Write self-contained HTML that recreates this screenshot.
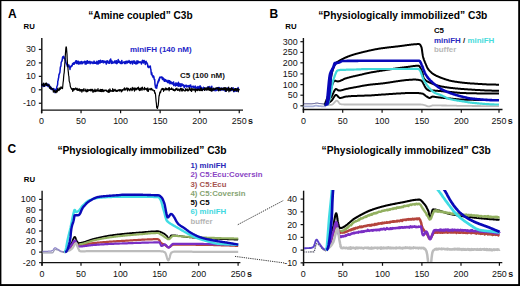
<!DOCTYPE html>
<html><head><meta charset="utf-8"><style>
html,body{margin:0;padding:0;background:#fff;}
body{width:520px;height:286px;overflow:hidden;}
svg{display:block;font-family:'Liberation Sans', sans-serif;}
</style></head><body>
<svg width="520" height="286" viewBox="0 0 520 286">
<rect x="0" y="0" width="520" height="286" fill="#fff"/>
<text x="7.9" y="17.5" font-size="12" font-weight="bold" text-anchor="start" fill="#000" >A</text>
<text x="88.3" y="19.0" font-size="10.1" font-weight="bold" text-anchor="start" fill="#000" >“Amine coupled” C3b</text>
<text x="23.6" y="28.9" font-size="7.8" font-weight="bold" text-anchor="start" fill="#000" >RU</text>
<line x1="41.8" y1="38" x2="41.8" y2="113.3" stroke="#111" stroke-width="1.4" />
<line x1="41.099999999999994" y1="110.1" x2="243" y2="110.1" stroke="#111" stroke-width="1.4" />
<line x1="38.8" y1="49.449999999999996" x2="41.8" y2="49.449999999999996" stroke="#111" stroke-width="1.2" />
<text x="35.8" y="52.349999999999994" font-size="8.9" font-weight="normal" text-anchor="end" fill="#111" >30</text>
<line x1="38.8" y1="62.9" x2="41.8" y2="62.9" stroke="#111" stroke-width="1.2" />
<text x="35.8" y="65.8" font-size="8.9" font-weight="normal" text-anchor="end" fill="#111" >20</text>
<line x1="38.8" y1="76.35" x2="41.8" y2="76.35" stroke="#111" stroke-width="1.2" />
<text x="35.8" y="79.25" font-size="8.9" font-weight="normal" text-anchor="end" fill="#111" >10</text>
<line x1="38.8" y1="89.8" x2="41.8" y2="89.8" stroke="#111" stroke-width="1.2" />
<text x="35.8" y="92.7" font-size="8.9" font-weight="normal" text-anchor="end" fill="#111" >0</text>
<line x1="38.8" y1="103.25" x2="41.8" y2="103.25" stroke="#111" stroke-width="1.2" />
<text x="35.8" y="106.15" font-size="8.9" font-weight="normal" text-anchor="end" fill="#111" >-10</text>
<line x1="41.5" y1="110.1" x2="41.5" y2="113.3" stroke="#111" stroke-width="1.2" />
<text x="41.5" y="124.1" font-size="8.9" font-weight="normal" text-anchor="middle" fill="#111" >0</text>
<line x1="81.05000000000001" y1="110.1" x2="81.05000000000001" y2="113.3" stroke="#111" stroke-width="1.2" />
<text x="81.05000000000001" y="124.1" font-size="8.9" font-weight="normal" text-anchor="middle" fill="#111" >50</text>
<line x1="120.60000000000001" y1="110.1" x2="120.60000000000001" y2="113.3" stroke="#111" stroke-width="1.2" />
<text x="120.60000000000001" y="124.1" font-size="8.9" font-weight="normal" text-anchor="middle" fill="#111" >100</text>
<line x1="160.15" y1="110.1" x2="160.15" y2="113.3" stroke="#111" stroke-width="1.2" />
<text x="160.15" y="124.1" font-size="8.9" font-weight="normal" text-anchor="middle" fill="#111" >150</text>
<line x1="199.70000000000002" y1="110.1" x2="199.70000000000002" y2="113.3" stroke="#111" stroke-width="1.2" />
<text x="199.70000000000002" y="124.1" font-size="8.9" font-weight="normal" text-anchor="middle" fill="#111" >200</text>
<line x1="239.25" y1="110.1" x2="239.25" y2="113.3" stroke="#111" stroke-width="1.2" />
<text x="239.25" y="124.1" font-size="8.9" font-weight="normal" text-anchor="middle" fill="#111" >250</text>
<text x="248.05" y="124.1" font-size="8.9" font-weight="bold" text-anchor="start" fill="#111" >s</text>
<text x="129.9" y="52.3" font-size="8" font-weight="bold" text-anchor="start" fill="#2424c8" >miniFH (140 nM)</text>
<text x="180.0" y="78.3" font-size="8" font-weight="bold" text-anchor="start" fill="#111" >C5 (100 nM)</text>
<polyline points="41.5,85.8 41.8,85.9 42.1,85.3 42.3,84.6 42.6,84.9 42.9,84.3 43.2,85.3 43.4,86.5 43.7,84.7 44.0,84.5 44.3,85.6 44.5,85.4 44.8,85.2 45.1,84.2 45.4,85.1 45.7,85.8 45.9,83.9 46.2,84.8 46.5,83.5 46.8,84.2 47.0,83.8 47.3,85.5 47.6,84.7 47.9,86.4 48.1,86.4 48.4,86.3 48.7,84.3 49.0,86.3 49.3,87.0 49.5,87.3 49.8,85.9 50.1,87.1 50.4,86.8 50.6,87.1 50.9,89.1 51.2,87.5 51.5,88.5 51.7,89.6 52.0,88.4 52.3,89.0 52.6,89.4 52.9,89.5 53.1,88.5 53.4,89.9 53.7,91.3 54.0,88.7 54.2,91.2 54.5,90.7 54.8,90.1 55.1,92.7 55.3,91.6 55.6,89.6 55.9,90.4 56.2,90.2 56.4,88.6 56.7,88.2 57.0,86.2 57.3,85.5 57.6,84.7 57.8,81.2 58.1,80.5 58.4,78.4 58.7,77.5 58.9,75.1 59.2,74.4 59.5,73.3 59.8,72.9 60.0,71.5 60.3,67.6 60.6,66.5 60.9,66.2 61.2,62.2 61.4,62.1 61.7,61.1 62.0,61.1 62.3,59.5 62.5,57.6 62.8,56.9 63.1,56.5 63.4,58.0 63.6,56.3 63.9,56.8 64.2,58.0 64.5,58.2 64.8,58.9 65.0,58.7 65.3,60.4 65.6,60.6 65.9,62.8 66.1,63.1 66.4,63.2 66.7,64.5 67.0,64.2 67.2,66.1 67.5,65.5 67.8,66.4 68.1,64.9 68.4,66.7 68.6,65.1 68.9,65.0 69.2,66.8 69.5,66.4 69.7,67.5 70.0,69.5 70.3,66.5 70.6,66.5 70.8,67.0 71.1,66.9 71.4,65.9 71.7,65.5 72.0,66.0 72.2,65.5 72.5,63.8 72.8,64.4 73.1,64.3 73.3,63.0 73.6,64.0 73.9,62.7 74.2,64.2 74.4,63.3 74.7,63.1 75.0,62.3 75.3,62.8 75.6,61.0 75.8,61.8 76.1,63.2 76.4,60.8 76.7,63.6 76.9,61.1 77.2,63.5 77.5,62.0 77.8,63.5 78.0,62.9 78.3,61.3 78.6,63.9 78.9,64.1 79.2,62.6 79.4,62.4 79.7,62.5 80.0,61.7 80.3,63.7 80.5,62.1 80.8,62.6 81.1,61.9 81.4,62.0 81.6,61.4 81.9,63.8 82.2,62.5 82.5,63.5 82.8,62.6 83.0,61.9 83.3,62.3 83.6,62.0 83.9,62.6 84.1,62.2 84.4,62.3 84.7,61.3 85.0,61.8 85.2,64.1 85.5,61.9 85.8,61.5 86.1,62.9 86.3,63.9 86.6,61.2 86.9,62.3 87.2,61.9 87.5,60.8 87.7,63.2 88.0,62.5 88.3,62.6 88.6,61.8 88.8,62.9 89.1,62.0 89.4,62.4 89.7,61.4 89.9,61.3 90.2,63.7 90.5,62.0 90.8,62.7 91.1,62.4 91.3,62.0 91.6,62.0 91.9,63.0 92.2,62.1 92.4,62.3 92.7,62.4 93.0,63.5 93.3,63.1 93.5,62.8 93.8,61.9 94.1,61.1 94.4,63.3 94.7,63.3 94.9,62.3 95.2,62.9 95.5,63.1 95.8,63.2 96.0,63.2 96.3,61.9 96.6,63.8 96.9,61.2 97.1,63.2 97.4,62.8 97.7,63.2 98.0,64.1 98.3,63.7 98.5,61.2 98.8,60.7 99.1,63.1 99.4,61.3 99.6,62.3 99.9,63.1 100.2,60.7 100.5,60.3 100.7,62.5 101.0,62.3 101.3,62.0 101.6,62.3 101.9,61.4 102.1,60.8 102.4,62.1 102.7,61.3 103.0,60.7 103.2,62.7 103.5,62.2 103.8,62.6 104.1,61.3 104.3,61.6 104.6,61.3 104.9,61.4 105.2,62.4 105.5,61.5 105.7,62.5 106.0,62.5 106.3,64.1 106.6,60.9 106.8,63.0 107.1,62.1 107.4,62.2 107.7,60.8 107.9,61.7 108.2,62.9 108.5,62.1 108.8,62.2 109.1,61.9 109.3,63.3 109.6,62.1 109.9,60.1 110.2,61.5 110.4,60.3 110.7,59.1 111.0,61.6 111.3,63.4 111.5,62.2 111.8,61.0 112.1,61.2 112.4,63.2 112.7,62.3 112.9,62.2 113.2,62.1 113.5,62.2 113.8,62.9 114.0,62.6 114.3,62.3 114.6,61.1 114.9,62.6 115.1,61.5 115.4,63.1 115.7,60.9 116.0,62.0 116.2,62.1 116.5,60.8 116.8,63.7 117.1,63.5 117.4,61.7 117.6,62.8 117.9,62.5 118.2,59.6 118.5,62.3 118.7,62.0 119.0,62.2 119.3,61.1 119.6,61.8 119.8,61.9 120.1,63.2 120.4,62.4 120.7,62.1 121.0,63.5 121.2,61.6 121.5,61.7 121.8,60.4 122.1,63.6 122.3,63.0 122.6,63.0 122.9,62.7 123.2,62.2 123.4,62.3 123.7,61.9 124.0,61.9 124.3,62.1 124.6,63.5 124.8,62.6 125.1,62.0 125.4,61.5 125.7,61.5 125.9,63.6 126.2,62.6 126.5,62.2 126.8,61.8 127.0,61.0 127.3,62.0 127.6,62.9 127.9,61.7 128.2,61.9 128.4,61.9 128.7,62.2 129.0,60.6 129.3,61.9 129.5,61.3 129.8,62.9 130.1,61.4 130.4,62.7 130.6,63.6 130.9,61.8 131.2,61.5 131.5,62.3 131.8,62.1 132.0,61.2 132.3,62.5 132.6,64.0 132.9,61.9 133.1,61.9 133.4,61.1 133.7,62.4 134.0,60.9 134.2,61.1 134.5,63.3 134.8,61.3 135.1,63.2 135.4,63.6 135.6,62.4 135.9,62.7 136.2,64.0 136.5,61.9 136.7,61.6 137.0,60.8 137.3,62.2 137.6,63.5 137.8,63.1 138.1,61.2 138.4,61.3 138.7,61.7 139.0,62.4 139.2,62.0 139.5,62.4 139.8,62.4 140.1,61.9 140.3,62.1 140.6,62.4 140.9,62.1 141.2,62.6 141.4,64.0 141.7,62.7 142.0,62.2 142.3,60.6 142.6,62.6 142.8,60.3 143.1,60.9 143.4,63.0 143.7,62.9 143.9,62.1 144.2,60.6 144.5,61.9 144.8,61.6 145.0,62.8 145.3,64.4 145.6,62.4 145.9,61.5 146.1,61.3 146.4,62.7 146.7,63.0 147.0,62.7 147.3,64.5 147.5,63.9 147.8,66.7 148.1,67.1 148.4,67.5 148.6,66.3 148.9,67.4 149.2,66.9 149.5,66.7 149.7,66.8 150.0,66.1 150.3,66.1 150.6,68.8 150.9,69.6 151.1,72.1 151.4,74.5 151.7,72.6 152.0,74.1 152.2,75.5 152.5,76.1 152.8,75.7 153.1,77.4 153.3,77.0 153.6,76.1 153.9,76.9 154.2,79.2 154.5,79.9 154.7,79.4 155.0,84.6 155.3,85.8 155.6,87.8 155.8,86.6 156.1,86.5 156.4,85.3 156.7,88.2 156.9,85.0 157.2,85.9 157.5,83.1 157.8,83.2 158.1,80.9 158.3,81.4 158.6,81.9 158.9,79.1 159.2,80.5 159.4,79.2 159.7,77.3 160.0,77.4 160.3,77.3 160.5,77.7 160.8,77.2 161.1,77.0 161.4,77.7 161.7,77.1 161.9,77.0 162.2,78.4 162.5,79.5 162.8,77.4 163.0,79.0 163.3,78.6 163.6,78.5 163.9,80.4 164.1,79.2 164.4,81.3 164.7,79.3 165.0,80.5 165.3,80.1 165.5,79.7 165.8,81.2 166.1,80.6 166.4,81.5 166.6,81.0 166.9,80.2 167.2,81.2 167.5,81.5 167.7,82.5 168.0,80.9 168.3,81.8 168.6,80.4 168.9,82.8 169.1,81.2 169.4,80.7 169.7,82.5 170.0,83.7 170.2,81.3 170.5,81.8 170.8,82.2 171.1,82.0 171.3,83.5 171.6,82.4 171.9,82.6 172.2,83.9 172.5,82.7 172.7,83.9 173.0,82.7 173.3,82.5 173.6,82.0 173.8,85.6 174.1,83.6 174.4,84.2 174.7,84.0 174.9,84.3 175.2,84.2 175.5,86.0 175.8,83.3 176.0,82.9 176.3,83.5 176.6,83.2 176.9,85.3 177.2,85.4 177.4,83.8 177.7,83.4 178.0,84.5 178.3,86.2 178.5,82.2 178.8,85.5 179.1,84.0 179.4,86.1 179.6,84.1 179.9,84.9 180.2,83.8 180.5,84.4 180.8,86.7 181.0,86.2 181.3,85.1 181.6,84.7 181.9,83.7 182.1,85.2 182.4,85.6 182.7,85.6 183.0,85.6 183.2,84.7 183.5,85.8 183.8,85.8 184.1,87.1 184.4,87.7 184.6,85.9 184.9,85.3 185.2,86.0 185.5,85.6 185.7,85.5 186.0,86.2 186.3,85.3 186.6,86.9 186.8,86.3 187.1,86.6 187.4,86.3 187.7,85.8 188.0,85.6 188.2,86.4 188.5,86.1 188.8,86.9 189.1,86.7 189.3,85.5 189.6,86.9 189.9,85.6 190.2,86.3 190.4,86.6 190.7,85.0 191.0,87.1 191.3,87.2 191.6,86.9 191.8,86.7 192.1,86.8 192.4,86.3 192.7,87.0 192.9,86.8 193.2,87.4 193.5,86.2 193.8,87.6 194.0,87.6 194.3,87.4 194.6,87.1 194.9,88.1 195.2,86.0 195.4,88.1 195.7,87.9 196.0,88.0 196.3,88.1 196.5,87.2 196.8,87.6 197.1,88.5 197.4,88.3 197.6,88.1 197.9,86.5 198.2,88.5 198.5,89.2 198.8,89.0 199.0,88.3 199.3,86.7 199.6,89.1 199.9,88.1 200.1,85.8 200.4,88.6 200.7,86.9 201.0,87.1 201.2,87.7 201.5,89.6 201.8,88.0 202.1,88.7 202.3,90.1 202.6,90.0 202.9,88.4 203.2,88.3 203.5,87.3 203.7,87.9 204.0,88.9 204.3,88.9 204.6,88.7 204.8,89.5 205.1,87.9 205.4,88.6 205.7,89.3 205.9,89.2 206.2,89.7 206.5,89.0 206.8,88.4 207.1,89.0 207.3,87.7 207.6,87.1 207.9,89.3 208.2,88.7 208.4,89.0 208.7,87.1 209.0,88.4 209.3,88.2 209.5,88.0 209.8,86.6 210.1,88.5 210.4,89.7 210.7,89.2 210.9,88.3 211.2,88.8 211.5,89.6 211.8,86.2 212.0,88.7 212.3,89.4 212.6,89.5 212.9,90.5 213.1,90.0 213.4,89.2 213.7,89.2 214.0,89.7 214.3,88.4 214.5,88.9 214.8,89.8 215.1,90.8 215.4,88.8 215.6,88.9 215.9,89.2 216.2,90.2 216.5,88.9 216.7,90.4 217.0,88.1 217.3,88.8 217.6,88.8 217.9,89.8 218.1,90.0 218.4,87.6 218.7,88.2 219.0,89.4 219.2,88.4 219.5,87.6 219.8,90.0 220.1,89.5 220.3,89.5 220.6,88.6 220.9,90.1 221.2,88.9 221.5,90.1 221.7,88.2 222.0,88.3 222.3,89.3 222.6,88.4 222.8,89.8 223.1,89.4 223.4,88.2 223.7,89.2 223.9,88.8 224.2,90.0 224.5,88.5 224.8,88.7 225.1,90.3 225.3,91.3 225.6,91.1 225.9,89.2 226.2,89.4 226.4,90.6 226.7,89.1 227.0,88.3 227.3,89.3 227.5,89.6 227.8,88.4 228.1,87.7 228.4,87.9 228.7,89.9 228.9,88.5 229.2,89.1 229.5,89.5 229.8,89.8 230.0,88.9 230.3,89.7 230.6,88.4 230.9,88.9 231.1,88.3 231.4,90.4 231.7,89.3 232.0,88.6 232.2,89.0 232.5,89.1 232.8,90.0 233.1,87.8 233.4,88.3 233.6,89.0 233.9,91.7 234.2,90.2 234.5,89.2 234.7,90.0 235.0,91.3 235.3,89.1 235.6,89.0 235.8,90.5 236.1,89.8 236.4,90.0 236.7,88.9 237.0,91.2 237.2,91.0 237.5,89.9 237.8,90.0 238.1,87.5 238.3,90.0 238.6,89.2 238.9,89.8 239.2,90.0" fill="none" stroke="#0a14c8" stroke-width="1.5" stroke-linejoin="round" stroke-linecap="butt" />
<polyline points="41.5,85.5 41.8,84.2 42.1,85.8 42.3,84.7 42.6,84.9 42.9,84.6 43.2,84.7 43.4,83.0 43.7,85.9 44.0,85.0 44.3,85.7 44.5,86.4 44.8,84.7 45.1,83.2 45.4,83.9 45.7,83.7 45.9,84.3 46.2,84.9 46.5,83.2 46.8,85.3 47.0,83.8 47.3,85.5 47.6,85.3 47.9,85.2 48.1,85.6 48.4,85.4 48.7,85.5 49.0,84.7 49.3,86.3 49.5,88.1 49.8,88.4 50.1,88.1 50.4,87.8 50.6,86.9 50.9,89.0 51.2,88.1 51.5,88.4 51.7,88.5 52.0,89.1 52.3,88.9 52.6,89.5 52.9,88.8 53.1,89.7 53.4,92.2 53.7,90.5 54.0,90.6 54.2,91.5 54.5,91.8 54.8,90.4 55.1,91.3 55.3,92.3 55.6,91.8 55.9,91.6 56.2,92.7 56.4,90.6 56.7,91.1 57.0,90.4 57.3,91.9 57.6,88.7 57.8,89.6 58.1,89.5 58.4,90.3 58.7,90.1 58.9,90.6 59.2,87.9 59.5,89.8 59.8,88.8 60.0,88.4 60.3,89.3 60.6,88.0 60.9,86.9 61.2,88.2 61.4,87.1 61.7,87.7 62.0,88.4 62.3,88.1 62.5,88.6 62.8,85.7 63.1,82.5 63.4,80.6 63.6,77.6 63.9,74.3 64.2,72.6 64.5,68.6 64.8,63.7 65.0,61.2 65.3,55.5 65.6,51.4 65.9,47.9 66.1,46.8 66.4,47.1 66.7,50.9 67.0,54.3 67.2,59.0 67.5,63.7 67.8,66.2 68.1,70.2 68.4,72.6 68.6,75.4 68.9,76.4 69.2,81.1 69.5,81.9 69.7,82.6 70.0,83.7 70.3,86.2 70.6,87.3 70.8,87.3 71.1,88.4 71.4,88.1 71.7,89.4 72.0,88.5 72.2,89.2 72.5,90.1 72.8,91.5 73.1,88.5 73.3,89.0 73.6,88.7 73.9,90.1 74.2,88.5 74.4,89.1 74.7,89.5 75.0,88.8 75.3,88.8 75.6,89.2 75.8,87.9 76.1,88.5 76.4,89.4 76.7,89.9 76.9,89.6 77.2,88.3 77.5,89.4 77.8,90.5 78.0,90.3 78.3,89.8 78.6,89.1 78.9,90.4 79.2,89.4 79.4,88.9 79.7,89.2 80.0,91.2 80.3,90.1 80.5,91.0 80.8,89.6 81.1,90.8 81.4,89.5 81.6,89.9 81.9,92.1 82.2,90.7 82.5,89.6 82.8,90.0 83.0,90.3 83.3,91.1 83.6,89.7 83.9,88.6 84.1,89.9 84.4,90.1 84.7,90.2 85.0,91.2 85.2,90.4 85.5,90.8 85.8,89.2 86.1,90.9 86.3,91.9 86.6,90.8 86.9,90.4 87.2,90.3 87.5,91.7 87.7,89.4 88.0,90.1 88.3,90.6 88.6,90.8 88.8,89.8 89.1,90.5 89.4,90.0 89.7,90.3 89.9,90.1 90.2,89.3 90.5,90.2 90.8,91.0 91.1,89.4 91.3,90.1 91.6,90.8 91.9,89.4 92.2,90.4 92.4,89.4 92.7,91.3 93.0,92.3 93.3,92.0 93.5,90.1 93.8,91.0 94.1,90.4 94.4,90.4 94.7,91.7 94.9,89.2 95.2,91.3 95.5,90.3 95.8,91.6 96.0,90.5 96.3,89.8 96.6,90.6 96.9,91.0 97.1,90.4 97.4,90.8 97.7,90.0 98.0,88.6 98.3,91.2 98.5,91.0 98.8,90.6 99.1,90.5 99.4,91.3 99.6,90.1 99.9,89.9 100.2,90.3 100.5,91.5 100.7,89.3 101.0,91.5 101.3,90.0 101.6,89.6 101.9,91.6 102.1,90.4 102.4,89.4 102.7,90.2 103.0,91.3 103.2,91.5 103.5,90.2 103.8,90.9 104.1,91.1 104.3,90.0 104.6,90.8 104.9,90.5 105.2,90.1 105.5,90.1 105.7,90.6 106.0,90.6 106.3,90.1 106.6,90.2 106.8,91.5 107.1,90.8 107.4,91.3 107.7,91.6 107.9,91.1 108.2,92.5 108.5,89.9 108.8,91.3 109.1,90.3 109.3,92.2 109.6,92.0 109.9,88.9 110.2,89.8 110.4,91.2 110.7,91.3 111.0,91.2 111.3,90.5 111.5,91.0 111.8,91.2 112.1,90.5 112.4,91.5 112.7,88.7 112.9,91.1 113.2,89.7 113.5,91.4 113.8,90.4 114.0,89.8 114.3,90.9 114.6,89.8 114.9,89.8 115.1,89.2 115.4,90.5 115.7,91.0 116.0,91.4 116.2,90.4 116.5,91.4 116.8,90.5 117.1,90.4 117.4,90.9 117.6,91.3 117.9,90.1 118.2,90.2 118.5,90.2 118.7,90.4 119.0,89.6 119.3,91.2 119.6,89.9 119.8,90.6 120.1,89.5 120.4,90.5 120.7,90.5 121.0,89.8 121.2,91.8 121.5,90.4 121.8,91.6 122.1,90.9 122.3,89.5 122.6,89.7 122.9,90.3 123.2,90.0 123.4,90.0 123.7,89.6 124.0,88.3 124.3,89.6 124.6,87.9 124.8,90.1 125.1,89.1 125.4,89.1 125.7,89.5 125.9,89.9 126.2,88.4 126.5,88.1 126.8,88.7 127.0,87.8 127.3,88.7 127.6,90.8 127.9,88.6 128.2,90.0 128.4,88.3 128.7,89.6 129.0,89.1 129.3,89.3 129.5,89.8 129.8,90.8 130.1,89.4 130.4,89.4 130.6,88.4 130.9,89.7 131.2,89.0 131.5,89.9 131.8,89.1 132.0,90.6 132.3,87.4 132.6,88.9 132.9,89.8 133.1,88.8 133.4,88.4 133.7,88.8 134.0,87.9 134.2,89.1 134.5,91.1 134.8,90.0 135.1,88.1 135.4,88.3 135.6,88.7 135.9,89.8 136.2,88.3 136.5,88.4 136.7,89.7 137.0,89.7 137.3,88.7 137.6,88.0 137.8,87.7 138.1,88.4 138.4,87.1 138.7,89.6 139.0,88.5 139.2,89.4 139.5,90.6 139.8,90.0 140.1,88.0 140.3,89.7 140.6,90.0 140.9,88.4 141.2,88.2 141.4,88.9 141.7,87.7 142.0,90.3 142.3,87.0 142.6,88.1 142.8,88.8 143.1,88.9 143.4,89.2 143.7,89.3 143.9,88.9 144.2,90.0 144.5,87.3 144.8,89.1 145.0,88.5 145.3,89.2 145.6,89.3 145.9,88.3 146.1,88.6 146.4,89.8 146.7,89.4 147.0,88.6 147.3,90.9 147.5,91.1 147.8,87.9 148.1,89.4 148.4,91.3 148.6,89.9 148.9,89.4 149.2,89.1 149.5,88.8 149.7,89.1 150.0,88.8 150.3,89.9 150.6,89.0 150.9,88.9 151.1,88.3 151.4,89.3 151.7,88.6 152.0,89.2 152.2,90.3 152.5,89.8 152.8,90.0 153.1,90.0 153.3,90.0 153.6,90.2 153.9,90.4 154.2,91.7 154.5,90.5 154.7,93.1 155.0,92.5 155.3,93.0 155.6,95.2 155.8,97.6 156.1,101.3 156.4,103.4 156.7,107.5 156.9,107.8 157.2,107.5 157.5,108.5 157.8,106.3 158.1,106.0 158.3,104.5 158.6,101.5 158.9,97.1 159.2,95.2 159.4,95.4 159.7,92.9 160.0,91.9 160.3,92.2 160.5,92.8 160.8,91.3 161.1,89.9 161.4,89.8 161.7,89.8 161.9,88.7 162.2,88.4 162.5,89.3 162.8,88.5 163.0,89.2 163.3,89.4 163.6,91.3 163.9,88.6 164.1,89.2 164.4,89.1 164.7,89.7 165.0,90.2 165.3,88.9 165.5,88.6 165.8,87.9 166.1,88.5 166.4,89.8 166.6,89.4 166.9,88.5 167.2,89.0 167.5,89.4 167.7,89.8 168.0,88.9 168.3,89.2 168.6,87.8 168.9,88.4 169.1,90.8 169.4,87.5 169.7,89.1 170.0,89.6 170.2,89.1 170.5,88.8 170.8,89.4 171.1,89.5 171.3,89.4 171.6,87.9 171.9,89.4 172.2,88.8 172.5,89.0 172.7,89.7 173.0,90.1 173.3,90.3 173.6,89.1 173.8,90.4 174.1,90.6 174.4,90.6 174.7,90.8 174.9,89.5 175.2,89.5 175.5,90.3 175.8,88.5 176.0,89.8 176.3,89.2 176.6,89.3 176.9,88.2 177.2,88.9 177.4,89.7 177.7,90.5 178.0,90.5 178.3,89.6 178.5,89.6 178.8,89.0 179.1,90.1 179.4,89.5 179.6,90.3 179.9,91.2 180.2,89.7 180.5,88.5 180.8,89.0 181.0,88.5 181.3,88.8 181.6,90.9 181.9,90.0 182.1,88.5 182.4,90.3 182.7,90.9 183.0,89.5 183.2,89.2 183.5,89.5 183.8,90.0 184.1,90.3 184.4,90.8 184.6,90.8 184.9,90.8 185.2,91.0 185.5,90.4 185.7,88.5 186.0,89.7 186.3,90.0 186.6,89.5 186.8,90.5 187.1,89.5 187.4,89.0 187.7,91.0 188.0,90.3 188.2,89.9 188.5,90.5 188.8,90.6 189.1,90.0 189.3,87.6 189.6,89.1 189.9,89.3 190.2,88.8 190.4,89.8 190.7,90.7 191.0,89.2 191.3,88.7 191.6,91.4 191.8,89.2 192.1,88.6 192.4,89.8 192.7,90.0 192.9,89.0 193.2,90.2 193.5,89.1 193.8,88.8 194.0,89.7 194.3,90.2 194.6,89.0 194.9,89.8 195.2,89.4 195.4,91.9 195.7,88.9 196.0,90.6 196.3,89.4 196.5,89.3 196.8,90.0 197.1,90.2 197.4,90.5 197.6,89.7 197.9,88.9 198.2,88.9 198.5,89.8 198.8,89.8 199.0,90.5 199.3,89.7 199.6,90.2 199.9,90.6 200.1,89.4 200.4,88.0 200.7,88.3 201.0,88.0 201.2,90.6 201.5,88.5 201.8,90.3 202.1,89.7 202.3,90.7 202.6,90.1 202.9,89.1 203.2,89.0 203.5,89.3 203.7,89.3 204.0,88.7 204.3,89.1 204.6,90.5 204.8,87.7 205.1,89.4 205.4,88.4 205.7,89.3 205.9,89.9 206.2,89.1 206.5,89.8 206.8,87.8 207.1,90.1 207.3,88.6 207.6,89.7 207.9,89.3 208.2,86.9 208.4,88.5 208.7,89.3 209.0,90.4 209.3,89.4 209.5,89.3 209.8,87.9 210.1,90.3 210.4,90.7 210.7,89.2 210.9,88.9 211.2,87.8 211.5,89.9 211.8,91.4 212.0,89.7 212.3,90.2 212.6,89.6 212.9,88.3 213.1,90.3 213.4,88.1 213.7,89.0 214.0,89.4 214.3,89.9 214.5,89.5 214.8,89.5 215.1,88.5 215.4,88.1 215.6,89.2 215.9,88.6 216.2,88.1 216.5,88.1 216.7,88.8 217.0,87.6 217.3,88.0 217.6,87.8 217.9,89.3 218.1,89.5 218.4,90.9 218.7,87.9 219.0,88.6 219.2,90.0 219.5,89.0 219.8,88.9 220.1,90.7 220.3,88.9 220.6,88.2 220.9,88.1 221.2,89.5 221.5,89.5 221.7,88.1 222.0,88.4 222.3,89.7 222.6,89.7 222.8,88.7 223.1,89.8 223.4,89.8 223.7,87.8 223.9,89.0 224.2,89.6 224.5,88.8 224.8,87.5 225.1,89.1 225.3,89.9 225.6,90.7 225.9,87.5 226.2,91.5 226.4,88.4 226.7,90.2 227.0,90.4 227.3,90.2 227.5,89.5 227.8,88.4 228.1,89.9 228.4,88.8 228.7,87.2 228.9,91.8 229.2,90.0 229.5,91.0 229.8,88.6 230.0,90.7 230.3,90.8 230.6,90.8 230.9,89.4 231.1,88.4 231.4,89.3 231.7,87.6 232.0,88.0 232.2,89.6 232.5,88.7 232.8,89.4 233.1,89.4 233.4,91.2 233.6,90.7 233.9,89.5 234.2,90.6 234.5,88.9 234.7,89.3 235.0,90.4 235.3,88.6 235.6,89.4 235.8,88.5 236.1,89.8 236.4,91.1 236.7,89.0 237.0,89.9 237.2,88.9 237.5,88.7 237.8,88.7 238.1,91.0 238.3,91.8 238.6,90.2 238.9,89.2 239.2,90.4" fill="none" stroke="#000" stroke-width="1.2" stroke-linejoin="round" stroke-linecap="butt" />
<text x="269.4" y="17.6" font-size="12" font-weight="bold" text-anchor="start" fill="#000" >B</text>
<text x="318.2" y="19.0" font-size="10.25" font-weight="bold" text-anchor="start" fill="#000" >“Physiologically immobilized” C3b</text>
<text x="285.3" y="29.0" font-size="7.8" font-weight="bold" text-anchor="start" fill="#000" >RU</text>
<line x1="303.4" y1="38" x2="303.4" y2="112.7" stroke="#111" stroke-width="1.4" />
<line x1="302.7" y1="109.5" x2="502.5" y2="109.5" stroke="#111" stroke-width="1.4" />
<line x1="300.4" y1="41.7" x2="303.4" y2="41.7" stroke="#111" stroke-width="1.2" />
<text x="297.6" y="44.6" font-size="8.9" font-weight="normal" text-anchor="end" fill="#111" >300</text>
<line x1="300.4" y1="52.4" x2="303.4" y2="52.4" stroke="#111" stroke-width="1.2" />
<text x="297.6" y="55.3" font-size="8.9" font-weight="normal" text-anchor="end" fill="#111" >250</text>
<line x1="300.4" y1="62.8" x2="303.4" y2="62.8" stroke="#111" stroke-width="1.2" />
<text x="297.6" y="65.7" font-size="8.9" font-weight="normal" text-anchor="end" fill="#111" >200</text>
<line x1="300.4" y1="73.9" x2="303.4" y2="73.9" stroke="#111" stroke-width="1.2" />
<text x="297.6" y="76.80000000000001" font-size="8.9" font-weight="normal" text-anchor="end" fill="#111" >150</text>
<line x1="300.4" y1="84.6" x2="303.4" y2="84.6" stroke="#111" stroke-width="1.2" />
<text x="297.6" y="87.5" font-size="8.9" font-weight="normal" text-anchor="end" fill="#111" >100</text>
<line x1="300.4" y1="95.2" x2="303.4" y2="95.2" stroke="#111" stroke-width="1.2" />
<text x="297.6" y="98.10000000000001" font-size="8.9" font-weight="normal" text-anchor="end" fill="#111" >50</text>
<line x1="300.4" y1="105.8" x2="303.4" y2="105.8" stroke="#111" stroke-width="1.2" />
<text x="297.6" y="108.7" font-size="8.9" font-weight="normal" text-anchor="end" fill="#111" >0</text>
<line x1="303.5" y1="109.5" x2="303.5" y2="112.7" stroke="#111" stroke-width="1.2" />
<text x="303.5" y="123.5" font-size="8.9" font-weight="normal" text-anchor="middle" fill="#111" >0</text>
<line x1="342.7" y1="109.5" x2="342.7" y2="112.7" stroke="#111" stroke-width="1.2" />
<text x="342.7" y="123.5" font-size="8.9" font-weight="normal" text-anchor="middle" fill="#111" >50</text>
<line x1="382.1" y1="109.5" x2="382.1" y2="112.7" stroke="#111" stroke-width="1.2" />
<text x="382.1" y="123.5" font-size="8.9" font-weight="normal" text-anchor="middle" fill="#111" >100</text>
<line x1="421.9" y1="109.5" x2="421.9" y2="112.7" stroke="#111" stroke-width="1.2" />
<text x="421.9" y="123.5" font-size="8.9" font-weight="normal" text-anchor="middle" fill="#111" >150</text>
<line x1="461.3" y1="109.5" x2="461.3" y2="112.7" stroke="#111" stroke-width="1.2" />
<text x="461.3" y="123.5" font-size="8.9" font-weight="normal" text-anchor="middle" fill="#111" >200</text>
<line x1="499.0" y1="109.5" x2="499.0" y2="112.7" stroke="#111" stroke-width="1.2" />
<text x="499.0" y="123.5" font-size="8.9" font-weight="normal" text-anchor="middle" fill="#111" >250</text>
<text x="507.8" y="123.5" font-size="8.9" font-weight="bold" text-anchor="start" fill="#111" >s</text>
<text x="433.9" y="33.4" font-size="7.9" font-weight="bold" text-anchor="start" fill="#000" >C5</text>
<text x="433.9" y="42.7" font-size="7.95" font-weight="bold"><tspan fill="#2a2ac0">miniFH</tspan><tspan fill="#222"> / </tspan><tspan fill="#48dcdc">miniFH</tspan></text>
<text x="433.9" y="52.0" font-size="7.9" font-weight="bold" text-anchor="start" fill="#b8b8b8" >buffer</text>
<polyline points="303.5,103.8 303.9,103.8 304.3,103.8 304.7,103.8 305.1,103.8 305.5,103.8 305.8,103.8 306.2,103.8 306.6,103.8 307.0,103.8 307.4,103.8 307.8,103.8 308.2,103.8 308.6,103.8 309.0,103.8 309.4,103.8 309.8,103.8 310.1,103.8 310.5,103.8 310.9,103.8 311.3,103.8 311.7,103.8 312.1,103.8 312.5,103.7 312.9,103.7 313.3,103.6 313.7,103.6 314.1,103.5 314.4,103.5 314.8,103.4 315.2,103.3 315.6,103.2 316.0,103.1 316.4,103.1 316.8,103.1 317.2,103.1 317.6,103.1 318.0,103.2 318.4,103.3 318.7,103.4 319.1,103.5 319.5,103.5 319.9,103.6 320.3,103.6 320.7,103.6 321.1,103.7 321.5,103.7 321.9,103.7 322.3,103.8 322.7,103.8 323.1,103.8 323.4,103.8 323.8,103.8 324.2,103.8 324.6,103.9 325.0,103.9 325.4,103.9 325.8,103.9 326.2,103.9" fill="none" stroke="#3a3a7a" stroke-width="1.0" stroke-linejoin="round" stroke-linecap="butt" />
<polyline points="303.5,106.3 303.9,106.3 304.3,106.3 304.7,106.3 305.1,106.3 305.5,106.3 305.8,106.3 306.2,106.3 306.6,106.3 307.0,106.3 307.4,106.3 307.8,106.3 308.2,106.3 308.6,106.3 309.0,106.3 309.4,106.3 309.8,106.3 310.1,106.3 310.5,106.3 310.9,106.3 311.3,106.3 311.7,106.3 312.1,106.3 312.5,106.3 312.9,106.3 313.3,106.3 313.7,106.2 314.1,106.1 314.4,105.9 314.8,105.8 315.2,105.7 315.6,105.6 316.0,105.6 316.4,105.6 316.8,105.7 317.2,105.8 317.6,105.9 318.0,106.0 318.4,106.0 318.7,106.0 319.1,106.1 319.5,106.1 319.9,106.2 320.3,106.2 320.7,106.2 321.1,106.2 321.5,106.3 321.9,106.3 322.3,106.3 322.7,106.3 323.1,106.3 323.4,106.3 323.8,106.3 324.2,106.3 324.6,106.3 325.0,106.3 325.4,106.3 325.8,106.2 326.2,106.2" fill="none" stroke="#a8b0d8" stroke-width="1.8" stroke-linejoin="round" stroke-linecap="butt" />
<polyline points="324.6,105.0 325.0,105.0 325.4,105.0 325.8,104.9 326.2,104.9 326.6,104.9 327.0,104.9 327.4,104.9 327.7,104.9 328.1,104.9 328.5,104.9 328.9,104.9 329.3,104.9 329.7,104.8 330.1,104.8 330.5,104.8 330.9,104.8 331.3,104.8 331.7,104.7 332.0,104.7 332.4,104.5 332.8,104.2 333.2,103.8 333.6,103.4 334.0,103.0 334.4,102.5 334.8,102.1 335.2,101.7 335.6,101.3 336.0,101.0 336.3,100.8 336.7,100.6 337.1,100.6 337.5,100.9 337.9,101.3 338.3,101.8 338.7,102.4 339.1,103.0 339.5,103.5 339.9,103.9 340.3,104.1 340.6,104.2 341.0,104.2 341.4,104.3 341.8,104.3 342.2,104.3 342.6,104.4 343.0,104.4 343.4,104.4 343.8,104.5 344.2,104.5 344.6,104.5 344.9,104.5 345.3,104.5 345.7,104.5 346.1,104.5 346.5,104.5 346.9,104.5 347.3,104.5 347.7,104.5 348.1,104.5 348.5,104.5 348.9,104.5 349.2,104.5 349.6,104.5 350.0,104.5 350.4,104.5 350.8,104.5 351.2,104.5 351.6,104.5 352.0,104.5 352.4,104.5 352.8,104.5 353.2,104.5 353.5,104.5 353.9,104.5 354.3,104.5 354.7,104.5 355.1,104.5 355.5,104.5 355.9,104.5 356.3,104.5 356.7,104.5 357.1,104.5 357.5,104.5 357.8,104.5 358.2,104.5 358.6,104.5 359.0,104.5 359.4,104.5 359.8,104.5 360.2,104.5 360.6,104.5 361.0,104.5 361.4,104.5 361.8,104.5 362.1,104.5 362.5,104.5 362.9,104.5 363.3,104.5 363.7,104.5 364.1,104.5 364.5,104.5 364.9,104.5 365.3,104.5 365.7,104.5 366.1,104.5 366.5,104.5 366.8,104.5 367.2,104.5 367.6,104.5 368.0,104.5 368.4,104.5 368.8,104.5 369.2,104.5 369.6,104.5 370.0,104.5 370.4,104.5 370.8,104.5 371.1,104.5 371.5,104.5 371.9,104.5 372.3,104.5 372.7,104.5 373.1,104.5 373.5,104.5 373.9,104.5 374.3,104.5 374.7,104.5 375.1,104.5 375.4,104.5 375.8,104.5 376.2,104.5 376.6,104.5 377.0,104.5 377.4,104.5 377.8,104.5 378.2,104.5 378.6,104.5 379.0,104.5 379.4,104.5 379.7,104.5 380.1,104.5 380.5,104.5 380.9,104.5 381.3,104.5 381.7,104.5 382.1,104.5 382.5,104.5 382.9,104.5 383.3,104.5 383.7,104.5 384.0,104.5 384.4,104.5 384.8,104.5 385.2,104.5 385.6,104.5 386.0,104.5 386.4,104.5 386.8,104.5 387.2,104.5 387.6,104.5 388.0,104.5 388.3,104.5 388.7,104.5 389.1,104.5 389.5,104.5 389.9,104.5 390.3,104.5 390.7,104.5 391.1,104.5 391.5,104.5 391.9,104.5 392.3,104.5 392.6,104.5 393.0,104.5 393.4,104.5 393.8,104.5 394.2,104.5 394.6,104.5 395.0,104.5 395.4,104.5 395.8,104.5 396.2,104.5 396.6,104.5 396.9,104.5 397.3,104.5 397.7,104.5 398.1,104.5 398.5,104.5 398.9,104.5 399.3,104.5 399.7,104.5 400.1,104.5 400.5,104.5 400.9,104.5 401.2,104.5 401.6,104.5 402.0,104.5 402.4,104.5 402.8,104.5 403.2,104.5 403.6,104.5 404.0,104.5 404.4,104.5 404.8,104.5 405.2,104.5 405.6,104.5 405.9,104.5 406.3,104.5 406.7,104.5 407.1,104.5 407.5,104.5 407.9,104.5 408.3,104.5 408.7,104.5 409.1,104.5 409.5,104.5 409.9,104.5 410.2,104.5 410.6,104.5 411.0,104.5 411.4,104.5 411.8,104.5 412.2,104.5 412.6,104.5 413.0,104.5 413.4,104.5 413.8,104.5 414.2,104.5 414.5,104.5 414.9,104.5 415.3,104.5 415.7,104.5 416.1,104.5 416.5,104.5 416.9,104.5 417.3,104.5 417.7,104.5 418.1,104.5 418.5,104.5 418.8,104.5 419.2,104.5 419.6,104.5 420.0,104.5 420.4,104.5 420.8,104.5 421.2,104.5 421.6,104.6 422.0,104.6 422.4,104.7 422.8,104.7 423.1,104.8 423.5,104.9 423.9,105.0 424.3,105.1 424.7,105.2 425.1,105.3 425.5,105.4 425.9,105.6 426.3,105.7 426.7,105.9 427.1,106.1 427.4,106.2 427.8,106.3 428.2,106.4 428.6,106.4 429.0,106.4 429.4,106.4 429.8,106.3 430.2,106.2 430.6,106.0 431.0,105.9 431.4,105.8 431.7,105.7 432.1,105.5 432.5,105.5 432.9,105.4 433.3,105.4 433.7,105.4 434.1,105.4 434.5,105.4 434.9,105.4 435.3,105.4 435.7,105.4 436.0,105.4 436.4,105.4 436.8,105.4 437.2,105.4 437.6,105.4 438.0,105.4 438.4,105.4 438.8,105.4 439.2,105.4 439.6,105.4 440.0,105.4 440.4,105.4 440.7,105.4 441.1,105.4 441.5,105.5 441.9,105.5 442.3,105.5 442.7,105.5 443.1,105.5 443.5,105.5 443.9,105.5 444.3,105.5 444.7,105.5 445.0,105.5 445.4,105.5 445.8,105.5 446.2,105.5 446.6,105.5 447.0,105.6 447.4,105.6 447.8,105.6 448.2,105.6 448.6,105.6 449.0,105.6 449.3,105.6 449.7,105.6 450.1,105.6 450.5,105.6 450.9,105.6 451.3,105.6 451.7,105.7 452.1,105.7 452.5,105.7 452.9,105.7 453.3,105.7 453.6,105.7 454.0,105.7 454.4,105.7 454.8,105.7 455.2,105.7 455.6,105.7 456.0,105.7 456.4,105.7 456.8,105.8 457.2,105.8 457.6,105.8 457.9,105.8 458.3,105.8 458.7,105.8 459.1,105.8 459.5,105.8 459.9,105.8 460.3,105.8 460.7,105.8 461.1,105.8 461.5,105.8 461.9,105.8 462.2,105.8 462.6,105.8 463.0,105.8 463.4,105.8 463.8,105.9 464.2,105.9 464.6,105.9 465.0,105.9 465.4,105.9 465.8,105.9 466.2,105.9 466.5,105.9 466.9,105.9 467.3,105.9 467.7,105.9 468.1,105.9 468.5,105.9 468.9,105.9 469.3,105.9 469.7,105.9 470.1,105.9 470.5,105.9 470.8,105.9 471.2,105.9 471.6,105.9 472.0,106.0 472.4,106.0 472.8,106.0 473.2,106.0 473.6,106.0 474.0,106.0 474.4,106.0 474.8,106.0 475.1,106.0 475.5,106.0 475.9,106.0 476.3,106.0 476.7,106.0 477.1,106.0 477.5,106.0 477.9,106.0 478.3,106.0 478.7,106.0 479.1,106.0 479.5,106.0 479.8,106.0 480.2,106.0 480.6,106.0 481.0,106.1 481.4,106.1 481.8,106.1 482.2,106.1 482.6,106.1 483.0,106.1 483.4,106.1 483.8,106.1 484.1,106.1 484.5,106.1 484.9,106.1 485.3,106.1 485.7,106.1 486.1,106.1 486.5,106.1 486.9,106.1 487.3,106.1 487.7,106.1 488.1,106.1 488.4,106.1 488.8,106.1 489.2,106.1 489.6,106.1 490.0,106.1 490.4,106.1 490.8,106.2 491.2,106.2 491.6,106.2 492.0,106.2 492.4,106.2 492.7,106.2 493.1,106.2 493.5,106.2 493.9,106.2 494.3,106.2 494.7,106.2 495.1,106.2 495.5,106.2 495.9,106.2 496.3,106.2 496.7,106.2 497.0,106.2 497.4,106.2 497.8,106.2 498.2,106.2 498.6,106.2 499.0,106.2" fill="none" stroke="#bdbdbd" stroke-width="1.8" stroke-linejoin="round" stroke-linecap="butt" />
<polyline points="324.6,105.0 325.0,104.9 325.4,104.7 325.8,104.6 326.2,104.4 326.6,104.2 327.0,104.0 327.4,103.8 327.7,103.6 328.1,103.3 328.5,103.0 328.9,102.7 329.3,102.5 329.7,102.2 330.1,101.8 330.5,101.5 330.9,101.2 331.3,100.9 331.7,100.5 332.0,100.1 332.4,99.6 332.8,99.0 333.2,98.3 333.6,97.6 334.0,97.0 334.4,96.3 334.8,95.8 335.2,95.3 335.6,95.0 336.0,94.9 336.3,95.0 336.7,95.2 337.1,95.5 337.5,95.9 337.9,96.3 338.3,96.8 338.7,97.2 339.1,97.5 339.5,97.8 339.9,98.0 340.3,98.0 340.6,97.9 341.0,97.9 341.4,97.8 341.8,97.7 342.2,97.6 342.6,97.5 343.0,97.4 343.4,97.3 343.8,97.2 344.2,97.0 344.6,96.9 344.9,96.8 345.3,96.7 345.7,96.6 346.1,96.6 346.5,96.5 346.9,96.5 347.3,96.4 347.7,96.4 348.1,96.4 348.5,96.3 348.9,96.3 349.2,96.3 349.6,96.2 350.0,96.2 350.4,96.2 350.8,96.2 351.2,96.1 351.6,96.1 352.0,96.1 352.4,96.1 352.8,96.0 353.2,96.0 353.5,96.0 353.9,96.0 354.3,96.0 354.7,96.0 355.1,95.9 355.5,95.9 355.9,95.9 356.3,95.9 356.7,95.9 357.1,95.9 357.5,95.8 357.8,95.8 358.2,95.8 358.6,95.8 359.0,95.8 359.4,95.8 359.8,95.8 360.2,95.8 360.6,95.8 361.0,95.7 361.4,95.7 361.8,95.7 362.1,95.7 362.5,95.7 362.9,95.7 363.3,95.7 363.7,95.7 364.1,95.7 364.5,95.6 364.9,95.6 365.3,95.6 365.7,95.6 366.1,95.6 366.5,95.6 366.8,95.6 367.2,95.6 367.6,95.5 368.0,95.5 368.4,95.5 368.8,95.5 369.2,95.5 369.6,95.5 370.0,95.4 370.4,95.4 370.8,95.4 371.1,95.4 371.5,95.4 371.9,95.3 372.3,95.3 372.7,95.3 373.1,95.3 373.5,95.2 373.9,95.2 374.3,95.2 374.7,95.1 375.1,95.1 375.4,95.1 375.8,95.0 376.2,95.0 376.6,95.0 377.0,94.9 377.4,94.9 377.8,94.9 378.2,94.9 378.6,94.8 379.0,94.8 379.4,94.8 379.7,94.7 380.1,94.7 380.5,94.7 380.9,94.7 381.3,94.6 381.7,94.6 382.1,94.6 382.5,94.6 382.9,94.5 383.3,94.5 383.7,94.5 384.0,94.5 384.4,94.4 384.8,94.4 385.2,94.4 385.6,94.4 386.0,94.3 386.4,94.3 386.8,94.3 387.2,94.2 387.6,94.2 388.0,94.2 388.3,94.2 388.7,94.1 389.1,94.1 389.5,94.1 389.9,94.1 390.3,94.0 390.7,94.0 391.1,94.0 391.5,94.0 391.9,93.9 392.3,93.9 392.6,93.9 393.0,93.8 393.4,93.8 393.8,93.8 394.2,93.8 394.6,93.7 395.0,93.7 395.4,93.7 395.8,93.7 396.2,93.6 396.6,93.6 396.9,93.6 397.3,93.6 397.7,93.5 398.1,93.5 398.5,93.5 398.9,93.5 399.3,93.4 399.7,93.4 400.1,93.4 400.5,93.4 400.9,93.4 401.2,93.3 401.6,93.3 402.0,93.3 402.4,93.3 402.8,93.3 403.2,93.2 403.6,93.2 404.0,93.2 404.4,93.2 404.8,93.2 405.2,93.1 405.6,93.1 405.9,93.1 406.3,93.1 406.7,93.1 407.1,93.1 407.5,93.0 407.9,93.0 408.3,93.0 408.7,93.0 409.1,93.0 409.5,93.0 409.9,93.0 410.2,93.0 410.6,93.0 411.0,93.0 411.4,92.9 411.8,92.9 412.2,92.9 412.6,92.9 413.0,92.9 413.4,92.9 413.8,92.9 414.2,92.9 414.5,92.9 414.9,92.9 415.3,92.9 415.7,92.9 416.1,92.9 416.5,92.9 416.9,93.0 417.3,93.0 417.7,93.0 418.1,93.0 418.5,93.1 418.8,93.1 419.2,93.2 419.6,93.2 420.0,93.2 420.4,93.3 420.8,93.4 421.2,93.4 421.6,93.5 422.0,93.5 422.4,93.6 422.8,93.7 423.1,93.9 423.5,94.1 423.9,94.4 424.3,94.7 424.7,95.0 425.1,95.3 425.5,95.7 425.9,96.0 426.3,96.3 426.7,96.5 427.1,96.7 427.4,97.0 427.8,97.2 428.2,97.5 428.6,97.7 429.0,97.8 429.4,98.0 429.8,98.0 430.2,97.9 430.6,97.7 431.0,97.4 431.4,97.2 431.7,96.9 432.1,96.7 432.5,96.6 432.9,96.6 433.3,96.6 433.7,96.7 434.1,96.7 434.5,96.8 434.9,96.9 435.3,96.9 435.7,97.0 436.0,97.1 436.4,97.1 436.8,97.2 437.2,97.2 437.6,97.3 438.0,97.3 438.4,97.4 438.8,97.4 439.2,97.5 439.6,97.5 440.0,97.5 440.4,97.6 440.7,97.6 441.1,97.7 441.5,97.7 441.9,97.7 442.3,97.8 442.7,97.8 443.1,97.9 443.5,97.9 443.9,97.9 444.3,98.0 444.7,98.0 445.0,98.0 445.4,98.1 445.8,98.1 446.2,98.2 446.6,98.2 447.0,98.2 447.4,98.3 447.8,98.3 448.2,98.4 448.6,98.4 449.0,98.4 449.3,98.5 449.7,98.5 450.1,98.6 450.5,98.6 450.9,98.6 451.3,98.7 451.7,98.7 452.1,98.8 452.5,98.8 452.9,98.8 453.3,98.9 453.6,98.9 454.0,98.9 454.4,99.0 454.8,99.0 455.2,99.1 455.6,99.1 456.0,99.1 456.4,99.2 456.8,99.2 457.2,99.2 457.6,99.3 457.9,99.3 458.3,99.3 458.7,99.4 459.1,99.4 459.5,99.4 459.9,99.4 460.3,99.5 460.7,99.5 461.1,99.5 461.5,99.5 461.9,99.6 462.2,99.6 462.6,99.6 463.0,99.6 463.4,99.6 463.8,99.6 464.2,99.7 464.6,99.7 465.0,99.7 465.4,99.7 465.8,99.7 466.2,99.7 466.5,99.7 466.9,99.7 467.3,99.7 467.7,99.7 468.1,99.7 468.5,99.7 468.9,99.8 469.3,99.8 469.7,99.8 470.1,99.8 470.5,99.8 470.8,99.8 471.2,99.8 471.6,99.8 472.0,99.8 472.4,99.8 472.8,99.8 473.2,99.8 473.6,99.9 474.0,99.9 474.4,99.9 474.8,99.9 475.1,99.9 475.5,99.9 475.9,99.9 476.3,99.9 476.7,99.9 477.1,99.9 477.5,99.9 477.9,99.9 478.3,99.9 478.7,99.9 479.1,99.9 479.5,99.9 479.8,100.0 480.2,100.0 480.6,100.0 481.0,100.0 481.4,100.0 481.8,100.0 482.2,100.0 482.6,100.0 483.0,100.0 483.4,100.0 483.8,100.0 484.1,100.0 484.5,100.0 484.9,100.0 485.3,100.0 485.7,100.0 486.1,100.0 486.5,100.0 486.9,100.0 487.3,100.0 487.7,100.0 488.1,100.0 488.4,100.0 488.8,100.1 489.2,100.1 489.6,100.1 490.0,100.1 490.4,100.1 490.8,100.1 491.2,100.1 491.6,100.1 492.0,100.1 492.4,100.1 492.7,100.1 493.1,100.1 493.5,100.1 493.9,100.1 494.3,100.1 494.7,100.1 495.1,100.1 495.5,100.1 495.9,100.1 496.3,100.1 496.7,100.1 497.0,100.1 497.4,100.1 497.8,100.1 498.2,100.1 498.6,100.1 499.0,100.1" fill="none" stroke="#000" stroke-width="2.0" stroke-linejoin="round" stroke-linecap="butt" />
<polyline points="324.6,105.0 325.0,104.6 325.4,104.2 325.8,103.8 326.2,103.3 326.6,102.9 327.0,102.5 327.4,102.0 327.7,101.5 328.1,101.0 328.5,100.5 328.9,100.0 329.3,99.5 329.7,99.0 330.1,98.5 330.5,97.9 330.9,97.4 331.3,96.8 331.7,96.3 332.0,95.7 332.4,94.9 332.8,94.1 333.2,93.2 333.6,92.4 334.0,91.5 334.4,90.8 334.8,90.1 335.2,89.5 335.6,89.2 336.0,89.0 336.3,89.1 336.7,89.2 337.1,89.5 337.5,89.8 337.9,90.1 338.3,90.4 338.7,90.5 339.1,90.6 339.5,90.6 339.9,90.5 340.3,90.5 340.6,90.4 341.0,90.4 341.4,90.3 341.8,90.2 342.2,90.1 342.6,90.0 343.0,89.9 343.4,89.8 343.8,89.6 344.2,89.5 344.6,89.4 344.9,89.3 345.3,89.2 345.7,89.1 346.1,89.0 346.5,88.9 346.9,88.8 347.3,88.7 347.7,88.7 348.1,88.6 348.5,88.5 348.9,88.4 349.2,88.3 349.6,88.3 350.0,88.2 350.4,88.1 350.8,88.1 351.2,88.0 351.6,87.9 352.0,87.8 352.4,87.8 352.8,87.7 353.2,87.6 353.5,87.5 353.9,87.5 354.3,87.4 354.7,87.3 355.1,87.3 355.5,87.2 355.9,87.1 356.3,87.0 356.7,87.0 357.1,86.9 357.5,86.8 357.8,86.7 358.2,86.7 358.6,86.6 359.0,86.5 359.4,86.4 359.8,86.4 360.2,86.3 360.6,86.2 361.0,86.1 361.4,86.1 361.8,86.0 362.1,85.9 362.5,85.8 362.9,85.8 363.3,85.7 363.7,85.6 364.1,85.6 364.5,85.5 364.9,85.4 365.3,85.4 365.7,85.3 366.1,85.2 366.5,85.2 366.8,85.1 367.2,85.0 367.6,85.0 368.0,84.9 368.4,84.9 368.8,84.8 369.2,84.8 369.6,84.7 370.0,84.7 370.4,84.6 370.8,84.6 371.1,84.5 371.5,84.5 371.9,84.5 372.3,84.4 372.7,84.4 373.1,84.3 373.5,84.3 373.9,84.3 374.3,84.2 374.7,84.2 375.1,84.2 375.4,84.1 375.8,84.1 376.2,84.1 376.6,84.0 377.0,84.0 377.4,83.9 377.8,83.9 378.2,83.9 378.6,83.8 379.0,83.8 379.4,83.8 379.7,83.7 380.1,83.7 380.5,83.6 380.9,83.6 381.3,83.6 381.7,83.5 382.1,83.5 382.5,83.4 382.9,83.4 383.3,83.3 383.7,83.3 384.0,83.2 384.4,83.2 384.8,83.1 385.2,83.1 385.6,83.0 386.0,82.9 386.4,82.9 386.8,82.8 387.2,82.8 387.6,82.7 388.0,82.7 388.3,82.6 388.7,82.5 389.1,82.5 389.5,82.4 389.9,82.4 390.3,82.3 390.7,82.2 391.1,82.2 391.5,82.1 391.9,82.1 392.3,82.0 392.6,81.9 393.0,81.9 393.4,81.8 393.8,81.8 394.2,81.7 394.6,81.6 395.0,81.6 395.4,81.5 395.8,81.5 396.2,81.4 396.6,81.3 396.9,81.3 397.3,81.2 397.7,81.2 398.1,81.1 398.5,81.0 398.9,81.0 399.3,80.9 399.7,80.9 400.1,80.8 400.5,80.8 400.9,80.7 401.2,80.7 401.6,80.6 402.0,80.6 402.4,80.5 402.8,80.5 403.2,80.4 403.6,80.4 404.0,80.3 404.4,80.3 404.8,80.2 405.2,80.2 405.6,80.1 405.9,80.1 406.3,80.1 406.7,80.0 407.1,80.0 407.5,80.0 407.9,79.9 408.3,79.9 408.7,79.9 409.1,79.8 409.5,79.8 409.9,79.8 410.2,79.7 410.6,79.7 411.0,79.7 411.4,79.7 411.8,79.7 412.2,79.7 412.6,79.6 413.0,79.6 413.4,79.6 413.8,79.6 414.2,79.6 414.5,79.6 414.9,79.6 415.3,79.6 415.7,79.6 416.1,79.6 416.5,79.7 416.9,79.7 417.3,79.7 417.7,79.8 418.1,79.8 418.5,79.9 418.8,80.0 419.2,80.1 419.6,80.1 420.0,80.2 420.4,80.3 420.8,80.4 421.2,80.6 421.6,80.9 422.0,81.3 422.4,81.8 422.8,82.4 423.1,83.1 423.5,83.9 423.9,84.6 424.3,85.4 424.7,86.2 425.1,86.9 425.5,87.6 425.9,88.2 426.3,88.7 426.7,89.1 427.1,89.4 427.4,89.7 427.8,89.9 428.2,90.2 428.6,90.4 429.0,90.6 429.4,90.7 429.8,90.7 430.2,90.7 430.6,90.7 431.0,90.6 431.4,90.6 431.7,90.6 432.1,90.6 432.5,90.6 432.9,90.6 433.3,90.6 433.7,90.6 434.1,90.6 434.5,90.6 434.9,90.6 435.3,90.7 435.7,90.7 436.0,90.7 436.4,90.7 436.8,90.8 437.2,90.8 437.6,90.8 438.0,90.9 438.4,90.9 438.8,90.9 439.2,91.0 439.6,91.0 440.0,91.0 440.4,91.1 440.7,91.1 441.1,91.1 441.5,91.2 441.9,91.2 442.3,91.3 442.7,91.3 443.1,91.3 443.5,91.4 443.9,91.4 444.3,91.4 444.7,91.4 445.0,91.5 445.4,91.5 445.8,91.5 446.2,91.6 446.6,91.6 447.0,91.6 447.4,91.7 447.8,91.7 448.2,91.8 448.6,91.8 449.0,91.8 449.3,91.9 449.7,91.9 450.1,91.9 450.5,92.0 450.9,92.0 451.3,92.1 451.7,92.1 452.1,92.1 452.5,92.2 452.9,92.2 453.3,92.3 453.6,92.3 454.0,92.3 454.4,92.4 454.8,92.4 455.2,92.5 455.6,92.5 456.0,92.5 456.4,92.6 456.8,92.6 457.2,92.6 457.6,92.7 457.9,92.7 458.3,92.7 458.7,92.8 459.1,92.8 459.5,92.8 459.9,92.9 460.3,92.9 460.7,92.9 461.1,92.9 461.5,93.0 461.9,93.0 462.2,93.0 462.6,93.0 463.0,93.1 463.4,93.1 463.8,93.1 464.2,93.1 464.6,93.1 465.0,93.1 465.4,93.1 465.8,93.1 466.2,93.1 466.5,93.2 466.9,93.2 467.3,93.2 467.7,93.2 468.1,93.2 468.5,93.2 468.9,93.2 469.3,93.2 469.7,93.2 470.1,93.2 470.5,93.2 470.8,93.2 471.2,93.3 471.6,93.3 472.0,93.3 472.4,93.3 472.8,93.3 473.2,93.3 473.6,93.3 474.0,93.3 474.4,93.3 474.8,93.3 475.1,93.3 475.5,93.3 475.9,93.3 476.3,93.3 476.7,93.4 477.1,93.4 477.5,93.4 477.9,93.4 478.3,93.4 478.7,93.4 479.1,93.4 479.5,93.4 479.8,93.4 480.2,93.4 480.6,93.4 481.0,93.4 481.4,93.4 481.8,93.4 482.2,93.4 482.6,93.4 483.0,93.4 483.4,93.4 483.8,93.5 484.1,93.5 484.5,93.5 484.9,93.5 485.3,93.5 485.7,93.5 486.1,93.5 486.5,93.5 486.9,93.5 487.3,93.5 487.7,93.5 488.1,93.5 488.4,93.5 488.8,93.5 489.2,93.5 489.6,93.5 490.0,93.5 490.4,93.5 490.8,93.5 491.2,93.5 491.6,93.5 492.0,93.5 492.4,93.5 492.7,93.5 493.1,93.5 493.5,93.5 493.9,93.5 494.3,93.5 494.7,93.5 495.1,93.5 495.5,93.5 495.9,93.5 496.3,93.5 496.7,93.5 497.0,93.5 497.4,93.5 497.8,93.5 498.2,93.5 498.6,93.5 499.0,93.5" fill="none" stroke="#000" stroke-width="2.0" stroke-linejoin="round" stroke-linecap="butt" />
<polyline points="324.6,105.0 325.0,103.9 325.4,102.8 325.8,101.7 326.2,100.7 326.6,99.6 327.0,98.6 327.4,97.6 327.7,96.6 328.1,95.6 328.5,94.6 328.9,93.6 329.3,92.7 329.7,91.7 330.1,90.8 330.5,89.8 330.9,88.9 331.3,87.9 331.7,86.8 332.0,85.7 332.4,84.5 332.8,83.5 333.2,82.5 333.6,81.7 334.0,81.1 334.4,80.7 334.8,80.7 335.2,80.7 335.6,80.8 336.0,81.0 336.3,81.1 336.7,81.2 337.1,81.3 337.5,81.4 337.9,81.4 338.3,81.4 338.7,81.3 339.1,81.2 339.5,81.1 339.9,81.0 340.3,80.9 340.6,80.7 341.0,80.5 341.4,80.4 341.8,80.2 342.2,80.0 342.6,79.8 343.0,79.6 343.4,79.4 343.8,79.2 344.2,79.0 344.6,78.9 344.9,78.7 345.3,78.5 345.7,78.4 346.1,78.3 346.5,78.2 346.9,78.1 347.3,77.9 347.7,77.8 348.1,77.7 348.5,77.6 348.9,77.5 349.2,77.4 349.6,77.3 350.0,77.2 350.4,77.1 350.8,77.0 351.2,76.9 351.6,76.8 352.0,76.7 352.4,76.6 352.8,76.5 353.2,76.4 353.5,76.3 353.9,76.3 354.3,76.2 354.7,76.1 355.1,76.0 355.5,75.9 355.9,75.8 356.3,75.7 356.7,75.6 357.1,75.5 357.5,75.5 357.8,75.4 358.2,75.3 358.6,75.2 359.0,75.1 359.4,75.0 359.8,74.9 360.2,74.8 360.6,74.7 361.0,74.7 361.4,74.6 361.8,74.5 362.1,74.4 362.5,74.3 362.9,74.2 363.3,74.1 363.7,74.0 364.1,73.9 364.5,73.8 364.9,73.7 365.3,73.6 365.7,73.6 366.1,73.5 366.5,73.4 366.8,73.3 367.2,73.2 367.6,73.1 368.0,73.0 368.4,72.9 368.8,72.9 369.2,72.8 369.6,72.7 370.0,72.6 370.4,72.6 370.8,72.5 371.1,72.4 371.5,72.3 371.9,72.3 372.3,72.2 372.7,72.1 373.1,72.1 373.5,72.0 373.9,71.9 374.3,71.9 374.7,71.8 375.1,71.7 375.4,71.7 375.8,71.6 376.2,71.5 376.6,71.5 377.0,71.4 377.4,71.3 377.8,71.3 378.2,71.2 378.6,71.2 379.0,71.1 379.4,71.0 379.7,71.0 380.1,70.9 380.5,70.8 380.9,70.8 381.3,70.7 381.7,70.7 382.1,70.6 382.5,70.5 382.9,70.5 383.3,70.4 383.7,70.3 384.0,70.3 384.4,70.2 384.8,70.2 385.2,70.1 385.6,70.0 386.0,70.0 386.4,69.9 386.8,69.8 387.2,69.8 387.6,69.7 388.0,69.7 388.3,69.6 388.7,69.5 389.1,69.5 389.5,69.4 389.9,69.4 390.3,69.3 390.7,69.2 391.1,69.2 391.5,69.1 391.9,69.1 392.3,69.0 392.6,69.0 393.0,68.9 393.4,68.8 393.8,68.8 394.2,68.7 394.6,68.7 395.0,68.6 395.4,68.6 395.8,68.5 396.2,68.4 396.6,68.4 396.9,68.3 397.3,68.3 397.7,68.2 398.1,68.2 398.5,68.1 398.9,68.1 399.3,68.0 399.7,67.9 400.1,67.9 400.5,67.8 400.9,67.8 401.2,67.7 401.6,67.7 402.0,67.6 402.4,67.6 402.8,67.5 403.2,67.5 403.6,67.4 404.0,67.4 404.4,67.3 404.8,67.3 405.2,67.2 405.6,67.2 405.9,67.1 406.3,67.1 406.7,67.0 407.1,67.0 407.5,66.9 407.9,66.9 408.3,66.8 408.7,66.8 409.1,66.7 409.5,66.7 409.9,66.6 410.2,66.5 410.6,66.5 411.0,66.4 411.4,66.4 411.8,66.3 412.2,66.3 412.6,66.2 413.0,66.1 413.4,66.1 413.8,66.0 414.2,66.0 414.5,65.9 414.9,65.9 415.3,65.9 415.7,65.8 416.1,65.8 416.5,65.8 416.9,65.7 417.3,65.7 417.7,65.7 418.1,65.7 418.5,65.7 418.8,65.8 419.2,66.1 419.6,66.5 420.0,67.1 420.4,67.9 420.8,68.7 421.2,69.6 421.6,70.5 422.0,71.5 422.4,72.5 422.8,74.1 423.1,76.0 423.5,77.7 423.9,78.4 424.3,78.9 424.7,79.4 425.1,79.8 425.5,80.2 425.9,80.5 426.3,80.8 426.7,81.1 427.1,81.3 427.4,81.5 427.8,81.7 428.2,81.9 428.6,82.1 429.0,82.2 429.4,82.4 429.8,82.6 430.2,82.8 430.6,82.9 431.0,83.1 431.4,83.3 431.7,83.4 432.1,83.6 432.5,83.7 432.9,83.9 433.3,84.0 433.7,84.2 434.1,84.3 434.5,84.5 434.9,84.6 435.3,84.7 435.7,84.9 436.0,85.0 436.4,85.1 436.8,85.2 437.2,85.4 437.6,85.5 438.0,85.6 438.4,85.7 438.8,85.8 439.2,85.9 439.6,86.0 440.0,86.1 440.4,86.2 440.7,86.3 441.1,86.4 441.5,86.5 441.9,86.5 442.3,86.6 442.7,86.7 443.1,86.8 443.5,86.8 443.9,86.9 444.3,87.0 444.7,87.0 445.0,87.1 445.4,87.2 445.8,87.2 446.2,87.3 446.6,87.3 447.0,87.4 447.4,87.4 447.8,87.5 448.2,87.6 448.6,87.6 449.0,87.7 449.3,87.7 449.7,87.8 450.1,87.8 450.5,87.9 450.9,87.9 451.3,88.0 451.7,88.0 452.1,88.1 452.5,88.1 452.9,88.1 453.3,88.2 453.6,88.2 454.0,88.3 454.4,88.3 454.8,88.3 455.2,88.4 455.6,88.4 456.0,88.5 456.4,88.5 456.8,88.5 457.2,88.6 457.6,88.6 457.9,88.6 458.3,88.7 458.7,88.7 459.1,88.7 459.5,88.8 459.9,88.8 460.3,88.8 460.7,88.9 461.1,88.9 461.5,88.9 461.9,89.0 462.2,89.0 462.6,89.0 463.0,89.1 463.4,89.1 463.8,89.1 464.2,89.1 464.6,89.2 465.0,89.2 465.4,89.2 465.8,89.2 466.2,89.3 466.5,89.3 466.9,89.3 467.3,89.3 467.7,89.4 468.1,89.4 468.5,89.4 468.9,89.5 469.3,89.5 469.7,89.5 470.1,89.5 470.5,89.6 470.8,89.6 471.2,89.6 471.6,89.6 472.0,89.7 472.4,89.7 472.8,89.7 473.2,89.7 473.6,89.8 474.0,89.8 474.4,89.8 474.8,89.8 475.1,89.9 475.5,89.9 475.9,89.9 476.3,89.9 476.7,89.9 477.1,90.0 477.5,90.0 477.9,90.0 478.3,90.0 478.7,90.1 479.1,90.1 479.5,90.1 479.8,90.1 480.2,90.1 480.6,90.2 481.0,90.2 481.4,90.2 481.8,90.2 482.2,90.2 482.6,90.3 483.0,90.3 483.4,90.3 483.8,90.3 484.1,90.3 484.5,90.4 484.9,90.4 485.3,90.4 485.7,90.4 486.1,90.4 486.5,90.5 486.9,90.5 487.3,90.5 487.7,90.5 488.1,90.5 488.4,90.5 488.8,90.5 489.2,90.6 489.6,90.6 490.0,90.6 490.4,90.6 490.8,90.6 491.2,90.6 491.6,90.6 492.0,90.7 492.4,90.7 492.7,90.7 493.1,90.7 493.5,90.7 493.9,90.7 494.3,90.7 494.7,90.7 495.1,90.7 495.5,90.7 495.9,90.8 496.3,90.8 496.7,90.8 497.0,90.8 497.4,90.8 497.8,90.8 498.2,90.8 498.6,90.8 499.0,90.8" fill="none" stroke="#000" stroke-width="2.0" stroke-linejoin="round" stroke-linecap="butt" />
<polyline points="324.6,105.0 325.0,104.9 325.4,104.9 325.8,104.8 326.2,104.7 326.6,104.6 327.0,104.5 327.4,104.3 327.7,104.1 328.1,103.6 328.5,102.7 328.9,101.5 329.3,100.1 329.7,98.6 330.1,97.0 330.5,95.3 330.9,93.2 331.3,90.8 331.7,88.4 332.0,86.1 332.4,83.9 332.8,81.9 333.2,80.4 333.6,79.2 334.0,78.0 334.4,76.8 334.8,75.6 335.2,74.6 335.6,73.6 336.0,72.7 336.3,72.0 336.7,71.3 337.1,70.9 337.5,70.6 337.9,70.4 338.3,70.3 338.7,70.2 339.1,70.1 339.5,70.1 339.9,70.0 340.3,69.9 340.6,69.9 341.0,69.9 341.4,69.9 341.8,69.8 342.2,69.8 342.6,69.8 343.0,69.8 343.4,69.8 343.8,69.8 344.2,69.8 344.6,69.8 344.9,69.8 345.3,69.8 345.7,69.8 346.1,69.7 346.5,69.7 346.9,69.7 347.3,69.7 347.7,69.7 348.1,69.7 348.5,69.7 348.9,69.7 349.2,69.7 349.6,69.7 350.0,69.7 350.4,69.7 350.8,69.7 351.2,69.6 351.6,69.6 352.0,69.6 352.4,69.6 352.8,69.6 353.2,69.6 353.5,69.6 353.9,69.6 354.3,69.5 354.7,69.5 355.1,69.5 355.5,69.5 355.9,69.5 356.3,69.5 356.7,69.4 357.1,69.4 357.5,69.4 357.8,69.4 358.2,69.4 358.6,69.4 359.0,69.3 359.4,69.3 359.8,69.3 360.2,69.3 360.6,69.3 361.0,69.3 361.4,69.2 361.8,69.2 362.1,69.2 362.5,69.2 362.9,69.2 363.3,69.2 363.7,69.2 364.1,69.1 364.5,69.1 364.9,69.1 365.3,69.1 365.7,69.1 366.1,69.1 366.5,69.1 366.8,69.1 367.2,69.1 367.6,69.1 368.0,69.0 368.4,69.0 368.8,69.0 369.2,69.0 369.6,69.0 370.0,69.0 370.4,69.0 370.8,69.0 371.1,69.0 371.5,69.0 371.9,69.0 372.3,69.0 372.7,69.0 373.1,69.0 373.5,69.0 373.9,69.0 374.3,69.0 374.7,69.0 375.1,69.0 375.4,69.0 375.8,69.0 376.2,69.0 376.6,69.0 377.0,69.0 377.4,69.0 377.8,69.0 378.2,69.0 378.6,69.0 379.0,69.0 379.4,69.0 379.7,69.0 380.1,69.0 380.5,69.0 380.9,69.0 381.3,69.0 381.7,69.0 382.1,69.0 382.5,69.0 382.9,69.0 383.3,69.0 383.7,69.0 384.0,69.0 384.4,69.0 384.8,69.0 385.2,69.0 385.6,69.0 386.0,69.0 386.4,69.0 386.8,69.0 387.2,69.0 387.6,69.0 388.0,69.0 388.3,69.0 388.7,69.0 389.1,69.0 389.5,69.0 389.9,69.0 390.3,69.0 390.7,69.0 391.1,69.0 391.5,69.0 391.9,69.0 392.3,69.0 392.6,69.0 393.0,69.0 393.4,69.0 393.8,69.0 394.2,69.0 394.6,69.0 395.0,69.0 395.4,69.0 395.8,69.0 396.2,69.0 396.6,69.0 396.9,69.0 397.3,69.0 397.7,69.0 398.1,69.0 398.5,69.0 398.9,69.0 399.3,69.0 399.7,69.0 400.1,69.0 400.5,69.0 400.9,69.0 401.2,69.0 401.6,69.0 402.0,69.0 402.4,69.0 402.8,69.0 403.2,69.0 403.6,69.0 404.0,69.0 404.4,69.0 404.8,69.0 405.2,69.0 405.6,69.0 405.9,69.0 406.3,69.0 406.7,69.0 407.1,69.0 407.5,69.0 407.9,69.0 408.3,69.0 408.7,69.0 409.1,69.0 409.5,69.0 409.9,69.0 410.2,69.0 410.6,69.0 411.0,69.0 411.4,68.9 411.8,68.9 412.2,68.9 412.6,68.9 413.0,68.9 413.4,68.9 413.8,68.9 414.2,68.9 414.5,68.9 414.9,68.9 415.3,68.9 415.7,68.9 416.1,68.9 416.5,68.9 416.9,68.9 417.3,68.9 417.7,68.9 418.1,69.0 418.5,69.1 418.8,69.3 419.2,69.5 419.6,69.8 420.0,70.4 420.4,71.1 420.8,72.1 421.2,73.1 421.6,74.3 422.0,75.4 422.4,76.6 422.8,77.7 423.1,78.7 423.5,79.6 423.9,80.3 424.3,81.0 424.7,81.6 425.1,82.3 425.5,82.9 425.9,83.5 426.3,84.1 426.7,84.7 427.1,85.2 427.4,85.7 427.8,86.3 428.2,86.8 428.6,87.2 429.0,87.7 429.4,88.1 429.8,88.6 430.2,89.0 430.6,89.4 431.0,89.8 431.4,90.2 431.7,90.5 432.1,90.9 432.5,91.3 432.9,91.6 433.3,91.9 433.7,92.2 434.1,92.4 434.5,92.7 434.9,92.9 435.3,93.1 435.7,93.2 436.0,93.4 436.4,93.5 436.8,93.7 437.2,93.8 437.6,94.0 438.0,94.1 438.4,94.2 438.8,94.4 439.2,94.5 439.6,94.6 440.0,94.8 440.4,94.9 440.7,95.1 441.1,95.3 441.5,95.5 441.9,95.6 442.3,95.8 442.7,96.0 443.1,96.2 443.5,96.4 443.9,96.6 444.3,96.8 444.7,96.9 445.0,97.1 445.4,97.3 445.8,97.5 446.2,97.7 446.6,97.8 447.0,98.0 447.4,98.2 447.8,98.3 448.2,98.5 448.6,98.6 449.0,98.7 449.3,98.9 449.7,99.0 450.1,99.1 450.5,99.2 450.9,99.3 451.3,99.4 451.7,99.5 452.1,99.5 452.5,99.6 452.9,99.7 453.3,99.8 453.6,99.9 454.0,99.9 454.4,100.0 454.8,100.1 455.2,100.2 455.6,100.2 456.0,100.3 456.4,100.4 456.8,100.4 457.2,100.5 457.6,100.6 457.9,100.6 458.3,100.7 458.7,100.7 459.1,100.8 459.5,100.9 459.9,100.9 460.3,101.0 460.7,101.0 461.1,101.1 461.5,101.1 461.9,101.2 462.2,101.3 462.6,101.3 463.0,101.4 463.4,101.4 463.8,101.5 464.2,101.6 464.6,101.6 465.0,101.7 465.4,101.8 465.8,101.8 466.2,101.9 466.5,102.0 466.9,102.0 467.3,102.1 467.7,102.2 468.1,102.3 468.5,102.3 468.9,102.4 469.3,102.4 469.7,102.5 470.1,102.5 470.5,102.6 470.8,102.6 471.2,102.7 471.6,102.7 472.0,102.8 472.4,102.8 472.8,102.8 473.2,102.9 473.6,102.9 474.0,103.0 474.4,103.0 474.8,103.0 475.1,103.1 475.5,103.1 475.9,103.2 476.3,103.2 476.7,103.2 477.1,103.3 477.5,103.3 477.9,103.3 478.3,103.4 478.7,103.4 479.1,103.5 479.5,103.5 479.8,103.5 480.2,103.6 480.6,103.6 481.0,103.6 481.4,103.7 481.8,103.7 482.2,103.7 482.6,103.8 483.0,103.8 483.4,103.8 483.8,103.9 484.1,103.9 484.5,103.9 484.9,104.0 485.3,104.0 485.7,104.0 486.1,104.0 486.5,104.1 486.9,104.1 487.3,104.1 487.7,104.1 488.1,104.2 488.4,104.2 488.8,104.2 489.2,104.2 489.6,104.3 490.0,104.3 490.4,104.3 490.8,104.3 491.2,104.3 491.6,104.4 492.0,104.4 492.4,104.4 492.7,104.4 493.1,104.4 493.5,104.4 493.9,104.4 494.3,104.5 494.7,104.5 495.1,104.5 495.5,104.5 495.9,104.5 496.3,104.5 496.7,104.5 497.0,104.5 497.4,104.5 497.8,104.5 498.2,104.5 498.6,104.5 499.0,104.5" fill="none" stroke="#40d8d8" stroke-width="2.2" stroke-linejoin="round" stroke-linecap="butt" />
<polyline points="324.6,105.0 325.0,104.9 325.4,104.7 325.8,104.4 326.2,104.0 326.6,103.5 327.0,102.9 327.4,102.3 327.7,101.6 328.1,100.4 328.5,98.3 328.9,95.6 329.3,92.3 329.7,88.9 330.1,85.3 330.5,81.8 330.9,78.7 331.3,76.0 331.7,74.1 332.0,72.6 332.4,71.2 332.8,69.9 333.2,68.6 333.6,67.5 334.0,66.4 334.4,65.5 334.8,64.7 335.2,64.1 335.6,63.5 336.0,63.1 336.3,62.7 336.7,62.4 337.1,62.1 337.5,61.8 337.9,61.6 338.3,61.3 338.7,61.1 339.1,60.9 339.5,60.7 339.9,60.5 340.3,60.2 340.6,60.0 341.0,59.8 341.4,59.6 341.8,59.4 342.2,59.2 342.6,59.0 343.0,58.8 343.4,58.6 343.8,58.4 344.2,58.2 344.6,58.0 344.9,57.9 345.3,57.7 345.7,57.5 346.1,57.3 346.5,57.2 346.9,57.0 347.3,56.8 347.7,56.7 348.1,56.5 348.5,56.4 348.9,56.2 349.2,56.1 349.6,55.9 350.0,55.8 350.4,55.6 350.8,55.5 351.2,55.4 351.6,55.2 352.0,55.1 352.4,55.0 352.8,54.9 353.2,54.7 353.5,54.6 353.9,54.5 354.3,54.4 354.7,54.3 355.1,54.1 355.5,54.0 355.9,53.9 356.3,53.8 356.7,53.7 357.1,53.6 357.5,53.5 357.8,53.4 358.2,53.3 358.6,53.2 359.0,53.1 359.4,53.0 359.8,52.9 360.2,52.8 360.6,52.7 361.0,52.6 361.4,52.5 361.8,52.4 362.1,52.3 362.5,52.2 362.9,52.1 363.3,52.0 363.7,51.9 364.1,51.8 364.5,51.7 364.9,51.6 365.3,51.5 365.7,51.4 366.1,51.4 366.5,51.3 366.8,51.2 367.2,51.1 367.6,51.0 368.0,50.9 368.4,50.8 368.8,50.7 369.2,50.6 369.6,50.6 370.0,50.5 370.4,50.4 370.8,50.3 371.1,50.2 371.5,50.1 371.9,50.0 372.3,50.0 372.7,49.9 373.1,49.8 373.5,49.7 373.9,49.6 374.3,49.6 374.7,49.5 375.1,49.4 375.4,49.3 375.8,49.3 376.2,49.2 376.6,49.1 377.0,49.0 377.4,49.0 377.8,48.9 378.2,48.8 378.6,48.8 379.0,48.7 379.4,48.6 379.7,48.6 380.1,48.5 380.5,48.5 380.9,48.4 381.3,48.3 381.7,48.3 382.1,48.2 382.5,48.2 382.9,48.1 383.3,48.1 383.7,48.0 384.0,48.0 384.4,47.9 384.8,47.9 385.2,47.8 385.6,47.8 386.0,47.7 386.4,47.7 386.8,47.6 387.2,47.6 387.6,47.5 388.0,47.5 388.3,47.4 388.7,47.4 389.1,47.3 389.5,47.3 389.9,47.3 390.3,47.2 390.7,47.2 391.1,47.1 391.5,47.1 391.9,47.0 392.3,47.0 392.6,46.9 393.0,46.9 393.4,46.9 393.8,46.8 394.2,46.8 394.6,46.7 395.0,46.7 395.4,46.6 395.8,46.6 396.2,46.6 396.6,46.5 396.9,46.5 397.3,46.4 397.7,46.4 398.1,46.3 398.5,46.3 398.9,46.2 399.3,46.2 399.7,46.1 400.1,46.1 400.5,46.0 400.9,46.0 401.2,45.9 401.6,45.9 402.0,45.8 402.4,45.8 402.8,45.7 403.2,45.7 403.6,45.6 404.0,45.5 404.4,45.5 404.8,45.4 405.2,45.4 405.6,45.3 405.9,45.3 406.3,45.2 406.7,45.2 407.1,45.1 407.5,45.1 407.9,45.0 408.3,45.0 408.7,44.9 409.1,44.9 409.5,44.8 409.9,44.8 410.2,44.7 410.6,44.7 411.0,44.6 411.4,44.6 411.8,44.5 412.2,44.5 412.6,44.5 413.0,44.4 413.4,44.4 413.8,44.3 414.2,44.3 414.5,44.3 414.9,44.3 415.3,44.2 415.7,44.2 416.1,44.2 416.5,44.2 416.9,44.1 417.3,44.1 417.7,44.1 418.1,44.1 418.5,44.1 418.8,44.1 419.2,44.1 419.6,44.2 420.0,44.6 420.4,45.1 420.8,45.8 421.2,46.7 421.6,47.7 422.0,50.0 422.4,53.1 422.8,55.5 423.1,57.0 423.5,58.4 423.9,59.6 424.3,60.6 424.7,61.6 425.1,62.6 425.5,63.5 425.9,64.5 426.3,65.5 426.7,66.4 427.1,67.2 427.4,68.0 427.8,68.6 428.2,69.2 428.6,69.7 429.0,70.1 429.4,70.6 429.8,71.0 430.2,71.4 430.6,71.8 431.0,72.1 431.4,72.5 431.7,72.9 432.1,73.2 432.5,73.5 432.9,73.8 433.3,74.0 433.7,74.3 434.1,74.5 434.5,74.8 434.9,75.0 435.3,75.2 435.7,75.4 436.0,75.6 436.4,75.8 436.8,76.0 437.2,76.2 437.6,76.4 438.0,76.5 438.4,76.7 438.8,76.9 439.2,77.0 439.6,77.2 440.0,77.3 440.4,77.5 440.7,77.6 441.1,77.8 441.5,77.9 441.9,78.1 442.3,78.2 442.7,78.4 443.1,78.5 443.5,78.6 443.9,78.8 444.3,78.9 444.7,79.1 445.0,79.2 445.4,79.3 445.8,79.4 446.2,79.6 446.6,79.7 447.0,79.8 447.4,79.9 447.8,80.0 448.2,80.2 448.6,80.3 449.0,80.4 449.3,80.5 449.7,80.6 450.1,80.7 450.5,80.8 450.9,80.9 451.3,81.0 451.7,81.0 452.1,81.1 452.5,81.2 452.9,81.3 453.3,81.3 453.6,81.4 454.0,81.5 454.4,81.5 454.8,81.6 455.2,81.7 455.6,81.7 456.0,81.8 456.4,81.8 456.8,81.9 457.2,82.0 457.6,82.0 457.9,82.1 458.3,82.1 458.7,82.2 459.1,82.2 459.5,82.3 459.9,82.3 460.3,82.4 460.7,82.4 461.1,82.5 461.5,82.5 461.9,82.6 462.2,82.6 462.6,82.7 463.0,82.7 463.4,82.8 463.8,82.8 464.2,82.8 464.6,82.9 465.0,82.9 465.4,83.0 465.8,83.0 466.2,83.0 466.5,83.1 466.9,83.1 467.3,83.1 467.7,83.2 468.1,83.2 468.5,83.2 468.9,83.3 469.3,83.3 469.7,83.3 470.1,83.4 470.5,83.4 470.8,83.4 471.2,83.4 471.6,83.5 472.0,83.5 472.4,83.5 472.8,83.5 473.2,83.6 473.6,83.6 474.0,83.6 474.4,83.6 474.8,83.7 475.1,83.7 475.5,83.7 475.9,83.7 476.3,83.8 476.7,83.8 477.1,83.8 477.5,83.8 477.9,83.9 478.3,83.9 478.7,83.9 479.1,83.9 479.5,84.0 479.8,84.0 480.2,84.0 480.6,84.0 481.0,84.1 481.4,84.1 481.8,84.1 482.2,84.1 482.6,84.2 483.0,84.2 483.4,84.2 483.8,84.2 484.1,84.2 484.5,84.3 484.9,84.3 485.3,84.3 485.7,84.3 486.1,84.3 486.5,84.4 486.9,84.4 487.3,84.4 487.7,84.4 488.1,84.4 488.4,84.4 488.8,84.5 489.2,84.5 489.6,84.5 490.0,84.5 490.4,84.5 490.8,84.5 491.2,84.5 491.6,84.6 492.0,84.6 492.4,84.6 492.7,84.6 493.1,84.6 493.5,84.6 493.9,84.6 494.3,84.6 494.7,84.6 495.1,84.6 495.5,84.6 495.9,84.6 496.3,84.7 496.7,84.7 497.0,84.7 497.4,84.7 497.8,84.7 498.2,84.7 498.6,84.7 499.0,84.7" fill="none" stroke="#000" stroke-width="2.0" stroke-linejoin="round" stroke-linecap="butt" />
<polyline points="324.6,105.0 325.0,104.9 325.4,104.8 325.8,104.7 326.2,104.5 326.6,103.6 327.0,101.4 327.4,98.3 327.7,94.5 328.1,90.3 328.5,86.0 328.9,81.9 329.3,78.3 329.7,75.6 330.1,73.8 330.5,72.7 330.9,71.7 331.3,70.9 331.7,70.2 332.0,69.6 332.4,68.9 332.8,68.2 333.2,67.4 333.6,66.5 334.0,65.2 334.4,63.6 334.8,63.1 335.2,63.0 335.6,62.9 336.0,62.9 336.3,62.9 336.7,62.9 337.1,62.8 337.5,62.8 337.9,62.8 338.3,62.7 338.7,62.7 339.1,62.5 339.5,62.4 339.9,62.2 340.3,62.0 340.6,61.7 341.0,61.5 341.4,61.3 341.8,61.2 342.2,61.0 342.6,61.0 343.0,61.0 343.4,61.0 343.8,61.0 344.2,61.0 344.6,61.0 344.9,61.0 345.3,61.0 345.7,61.0 346.1,61.0 346.5,61.0 346.9,60.9 347.3,60.9 347.7,60.9 348.1,60.9 348.5,60.9 348.9,60.9 349.2,60.9 349.6,60.9 350.0,60.9 350.4,60.9 350.8,60.9 351.2,60.9 351.6,60.9 352.0,60.9 352.4,60.9 352.8,60.9 353.2,60.9 353.5,60.9 353.9,60.9 354.3,60.9 354.7,60.9 355.1,60.9 355.5,60.9 355.9,60.9 356.3,60.9 356.7,60.9 357.1,60.9 357.5,60.9 357.8,60.9 358.2,60.8 358.6,60.8 359.0,60.8 359.4,60.8 359.8,60.8 360.2,60.8 360.6,60.8 361.0,60.8 361.4,60.8 361.8,60.8 362.1,60.8 362.5,60.8 362.9,60.8 363.3,60.8 363.7,60.8 364.1,60.8 364.5,60.8 364.9,60.8 365.3,60.8 365.7,60.8 366.1,60.8 366.5,60.8 366.8,60.8 367.2,60.8 367.6,60.8 368.0,60.8 368.4,60.8 368.8,60.8 369.2,60.8 369.6,60.8 370.0,60.8 370.4,60.8 370.8,60.8 371.1,60.8 371.5,60.8 371.9,60.8 372.3,60.8 372.7,60.8 373.1,60.8 373.5,60.8 373.9,60.8 374.3,60.8 374.7,60.8 375.1,60.8 375.4,60.8 375.8,60.8 376.2,60.8 376.6,60.8 377.0,60.8 377.4,60.8 377.8,60.8 378.2,60.8 378.6,60.8 379.0,60.8 379.4,60.8 379.7,60.8 380.1,60.8 380.5,60.8 380.9,60.8 381.3,60.8 381.7,60.8 382.1,60.8 382.5,60.8 382.9,60.8 383.3,60.8 383.7,60.8 384.0,60.8 384.4,60.8 384.8,60.8 385.2,60.8 385.6,60.8 386.0,60.8 386.4,60.8 386.8,60.8 387.2,60.8 387.6,60.8 388.0,60.8 388.3,60.8 388.7,60.8 389.1,60.8 389.5,60.8 389.9,60.8 390.3,60.8 390.7,60.8 391.1,60.8 391.5,60.8 391.9,60.8 392.3,60.8 392.6,60.8 393.0,60.8 393.4,60.8 393.8,60.8 394.2,60.8 394.6,60.8 395.0,60.8 395.4,60.8 395.8,60.8 396.2,60.8 396.6,60.8 396.9,60.8 397.3,60.8 397.7,60.8 398.1,60.8 398.5,60.8 398.9,60.8 399.3,60.8 399.7,60.8 400.1,60.8 400.5,60.8 400.9,60.8 401.2,60.8 401.6,60.8 402.0,60.8 402.4,60.8 402.8,60.8 403.2,60.8 403.6,60.8 404.0,60.8 404.4,60.8 404.8,60.8 405.2,60.8 405.6,60.8 405.9,60.8 406.3,60.8 406.7,60.8 407.1,60.8 407.5,60.8 407.9,60.8 408.3,60.8 408.7,60.8 409.1,60.8 409.5,60.8 409.9,60.8 410.2,60.8 410.6,60.8 411.0,60.8 411.4,60.8 411.8,60.8 412.2,60.8 412.6,60.8 413.0,60.8 413.4,60.8 413.8,60.8 414.2,60.8 414.5,60.8 414.9,60.8 415.3,60.8 415.7,60.8 416.1,60.8 416.5,60.8 416.9,60.8 417.3,60.8 417.7,60.8 418.1,60.8 418.5,60.8 418.8,60.8 419.2,60.8 419.6,60.9 420.0,61.4 420.4,62.0 420.8,62.8 421.2,63.7 421.6,64.7 422.0,65.6 422.4,66.5 422.8,67.4 423.1,68.4 423.5,69.5 423.9,70.6 424.3,71.6 424.7,72.6 425.1,73.5 425.5,74.2 425.9,74.8 426.3,75.4 426.7,76.0 427.1,76.5 427.4,77.1 427.8,77.6 428.2,78.1 428.6,78.5 429.0,79.0 429.4,79.4 429.8,79.9 430.2,80.3 430.6,80.7 431.0,81.0 431.4,81.4 431.7,81.8 432.1,82.1 432.5,82.5 432.9,82.8 433.3,83.2 433.7,83.5 434.1,83.8 434.5,84.2 434.9,84.5 435.3,84.8 435.7,85.1 436.0,85.4 436.4,85.7 436.8,86.0 437.2,86.3 437.6,86.6 438.0,86.9 438.4,87.2 438.8,87.5 439.2,87.7 439.6,88.0 440.0,88.2 440.4,88.5 440.7,88.7 441.1,89.0 441.5,89.2 441.9,89.4 442.3,89.6 442.7,89.8 443.1,90.0 443.5,90.2 443.9,90.4 444.3,90.6 444.7,90.8 445.0,91.0 445.4,91.1 445.8,91.3 446.2,91.5 446.6,91.6 447.0,91.8 447.4,92.0 447.8,92.1 448.2,92.3 448.6,92.4 449.0,92.6 449.3,92.7 449.7,92.9 450.1,93.0 450.5,93.2 450.9,93.3 451.3,93.5 451.7,93.6 452.1,93.7 452.5,93.9 452.9,94.0 453.3,94.1 453.6,94.2 454.0,94.4 454.4,94.5 454.8,94.6 455.2,94.7 455.6,94.9 456.0,95.0 456.4,95.1 456.8,95.2 457.2,95.3 457.6,95.4 457.9,95.5 458.3,95.7 458.7,95.8 459.1,95.9 459.5,96.0 459.9,96.1 460.3,96.2 460.7,96.3 461.1,96.4 461.5,96.5 461.9,96.6 462.2,96.7 462.6,96.8 463.0,96.9 463.4,97.0 463.8,97.1 464.2,97.2 464.6,97.3 465.0,97.3 465.4,97.4 465.8,97.5 466.2,97.6 466.5,97.7 466.9,97.8 467.3,97.9 467.7,98.0 468.1,98.1 468.5,98.2 468.9,98.2 469.3,98.3 469.7,98.4 470.1,98.4 470.5,98.5 470.8,98.5 471.2,98.6 471.6,98.6 472.0,98.6 472.4,98.7 472.8,98.7 473.2,98.8 473.6,98.8 474.0,98.8 474.4,98.9 474.8,98.9 475.1,99.0 475.5,99.0 475.9,99.0 476.3,99.1 476.7,99.1 477.1,99.2 477.5,99.2 477.9,99.2 478.3,99.3 478.7,99.3 479.1,99.3 479.5,99.4 479.8,99.4 480.2,99.4 480.6,99.5 481.0,99.5 481.4,99.5 481.8,99.6 482.2,99.6 482.6,99.6 483.0,99.6 483.4,99.7 483.8,99.7 484.1,99.7 484.5,99.8 484.9,99.8 485.3,99.8 485.7,99.8 486.1,99.9 486.5,99.9 486.9,99.9 487.3,99.9 487.7,100.0 488.1,100.0 488.4,100.0 488.8,100.0 489.2,100.0 489.6,100.1 490.0,100.1 490.4,100.1 490.8,100.1 491.2,100.1 491.6,100.1 492.0,100.2 492.4,100.2 492.7,100.2 493.1,100.2 493.5,100.2 493.9,100.2 494.3,100.2 494.7,100.2 495.1,100.3 495.5,100.3 495.9,100.3 496.3,100.3 496.7,100.3 497.0,100.3 497.4,100.3 497.8,100.3 498.2,100.3 498.6,100.3 499.0,100.3" fill="none" stroke="#0808b8" stroke-width="2.6" stroke-linejoin="round" stroke-linecap="butt" />
<polyline points="327.0,105.2 327.4,104.4 327.8,103.1 328.2,101.4 328.6,99.5 329.0,97.3 329.4,94.4 329.8,90.2 330.2,85.5 330.6,80.8 330.9,76.8 331.3,74.1 331.7,72.4 332.1,70.9 332.5,69.6 332.9,68.5 333.3,67.5 333.7,66.7 334.1,66.0 334.5,65.3 334.9,64.7 335.2,64.2 335.6,63.8 336.0,63.5 336.4,63.3 336.8,63.1 337.2,63.0 337.6,62.9" fill="none" stroke="#0808b8" stroke-width="2.4" stroke-linejoin="round" stroke-linecap="butt" />
<text x="7.5" y="153.3" font-size="12" font-weight="bold" text-anchor="start" fill="#000" >C</text>
<text x="57.4" y="154.2" font-size="10.25" font-weight="bold" text-anchor="start" fill="#000" >“Physiologically immobilized” C3b</text>
<text x="321.6" y="154.0" font-size="10.25" font-weight="bold" text-anchor="start" fill="#000" >“Physiologically immobilized” C3b</text>
<text x="23.8" y="182.0" font-size="7.8" font-weight="bold" text-anchor="start" fill="#000" >RU</text>
<line x1="42.1" y1="190.7" x2="42.1" y2="265.8" stroke="#111" stroke-width="1.4" />
<line x1="41.4" y1="262.6" x2="240.4" y2="262.6" stroke="#111" stroke-width="1.4" />
<line x1="39.1" y1="199.39999999999998" x2="42.1" y2="199.39999999999998" stroke="#111" stroke-width="1.2" />
<text x="35.6" y="202.29999999999998" font-size="8.9" font-weight="normal" text-anchor="end" fill="#111" >100</text>
<line x1="39.1" y1="209.94" x2="42.1" y2="209.94" stroke="#111" stroke-width="1.2" />
<text x="35.6" y="212.84" font-size="8.9" font-weight="normal" text-anchor="end" fill="#111" >80</text>
<line x1="39.1" y1="220.48" x2="42.1" y2="220.48" stroke="#111" stroke-width="1.2" />
<text x="35.6" y="223.38" font-size="8.9" font-weight="normal" text-anchor="end" fill="#111" >60</text>
<line x1="39.1" y1="231.01999999999998" x2="42.1" y2="231.01999999999998" stroke="#111" stroke-width="1.2" />
<text x="35.6" y="233.92" font-size="8.9" font-weight="normal" text-anchor="end" fill="#111" >40</text>
<line x1="39.1" y1="241.56" x2="42.1" y2="241.56" stroke="#111" stroke-width="1.2" />
<text x="35.6" y="244.46" font-size="8.9" font-weight="normal" text-anchor="end" fill="#111" >20</text>
<line x1="39.1" y1="252.1" x2="42.1" y2="252.1" stroke="#111" stroke-width="1.2" />
<text x="35.6" y="255.0" font-size="8.9" font-weight="normal" text-anchor="end" fill="#111" >0</text>
<line x1="39.1" y1="262.64" x2="42.1" y2="262.64" stroke="#111" stroke-width="1.2" />
<text x="35.6" y="265.53999999999996" font-size="8.9" font-weight="normal" text-anchor="end" fill="#111" >-20</text>
<line x1="41.9" y1="262.6" x2="41.9" y2="265.8" stroke="#111" stroke-width="1.2" />
<text x="41.9" y="276.6" font-size="8.9" font-weight="normal" text-anchor="middle" fill="#111" >0</text>
<line x1="81.0" y1="262.6" x2="81.0" y2="265.8" stroke="#111" stroke-width="1.2" />
<text x="81.0" y="276.6" font-size="8.9" font-weight="normal" text-anchor="middle" fill="#111" >50</text>
<line x1="120.4" y1="262.6" x2="120.4" y2="265.8" stroke="#111" stroke-width="1.2" />
<text x="120.4" y="276.6" font-size="8.9" font-weight="normal" text-anchor="middle" fill="#111" >100</text>
<line x1="159.6" y1="262.6" x2="159.6" y2="265.8" stroke="#111" stroke-width="1.2" />
<text x="159.6" y="276.6" font-size="8.9" font-weight="normal" text-anchor="middle" fill="#111" >150</text>
<line x1="198.7" y1="262.6" x2="198.7" y2="265.8" stroke="#111" stroke-width="1.2" />
<text x="198.7" y="276.6" font-size="8.9" font-weight="normal" text-anchor="middle" fill="#111" >200</text>
<line x1="238.1" y1="262.6" x2="238.1" y2="265.8" stroke="#111" stroke-width="1.2" />
<text x="238.1" y="276.6" font-size="8.9" font-weight="normal" text-anchor="middle" fill="#111" >250</text>
<text x="246.9" y="276.6" font-size="8.9" font-weight="bold" text-anchor="start" fill="#111" >s</text>
<line x1="303.6" y1="190.7" x2="303.6" y2="265.8" stroke="#111" stroke-width="1.4" />
<line x1="302.90000000000003" y1="262.6" x2="502.3" y2="262.6" stroke="#111" stroke-width="1.4" />
<line x1="300.6" y1="199.1" x2="303.6" y2="199.1" stroke="#111" stroke-width="1.2" />
<text x="297.0" y="202.0" font-size="8.9" font-weight="normal" text-anchor="end" fill="#111" >40</text>
<line x1="300.6" y1="211.85" x2="303.6" y2="211.85" stroke="#111" stroke-width="1.2" />
<text x="297.0" y="214.75" font-size="8.9" font-weight="normal" text-anchor="end" fill="#111" >30</text>
<line x1="300.6" y1="224.6" x2="303.6" y2="224.6" stroke="#111" stroke-width="1.2" />
<text x="297.0" y="227.5" font-size="8.9" font-weight="normal" text-anchor="end" fill="#111" >20</text>
<line x1="300.6" y1="237.35" x2="303.6" y2="237.35" stroke="#111" stroke-width="1.2" />
<text x="297.0" y="240.25" font-size="8.9" font-weight="normal" text-anchor="end" fill="#111" >10</text>
<line x1="300.6" y1="250.1" x2="303.6" y2="250.1" stroke="#111" stroke-width="1.2" />
<text x="297.0" y="253.0" font-size="8.9" font-weight="normal" text-anchor="end" fill="#111" >0</text>
<line x1="300.6" y1="262.85" x2="303.6" y2="262.85" stroke="#111" stroke-width="1.2" />
<text x="297.0" y="265.75" font-size="8.9" font-weight="normal" text-anchor="end" fill="#111" >-10</text>
<line x1="303.3" y1="262.6" x2="303.3" y2="265.8" stroke="#111" stroke-width="1.2" />
<text x="303.3" y="276.6" font-size="8.9" font-weight="normal" text-anchor="middle" fill="#111" >0</text>
<line x1="342.7" y1="262.6" x2="342.7" y2="265.8" stroke="#111" stroke-width="1.2" />
<text x="342.7" y="276.6" font-size="8.9" font-weight="normal" text-anchor="middle" fill="#111" >50</text>
<line x1="382.5" y1="262.6" x2="382.5" y2="265.8" stroke="#111" stroke-width="1.2" />
<text x="382.5" y="276.6" font-size="8.9" font-weight="normal" text-anchor="middle" fill="#111" >100</text>
<line x1="421.9" y1="262.6" x2="421.9" y2="265.8" stroke="#111" stroke-width="1.2" />
<text x="421.9" y="276.6" font-size="8.9" font-weight="normal" text-anchor="middle" fill="#111" >150</text>
<line x1="461.0" y1="262.6" x2="461.0" y2="265.8" stroke="#111" stroke-width="1.2" />
<text x="461.0" y="276.6" font-size="8.9" font-weight="normal" text-anchor="middle" fill="#111" >200</text>
<line x1="499.4" y1="262.6" x2="499.4" y2="265.8" stroke="#111" stroke-width="1.2" />
<text x="499.4" y="276.6" font-size="8.9" font-weight="normal" text-anchor="middle" fill="#111" >250</text>
<text x="508.2" y="276.6" font-size="8.9" font-weight="bold" text-anchor="start" fill="#111" >s</text>
<text x="190.5" y="167.9" font-size="7.8" font-weight="bold" text-anchor="start" fill="#2828b8" >1) miniFH</text>
<text x="190.5" y="177.20000000000002" font-size="7.8" font-weight="bold" text-anchor="start" fill="#8a44c4" >2) C5:Ecu:Coversin</text>
<text x="190.5" y="186.5" font-size="7.8" font-weight="bold" text-anchor="start" fill="#a65450" >3) C5:Ecu</text>
<text x="190.5" y="195.8" font-size="7.8" font-weight="bold" text-anchor="start" fill="#86a472" >4) C5:Coversin</text>
<text x="190.5" y="205.10000000000002" font-size="7.8" font-weight="bold" text-anchor="start" fill="#000" >5) C5</text>
<text x="190.5" y="214.4" font-size="7.8" font-weight="bold" text-anchor="start" fill="#40d8e0" >6) miniFH</text>
<text x="190.5" y="223.70000000000002" font-size="7.8" font-weight="bold" text-anchor="start" fill="#b4b4b4" >buffer</text>
<line x1="237.8" y1="224.7" x2="283.2" y2="200.6" stroke="#333" stroke-width="1.0" stroke-dasharray="1.2 1"/>
<line x1="235.0" y1="256.4" x2="284.6" y2="263.0" stroke="#333" stroke-width="1.0" stroke-dasharray="1.2 1"/>
<defs><clipPath id="clipD"><rect x="304" y="190" width="200" height="72"/></clipPath><clipPath id="clipC"><rect x="42.5" y="186" width="200" height="76"/></clipPath></defs>
<g clip-path="url(#clipC)">
<polyline points="41.9,252.9 42.3,252.9 42.7,252.9 43.1,252.9 43.5,252.9 43.9,252.9 44.3,252.9 44.6,252.9 45.0,252.9 45.4,252.9 45.8,252.9 46.2,252.9 46.6,252.9 47.0,252.9 47.4,252.9 47.8,252.9 48.2,252.9 48.6,252.9 49.0,252.9 49.4,252.8 49.8,252.8 50.1,252.8 50.5,252.8 50.9,252.8 51.3,252.8 51.7,252.8 52.1,252.8 52.5,252.8 52.9,252.6 53.3,252.0 53.7,251.3 54.1,250.6 54.5,250.0 54.9,249.5 55.2,249.5 55.6,249.5 56.0,249.6 56.4,249.7 56.8,249.8 57.2,249.9 57.6,250.0 58.0,250.1 58.4,250.3 58.8,250.5 59.2,250.7 59.6,250.9 60.0,251.2 60.3,251.4 60.7,251.6 61.1,251.7 61.5,251.8 61.9,251.9 62.3,252.0 62.7,252.1 63.1,252.2 63.5,252.2 63.9,252.3 64.3,252.3 64.7,252.4" fill="none" stroke="#9a9ab0" stroke-width="1.2" stroke-linejoin="round" stroke-linecap="butt" />
<polyline points="41.9,251.3 42.3,251.3 42.7,251.3 43.1,251.3 43.5,251.3 43.9,251.3 44.3,251.3 44.6,251.3 45.0,251.3 45.4,251.3 45.8,251.3 46.2,251.3 46.6,251.3 47.0,251.3 47.4,251.3 47.8,251.3 48.2,251.2 48.6,251.2 49.0,251.2 49.4,251.2 49.8,251.2 50.1,251.2 50.5,251.1 50.9,251.1 51.3,251.0 51.7,250.9 52.1,250.7 52.5,250.5 52.9,250.1 53.3,249.6 53.7,249.0 54.1,248.5 54.5,248.1 54.9,247.8 55.2,247.8 55.6,247.9 56.0,248.1 56.4,248.4 56.8,248.7 57.2,249.0 57.6,249.2 58.0,249.4 58.4,249.7 58.8,249.9 59.2,250.1 59.6,250.4 60.0,250.6 60.3,250.8 60.7,251.0 61.1,251.2 61.5,251.3 61.9,251.4 62.3,251.6 62.7,251.7 63.1,251.8 63.5,251.9 63.9,252.0 64.3,252.1 64.7,252.1 65.1,252.1 65.5,252.0 65.8,251.9 66.2,251.8" fill="none" stroke="#9088c8" stroke-width="1.3" stroke-linejoin="round" stroke-linecap="butt" />
<polyline points="63.9,252.1 64.3,252.0 64.7,251.9 65.1,251.7 65.5,251.5 65.8,251.3 66.2,251.1 66.6,250.8 67.0,250.6 67.4,250.3 67.8,250.0 68.2,249.7 68.6,249.3 69.0,248.8 69.4,248.4 69.8,247.8 70.2,247.3 70.6,246.8 70.9,246.2 71.3,245.7 71.7,245.2 72.1,244.7 72.5,244.1 72.9,243.5 73.3,242.9 73.7,242.4 74.1,242.0 74.5,241.7 74.9,241.6 75.3,241.7 75.7,241.9 76.0,242.3 76.4,242.7 76.8,243.1 77.2,243.4 77.6,243.7 78.0,244.0 78.4,244.3 78.8,244.3 79.2,244.3 79.6,244.3" fill="none" stroke="#92b060" stroke-width="2.1" stroke-linejoin="round" stroke-linecap="butt" />
<polyline points="63.9,252.1 64.3,252.0 64.7,251.9 65.1,251.7 65.5,251.5 65.8,251.3 66.2,251.1 66.6,250.8 67.0,250.6 67.4,250.3 67.8,250.0 68.2,249.7 68.6,249.3 69.0,248.8 69.4,248.4 69.8,247.8 70.2,247.3 70.6,246.8 70.9,246.2 71.3,245.7 71.7,245.2 72.1,244.7 72.5,244.1 72.9,243.5 73.3,242.9 73.7,242.4 74.1,242.0 74.5,241.7 74.9,241.6 75.3,241.7 75.7,242.1 76.0,242.7 76.4,243.3 76.8,243.8 77.2,244.2 77.6,244.5 78.0,244.7 78.4,244.9 78.8,244.9 79.2,244.9 79.6,244.9" fill="none" stroke="#b4443c" stroke-width="2.2" stroke-linejoin="round" stroke-linecap="butt" />
<polyline points="63.9,252.1 64.3,252.1 64.7,252.0 65.1,251.9 65.5,251.7 65.8,251.5 66.2,251.2 66.6,250.9 67.0,250.6 67.4,250.3 67.8,250.0 68.2,249.6 68.6,249.0 69.0,248.4 69.4,247.6 69.8,246.8 70.2,246.0 70.6,245.1 70.9,244.2 71.3,243.4 71.7,242.6 72.1,241.8 72.5,240.9 72.9,239.9 73.3,238.9 73.7,238.1 74.1,237.4 74.5,237.0 74.9,236.9 75.3,237.3 75.7,238.2 76.0,239.2 76.4,240.3 76.8,241.0 77.2,241.6 77.6,242.2 78.0,242.6 78.4,242.9 78.8,243.0 79.2,243.0 79.6,243.0" fill="none" stroke="#000" stroke-width="1.8" stroke-linejoin="round" stroke-linecap="butt" />
<polyline points="63.9,252.1 64.3,252.0 64.7,251.9 65.1,251.8 65.5,251.6 65.8,251.4 66.2,251.1 66.6,250.9 67.0,250.6 67.4,250.3 67.8,250.0 68.2,249.6 68.6,249.2 69.0,248.7 69.4,248.2 69.8,247.6 70.2,247.0 70.6,246.4 70.9,245.8 71.3,245.3 71.7,244.7 72.1,244.1 72.5,243.5 72.9,242.8 73.3,242.1 73.7,241.5 74.1,241.0 74.5,240.6 74.9,240.5 75.3,240.8 75.7,241.5 76.0,242.5 76.4,243.6 76.8,244.6 77.2,245.2 77.6,245.7 78.0,246.1 78.4,246.4 78.8,246.5 79.2,246.5 79.6,246.4" fill="none" stroke="#7a2ec4" stroke-width="2.2" stroke-linejoin="round" stroke-linecap="butt" />
<polyline points="63.9,252.1 64.3,252.0 64.7,252.0 65.1,251.9 65.5,251.8 65.8,251.7 66.2,251.6 66.6,251.4 67.0,251.3 67.4,251.2 67.8,251.0 68.2,250.9 68.6,250.7 69.0,250.6 69.4,250.4 69.8,250.2 70.2,250.0 70.6,249.7 70.9,249.5 71.3,249.2 71.7,248.9 72.1,248.6 72.5,248.1 72.9,247.5 73.3,246.8 73.7,246.2 74.1,245.5 74.5,244.8 74.9,244.2 75.3,243.8 75.7,243.4 76.0,243.2 76.4,243.2 76.8,244.0 77.2,245.4 77.6,246.8 78.0,247.9 78.4,248.7 78.8,249.6 79.2,250.3 79.6,250.9" fill="none" stroke="#bcbcbc" stroke-width="2.2" stroke-linejoin="round" stroke-linecap="butt" />
<polyline points="79.2,250.3 79.6,250.9 80.0,251.2 80.4,251.3 80.8,251.3 81.2,251.3 81.5,251.3 81.9,251.3 82.3,251.3 82.7,251.3 83.1,251.3 83.5,251.3 83.9,251.3 84.3,251.3 84.7,251.3 85.1,251.3 85.5,251.3 85.9,251.2 86.3,251.2 86.6,251.2 87.0,251.2 87.4,251.2 87.8,251.2 88.2,251.2 88.6,251.2 89.0,251.2 89.4,251.2 89.8,251.2 90.2,251.2 90.6,251.2 91.0,251.2 91.4,251.2 91.7,251.2 92.1,251.2 92.5,251.2 92.9,251.2 93.3,251.2 93.7,251.2 94.1,251.2 94.5,251.2 94.9,251.2 95.3,251.2 95.7,251.2 96.1,251.2 96.5,251.2 96.8,251.2 97.2,251.2 97.6,251.2 98.0,251.2 98.4,251.2 98.8,251.2 99.2,251.2 99.6,251.2 100.0,251.2 100.4,251.2 100.8,251.2 101.2,251.2 101.6,251.2 102.0,251.2 102.3,251.2 102.7,251.2 103.1,251.2 103.5,251.2 103.9,251.2 104.3,251.2 104.7,251.2 105.1,251.2 105.5,251.2 105.9,251.2 106.3,251.2 106.7,251.2 107.1,251.2 107.4,251.2 107.8,251.2 108.2,251.2 108.6,251.2 109.0,251.2 109.4,251.2 109.8,251.2 110.2,251.2 110.6,251.2 111.0,251.2 111.4,251.2 111.8,251.2 112.2,251.2 112.6,251.2 112.9,251.2 113.3,251.2 113.7,251.2 114.1,251.2 114.5,251.2 114.9,251.2 115.3,251.2 115.7,251.2 116.1,251.2 116.5,251.2 116.9,251.2 117.3,251.2 117.7,251.2 118.0,251.2 118.4,251.2 118.8,251.2 119.2,251.2 119.6,251.2 120.0,251.2 120.4,251.2 120.8,251.2 121.2,251.2 121.6,251.2 122.0,251.2 122.4,251.2 122.8,251.2 123.1,251.2 123.5,251.2 123.9,251.2 124.3,251.2 124.7,251.2 125.1,251.2 125.5,251.2 125.9,251.2 126.3,251.2 126.7,251.2 127.1,251.2 127.5,251.2 127.9,251.2 128.2,251.2 128.6,251.2 129.0,251.2 129.4,251.2 129.8,251.2 130.2,251.2 130.6,251.2 131.0,251.2 131.4,251.2 131.8,251.2 132.2,251.2 132.6,251.2 133.0,251.2 133.4,251.2 133.7,251.2 134.1,251.2 134.5,251.2 134.9,251.2 135.3,251.2 135.7,251.2 136.1,251.2 136.5,251.2 136.9,251.2 137.3,251.2 137.7,251.2 138.1,251.2 138.5,251.2 138.8,251.2 139.2,251.2 139.6,251.2 140.0,251.2 140.4,251.2 140.8,251.2 141.2,251.2 141.6,251.2 142.0,251.2 142.4,251.2 142.8,251.2 143.2,251.2 143.6,251.2 143.9,251.2 144.3,251.2 144.7,251.2 145.1,251.2 145.5,251.2 145.9,251.2 146.3,251.2 146.7,251.2 147.1,251.2 147.5,251.2 147.9,251.2 148.3,251.2 148.7,251.2 149.1,251.2 149.4,251.2 149.8,251.2 150.2,251.2 150.6,251.2 151.0,251.2 151.4,251.2 151.8,251.2 152.2,251.2 152.6,251.2 153.0,251.2 153.4,251.2 153.8,251.2 154.2,251.2 154.5,251.2 154.9,251.2 155.3,251.2 155.7,251.2 156.1,251.2 156.5,251.2 156.9,251.2 157.3,251.2 157.7,251.2 158.1,251.2 158.5,251.2 158.9,251.2 159.3,251.2 159.7,251.2 160.0,251.2 160.4,251.2 160.8,251.3 161.2,251.3 161.6,251.3 162.0,251.3 162.4,251.3 162.8,251.4 163.2,251.5 163.6,251.7 164.0,251.9 164.4,252.1 164.8,252.3 165.1,252.6 165.5,253.2 165.9,254.2 166.3,255.4 166.7,256.8 167.1,258.1 167.5,259.3 167.9,260.1 168.3,260.4 168.7,260.1 169.1,259.2 169.5,258.1 169.9,256.7 170.2,255.3 170.6,254.1 171.0,253.1 171.4,252.6 171.8,252.4 172.2,252.2 172.6,252.1 173.0,251.9 173.4,251.8 173.8,251.7 174.2,251.7 174.6,251.7 175.0,251.7 175.4,251.7 175.7,251.7 176.1,251.7 176.5,251.7 176.9,251.7 177.3,251.7 177.7,251.7 178.1,251.7 178.5,251.7 178.9,251.7 179.3,251.7 179.7,251.7 180.1,251.7 180.5,251.7 180.8,251.7 181.2,251.7 181.6,251.7 182.0,251.7 182.4,251.7 182.8,251.7 183.2,251.7 183.6,251.7 184.0,251.7 184.4,251.7 184.8,251.7 185.2,251.7 185.6,251.7 185.9,251.7 186.3,251.7 186.7,251.7 187.1,251.7 187.5,251.7 187.9,251.7 188.3,251.7 188.7,251.7 189.1,251.7 189.5,251.7 189.9,251.7 190.3,251.7 190.7,251.7 191.1,251.7 191.4,251.7 191.8,251.7 192.2,251.7 192.6,251.8 193.0,251.8 193.4,251.8 193.8,251.8 194.2,251.8 194.6,251.8 195.0,251.8 195.4,251.8 195.8,251.8 196.2,251.8 196.5,251.8 196.9,251.8 197.3,251.8 197.7,251.8 198.1,251.8 198.5,251.8 198.9,251.8 199.3,251.8 199.7,251.8 200.1,251.8 200.5,251.8 200.9,251.8 201.3,251.8 201.6,251.8 202.0,251.8 202.4,251.8 202.8,251.8 203.2,251.8 203.6,251.8 204.0,251.8 204.4,251.8 204.8,251.8 205.2,251.8 205.6,251.8 206.0,251.8 206.4,251.8 206.8,251.8 207.1,251.8 207.5,251.8 207.9,251.8 208.3,251.8 208.7,251.8 209.1,251.8 209.5,251.8 209.9,251.8 210.3,251.8 210.7,251.8 211.1,251.8 211.5,251.8 211.9,251.8 212.2,251.8 212.6,251.8 213.0,251.8 213.4,251.8 213.8,251.8 214.2,251.8 214.6,251.8 215.0,251.9 215.4,251.9 215.8,251.9 216.2,251.9 216.6,251.9 217.0,251.9 217.3,251.9 217.7,251.9 218.1,251.9 218.5,251.9 218.9,251.9 219.3,251.9 219.7,251.9 220.1,251.9 220.5,251.9 220.9,251.9 221.3,251.9 221.7,251.9 222.1,251.9 222.5,251.9 222.8,251.9 223.2,251.9 223.6,251.9 224.0,251.9 224.4,251.9 224.8,251.9 225.2,251.9 225.6,251.9 226.0,251.9 226.4,251.9 226.8,251.9 227.2,251.9 227.6,251.9 227.9,251.9 228.3,251.9 228.7,251.9 229.1,251.9 229.5,251.9 229.9,251.9 230.3,251.9 230.7,251.9 231.1,251.9 231.5,251.9 231.9,251.9 232.3,251.9 232.7,251.9 233.0,251.9 233.4,251.9 233.8,251.9 234.2,251.9 234.6,251.9 235.0,251.9 235.4,251.9 235.8,251.9 236.2,251.9 236.6,251.9 237.0,251.9 237.4,251.9 237.8,251.9 238.2,251.9" fill="none" stroke="#bcbcbc" stroke-width="2.2" stroke-linejoin="round" stroke-linecap="butt" />
<polyline points="79.2,244.9 79.6,244.9 80.0,244.9 80.4,244.9 80.8,244.9 81.2,244.8 81.5,244.8 81.9,244.8 82.3,244.7 82.7,244.7 83.1,244.6 83.5,244.6 83.9,244.5 84.3,244.5 84.7,244.4 85.1,244.4 85.5,244.3 85.9,244.3 86.3,244.2 86.6,244.1 87.0,244.1 87.4,244.0 87.8,243.9 88.2,243.9 88.6,243.8 89.0,243.7 89.4,243.7 89.8,243.6 90.2,243.6 90.6,243.5 91.0,243.4 91.4,243.4 91.7,243.3 92.1,243.3 92.5,243.2 92.9,243.2 93.3,243.1 93.7,243.1 94.1,243.0 94.5,243.0 94.9,242.9 95.3,242.9 95.7,242.9 96.1,242.8 96.5,242.8 96.8,242.8 97.2,242.7 97.6,242.7 98.0,242.6 98.4,242.6 98.8,242.6 99.2,242.5 99.6,242.5 100.0,242.5 100.4,242.4 100.8,242.4 101.2,242.4 101.6,242.3 102.0,242.3 102.3,242.3 102.7,242.2 103.1,242.2 103.5,242.2 103.9,242.1 104.3,242.1 104.7,242.1 105.1,242.0 105.5,242.0 105.9,242.0 106.3,242.0 106.7,241.9 107.1,241.9 107.4,241.9 107.8,241.8 108.2,241.8 108.6,241.8 109.0,241.7 109.4,241.7 109.8,241.7 110.2,241.7 110.6,241.6 111.0,241.6 111.4,241.6 111.8,241.6 112.2,241.5 112.6,241.5 112.9,241.5 113.3,241.4 113.7,241.4 114.1,241.4 114.5,241.4 114.9,241.3 115.3,241.3 115.7,241.3 116.1,241.3 116.5,241.2 116.9,241.2 117.3,241.2 117.7,241.2 118.0,241.2 118.4,241.1 118.8,241.1 119.2,241.1 119.6,241.1 120.0,241.0 120.4,241.0 120.8,241.0 121.2,241.0 121.6,240.9 122.0,240.9 122.4,240.9 122.8,240.9 123.1,240.9 123.5,240.8 123.9,240.8 124.3,240.8 124.7,240.8 125.1,240.8 125.5,240.7 125.9,240.7 126.3,240.7 126.7,240.7 127.1,240.6 127.5,240.6 127.9,240.6 128.2,240.6 128.6,240.5 129.0,240.5 129.4,240.5 129.8,240.5 130.2,240.4 130.6,240.4 131.0,240.4 131.4,240.4 131.8,240.3 132.2,240.3 132.6,240.3 133.0,240.3 133.4,240.2 133.7,240.2 134.1,240.2 134.5,240.2 134.9,240.1 135.3,240.1 135.7,240.1 136.1,240.1 136.5,240.0 136.9,240.0 137.3,240.0 137.7,240.0 138.1,239.9 138.5,239.9 138.8,239.9 139.2,239.9 139.6,239.9 140.0,239.8 140.4,239.8 140.8,239.8 141.2,239.8 141.6,239.7 142.0,239.7 142.4,239.7 142.8,239.7 143.2,239.6 143.6,239.6 143.9,239.6 144.3,239.6 144.7,239.6 145.1,239.5 145.5,239.5 145.9,239.5 146.3,239.5 146.7,239.5 147.1,239.5 147.5,239.4 147.9,239.4 148.3,239.4 148.7,239.4 149.1,239.4 149.4,239.4 149.8,239.3 150.2,239.3 150.6,239.3 151.0,239.3 151.4,239.3 151.8,239.3 152.2,239.3 152.6,239.3 153.0,239.2 153.4,239.2 153.8,239.2 154.2,239.2 154.5,239.2 154.9,239.2 155.3,239.2 155.7,239.2 156.1,239.2 156.5,239.2 156.9,239.2 157.3,239.2 157.7,239.2 158.1,239.3 158.5,239.5 158.9,239.8 159.3,240.2 159.7,240.6 160.0,241.3 160.4,242.1 160.8,242.7 161.2,243.0 161.6,243.3 162.0,243.6 162.4,243.8 162.8,244.0 163.2,244.1 163.6,244.3 164.0,244.5 164.4,244.7 164.8,244.9 165.1,245.1 165.5,245.4 165.9,245.8 166.3,246.1 166.7,246.4 167.1,246.7 167.5,247.0 167.9,247.2 168.3,247.3 168.7,247.4 169.1,247.3 169.5,247.1 169.9,246.9 170.2,246.6 170.6,246.3 171.0,245.9 171.4,245.6 171.8,245.3 172.2,245.0 172.6,244.9 173.0,244.7 173.4,244.7 173.8,244.7 174.2,244.7 174.6,244.7 175.0,244.7 175.4,244.7 175.7,244.7 176.1,244.7 176.5,244.7 176.9,244.7 177.3,244.7 177.7,244.7 178.1,244.7 178.5,244.7 178.9,244.7 179.3,244.7 179.7,244.7 180.1,244.7 180.5,244.7 180.8,244.7 181.2,244.7 181.6,244.7 182.0,244.7 182.4,244.7 182.8,244.7 183.2,244.7 183.6,244.7 184.0,244.7 184.4,244.7 184.8,244.7 185.2,244.7 185.6,244.7 185.9,244.7 186.3,244.7 186.7,244.7 187.1,244.7 187.5,244.7 187.9,244.7 188.3,244.7 188.7,244.7 189.1,244.7 189.5,244.7 189.9,244.7 190.3,244.7 190.7,244.7 191.1,244.7 191.4,244.7 191.8,244.7 192.2,244.7 192.6,244.7 193.0,244.7 193.4,244.7 193.8,244.7 194.2,244.7 194.6,244.7 195.0,244.7 195.4,244.7 195.8,244.8 196.2,244.8 196.5,244.8 196.9,244.8 197.3,244.8 197.7,244.8 198.1,244.8 198.5,244.8 198.9,244.8 199.3,244.8 199.7,244.8 200.1,244.8 200.5,244.8 200.9,244.8 201.3,244.8 201.6,244.8 202.0,244.8 202.4,244.8 202.8,244.8 203.2,244.8 203.6,244.8 204.0,244.9 204.4,244.9 204.8,244.9 205.2,244.9 205.6,244.9 206.0,244.9 206.4,244.9 206.8,244.9 207.1,244.9 207.5,244.9 207.9,244.9 208.3,244.9 208.7,244.9 209.1,244.9 209.5,245.0 209.9,245.0 210.3,245.0 210.7,245.0 211.1,245.0 211.5,245.0 211.9,245.0 212.2,245.0 212.6,245.0 213.0,245.0 213.4,245.0 213.8,245.1 214.2,245.1 214.6,245.1 215.0,245.1 215.4,245.1 215.8,245.1 216.2,245.1 216.6,245.1 217.0,245.1 217.3,245.2 217.7,245.2 218.1,245.2 218.5,245.2 218.9,245.2 219.3,245.2 219.7,245.2 220.1,245.2 220.5,245.2 220.9,245.3 221.3,245.3 221.7,245.3 222.1,245.3 222.5,245.3 222.8,245.3 223.2,245.3 223.6,245.3 224.0,245.4 224.4,245.4 224.8,245.4 225.2,245.4 225.6,245.4 226.0,245.4 226.4,245.4 226.8,245.4 227.2,245.5 227.6,245.5 227.9,245.5 228.3,245.5 228.7,245.5 229.1,245.5 229.5,245.5 229.9,245.6 230.3,245.6 230.7,245.6 231.1,245.6 231.5,245.6 231.9,245.6 232.3,245.6 232.7,245.7 233.0,245.7 233.4,245.7 233.8,245.7 234.2,245.7 234.6,245.7 235.0,245.8 235.4,245.8 235.8,245.8 236.2,245.8 236.6,245.8 237.0,245.8 237.4,245.8 237.8,245.9 238.2,245.9" fill="none" stroke="#b4443c" stroke-width="2.2" stroke-linejoin="round" stroke-linecap="butt" />
<polyline points="79.2,246.5 79.6,246.4 80.0,246.4 80.4,246.4 80.8,246.4 81.2,246.4 81.5,246.4 81.9,246.3 82.3,246.3 82.7,246.3 83.1,246.2 83.5,246.2 83.9,246.1 84.3,246.1 84.7,246.0 85.1,246.0 85.5,246.0 85.9,245.9 86.3,245.9 86.6,245.8 87.0,245.8 87.4,245.7 87.8,245.6 88.2,245.6 88.6,245.5 89.0,245.5 89.4,245.4 89.8,245.4 90.2,245.3 90.6,245.3 91.0,245.2 91.4,245.2 91.7,245.1 92.1,245.1 92.5,245.1 92.9,245.0 93.3,245.0 93.7,245.0 94.1,244.9 94.5,244.9 94.9,244.9 95.3,244.8 95.7,244.8 96.1,244.8 96.5,244.8 96.8,244.7 97.2,244.7 97.6,244.7 98.0,244.6 98.4,244.6 98.8,244.6 99.2,244.6 99.6,244.5 100.0,244.5 100.4,244.5 100.8,244.5 101.2,244.4 101.6,244.4 102.0,244.4 102.3,244.4 102.7,244.3 103.1,244.3 103.5,244.3 103.9,244.3 104.3,244.3 104.7,244.2 105.1,244.2 105.5,244.2 105.9,244.2 106.3,244.1 106.7,244.1 107.1,244.1 107.4,244.1 107.8,244.1 108.2,244.0 108.6,244.0 109.0,244.0 109.4,244.0 109.8,244.0 110.2,243.9 110.6,243.9 111.0,243.9 111.4,243.9 111.8,243.9 112.2,243.9 112.6,243.8 112.9,243.8 113.3,243.8 113.7,243.8 114.1,243.8 114.5,243.7 114.9,243.7 115.3,243.7 115.7,243.7 116.1,243.7 116.5,243.7 116.9,243.6 117.3,243.6 117.7,243.6 118.0,243.6 118.4,243.6 118.8,243.6 119.2,243.6 119.6,243.5 120.0,243.5 120.4,243.5 120.8,243.5 121.2,243.5 121.6,243.5 122.0,243.5 122.4,243.4 122.8,243.4 123.1,243.4 123.5,243.4 123.9,243.4 124.3,243.4 124.7,243.4 125.1,243.3 125.5,243.3 125.9,243.3 126.3,243.3 126.7,243.3 127.1,243.3 127.5,243.3 127.9,243.2 128.2,243.2 128.6,243.2 129.0,243.2 129.4,243.2 129.8,243.2 130.2,243.2 130.6,243.1 131.0,243.1 131.4,243.1 131.8,243.1 132.2,243.1 132.6,243.1 133.0,243.1 133.4,243.0 133.7,243.0 134.1,243.0 134.5,243.0 134.9,243.0 135.3,243.0 135.7,243.0 136.1,242.9 136.5,242.9 136.9,242.9 137.3,242.9 137.7,242.9 138.1,242.9 138.5,242.9 138.8,242.8 139.2,242.8 139.6,242.8 140.0,242.8 140.4,242.8 140.8,242.8 141.2,242.8 141.6,242.7 142.0,242.7 142.4,242.7 142.8,242.7 143.2,242.7 143.6,242.7 143.9,242.7 144.3,242.7 144.7,242.6 145.1,242.6 145.5,242.6 145.9,242.6 146.3,242.6 146.7,242.6 147.1,242.6 147.5,242.6 147.9,242.6 148.3,242.6 148.7,242.5 149.1,242.5 149.4,242.5 149.8,242.5 150.2,242.5 150.6,242.5 151.0,242.5 151.4,242.5 151.8,242.5 152.2,242.5 152.6,242.5 153.0,242.5 153.4,242.5 153.8,242.4 154.2,242.4 154.5,242.4 154.9,242.4 155.3,242.4 155.7,242.4 156.1,242.4 156.5,242.4 156.9,242.4 157.3,242.4 157.7,242.4 158.1,242.4 158.5,242.4 158.9,242.4 159.3,242.4 159.7,242.5 160.0,243.1 160.4,244.0 160.8,244.9 161.2,245.7 161.6,246.0 162.0,245.9 162.4,245.8 162.8,245.5 163.2,245.2 163.6,244.9 164.0,244.7 164.4,244.5 164.8,244.4 165.1,244.5 165.5,244.7 165.9,245.1 166.3,245.5 166.7,246.0 167.1,246.5 167.5,246.9 167.9,247.3 168.3,247.5 168.7,247.6 169.1,247.5 169.5,247.2 169.9,246.9 170.2,246.5 170.6,246.0 171.0,245.6 171.4,245.1 171.8,244.7 172.2,244.3 172.6,244.0 173.0,243.9 173.4,243.8 173.8,243.8 174.2,243.8 174.6,243.8 175.0,243.8 175.4,243.8 175.7,243.8 176.1,243.8 176.5,243.8 176.9,243.8 177.3,243.8 177.7,243.8 178.1,243.8 178.5,243.8 178.9,243.8 179.3,243.8 179.7,243.8 180.1,243.8 180.5,243.8 180.8,243.8 181.2,243.8 181.6,243.8 182.0,243.8 182.4,243.8 182.8,243.8 183.2,243.8 183.6,243.8 184.0,243.8 184.4,243.8 184.8,243.8 185.2,243.8 185.6,243.8 185.9,243.8 186.3,243.8 186.7,243.8 187.1,243.8 187.5,243.8 187.9,243.8 188.3,243.8 188.7,243.8 189.1,243.8 189.5,243.8 189.9,243.8 190.3,243.8 190.7,243.8 191.1,243.8 191.4,243.8 191.8,243.8 192.2,243.8 192.6,243.8 193.0,243.8 193.4,243.8 193.8,243.8 194.2,243.8 194.6,243.8 195.0,243.9 195.4,243.9 195.8,243.9 196.2,243.9 196.5,243.9 196.9,243.9 197.3,243.9 197.7,243.9 198.1,243.9 198.5,243.9 198.9,243.9 199.3,243.9 199.7,243.9 200.1,243.9 200.5,243.9 200.9,243.9 201.3,243.9 201.6,243.9 202.0,243.9 202.4,243.9 202.8,243.9 203.2,243.9 203.6,244.0 204.0,244.0 204.4,244.0 204.8,244.0 205.2,244.0 205.6,244.0 206.0,244.0 206.4,244.0 206.8,244.0 207.1,244.0 207.5,244.0 207.9,244.0 208.3,244.0 208.7,244.1 209.1,244.1 209.5,244.1 209.9,244.1 210.3,244.1 210.7,244.1 211.1,244.1 211.5,244.1 211.9,244.1 212.2,244.1 212.6,244.1 213.0,244.2 213.4,244.2 213.8,244.2 214.2,244.2 214.6,244.2 215.0,244.2 215.4,244.2 215.8,244.2 216.2,244.2 216.6,244.3 217.0,244.3 217.3,244.3 217.7,244.3 218.1,244.3 218.5,244.3 218.9,244.3 219.3,244.3 219.7,244.3 220.1,244.4 220.5,244.4 220.9,244.4 221.3,244.4 221.7,244.4 222.1,244.4 222.5,244.4 222.8,244.4 223.2,244.5 223.6,244.5 224.0,244.5 224.4,244.5 224.8,244.5 225.2,244.5 225.6,244.5 226.0,244.6 226.4,244.6 226.8,244.6 227.2,244.6 227.6,244.6 227.9,244.6 228.3,244.6 228.7,244.7 229.1,244.7 229.5,244.7 229.9,244.7 230.3,244.7 230.7,244.7 231.1,244.7 231.5,244.8 231.9,244.8 232.3,244.8 232.7,244.8 233.0,244.8 233.4,244.8 233.8,244.9 234.2,244.9 234.6,244.9 235.0,244.9 235.4,244.9 235.8,244.9 236.2,245.0 236.6,245.0 237.0,245.0 237.4,245.0 237.8,245.0 238.2,245.0" fill="none" stroke="#7a2ec4" stroke-width="2.2" stroke-linejoin="round" stroke-linecap="butt" />
<polyline points="79.2,243.0 79.6,243.0 80.0,242.9 80.4,242.9 80.8,242.8 81.2,242.8 81.5,242.7 81.9,242.6 82.3,242.5 82.7,242.4 83.1,242.3 83.5,242.2 83.9,242.1 84.3,242.0 84.7,241.9 85.1,241.8 85.5,241.6 85.9,241.5 86.3,241.4 86.6,241.2 87.0,241.1 87.4,241.0 87.8,240.8 88.2,240.7 88.6,240.5 89.0,240.4 89.4,240.3 89.8,240.1 90.2,240.0 90.6,239.8 91.0,239.7 91.4,239.6 91.7,239.5 92.1,239.3 92.5,239.2 92.9,239.1 93.3,239.0 93.7,238.9 94.1,238.8 94.5,238.7 94.9,238.6 95.3,238.5 95.7,238.4 96.1,238.3 96.5,238.2 96.8,238.2 97.2,238.1 97.6,238.0 98.0,237.9 98.4,237.8 98.8,237.7 99.2,237.6 99.6,237.5 100.0,237.4 100.4,237.3 100.8,237.3 101.2,237.2 101.6,237.1 102.0,237.0 102.3,236.9 102.7,236.8 103.1,236.8 103.5,236.7 103.9,236.6 104.3,236.5 104.7,236.4 105.1,236.4 105.5,236.3 105.9,236.2 106.3,236.1 106.7,236.1 107.1,236.0 107.4,235.9 107.8,235.9 108.2,235.8 108.6,235.7 109.0,235.7 109.4,235.6 109.8,235.5 110.2,235.5 110.6,235.4 111.0,235.4 111.4,235.3 111.8,235.3 112.2,235.2 112.6,235.1 112.9,235.1 113.3,235.0 113.7,235.0 114.1,234.9 114.5,234.9 114.9,234.8 115.3,234.8 115.7,234.7 116.1,234.7 116.5,234.6 116.9,234.6 117.3,234.5 117.7,234.5 118.0,234.4 118.4,234.4 118.8,234.3 119.2,234.3 119.6,234.3 120.0,234.2 120.4,234.2 120.8,234.1 121.2,234.1 121.6,234.0 122.0,234.0 122.4,234.0 122.8,233.9 123.1,233.9 123.5,233.8 123.9,233.8 124.3,233.8 124.7,233.7 125.1,233.7 125.5,233.6 125.9,233.6 126.3,233.6 126.7,233.5 127.1,233.5 127.5,233.5 127.9,233.4 128.2,233.4 128.6,233.3 129.0,233.3 129.4,233.3 129.8,233.2 130.2,233.2 130.6,233.2 131.0,233.1 131.4,233.1 131.8,233.1 132.2,233.0 132.6,233.0 133.0,233.0 133.4,233.0 133.7,232.9 134.1,232.9 134.5,232.9 134.9,232.8 135.3,232.8 135.7,232.8 136.1,232.7 136.5,232.7 136.9,232.7 137.3,232.6 137.7,232.6 138.1,232.6 138.5,232.6 138.8,232.5 139.2,232.5 139.6,232.5 140.0,232.4 140.4,232.4 140.8,232.4 141.2,232.4 141.6,232.3 142.0,232.3 142.4,232.3 142.8,232.2 143.2,232.2 143.6,232.1 143.9,232.1 144.3,232.1 144.7,232.0 145.1,232.0 145.5,232.0 145.9,231.9 146.3,231.9 146.7,231.9 147.1,231.8 147.5,231.8 147.9,231.8 148.3,231.7 148.7,231.7 149.1,231.7 149.4,231.6 149.8,231.6 150.2,231.6 150.6,231.5 151.0,231.5 151.4,231.5 151.8,231.4 152.2,231.4 152.6,231.4 153.0,231.4 153.4,231.4 153.8,231.3 154.2,231.3 154.5,231.3 154.9,231.3 155.3,231.3 155.7,231.3 156.1,231.2 156.5,231.2 156.9,231.2 157.3,231.2 157.7,231.2 158.1,231.2 158.5,231.3 158.9,231.4 159.3,231.5 159.7,231.6 160.0,231.7 160.4,231.9 160.8,232.1 161.2,232.3 161.6,232.4 162.0,232.6 162.4,232.8 162.8,233.0 163.2,233.2 163.6,233.4 164.0,233.6 164.4,233.9 164.8,234.1 165.1,234.4 165.5,234.7 165.9,235.1 166.3,235.4 166.7,235.8 167.1,236.2 167.5,237.0 167.9,237.9 168.3,238.8 168.7,239.0 169.1,238.8 169.5,238.3 169.9,237.6 170.2,236.9 170.6,236.2 171.0,235.6 171.4,235.3 171.8,235.3 172.2,235.3 172.6,235.3 173.0,235.3 173.4,235.3 173.8,235.4 174.2,235.4 174.6,235.4 175.0,235.4 175.4,235.5 175.7,235.5 176.1,235.6 176.5,235.6 176.9,235.6 177.3,235.7 177.7,235.7 178.1,235.8 178.5,235.8 178.9,235.9 179.3,235.9 179.7,236.0 180.1,236.1 180.5,236.1 180.8,236.2 181.2,236.2 181.6,236.3 182.0,236.4 182.4,236.4 182.8,236.5 183.2,236.5 183.6,236.6 184.0,236.6 184.4,236.7 184.8,236.8 185.2,236.8 185.6,236.9 185.9,236.9 186.3,237.0 186.7,237.0 187.1,237.0 187.5,237.1 187.9,237.1 188.3,237.2 188.7,237.2 189.1,237.2 189.5,237.3 189.9,237.3 190.3,237.3 190.7,237.3 191.1,237.4 191.4,237.4 191.8,237.4 192.2,237.5 192.6,237.5 193.0,237.5 193.4,237.6 193.8,237.6 194.2,237.6 194.6,237.6 195.0,237.7 195.4,237.7 195.8,237.7 196.2,237.7 196.5,237.8 196.9,237.8 197.3,237.8 197.7,237.9 198.1,237.9 198.5,237.9 198.9,237.9 199.3,238.0 199.7,238.0 200.1,238.0 200.5,238.0 200.9,238.0 201.3,238.1 201.6,238.1 202.0,238.1 202.4,238.1 202.8,238.2 203.2,238.2 203.6,238.2 204.0,238.2 204.4,238.2 204.8,238.3 205.2,238.3 205.6,238.3 206.0,238.3 206.4,238.4 206.8,238.4 207.1,238.4 207.5,238.4 207.9,238.4 208.3,238.5 208.7,238.5 209.1,238.5 209.5,238.5 209.9,238.5 210.3,238.5 210.7,238.6 211.1,238.6 211.5,238.6 211.9,238.6 212.2,238.6 212.6,238.7 213.0,238.7 213.4,238.7 213.8,238.7 214.2,238.7 214.6,238.7 215.0,238.8 215.4,238.8 215.8,238.8 216.2,238.8 216.6,238.8 217.0,238.8 217.3,238.9 217.7,238.9 218.1,238.9 218.5,238.9 218.9,238.9 219.3,238.9 219.7,239.0 220.1,239.0 220.5,239.0 220.9,239.0 221.3,239.0 221.7,239.0 222.1,239.1 222.5,239.1 222.8,239.1 223.2,239.1 223.6,239.1 224.0,239.1 224.4,239.1 224.8,239.2 225.2,239.2 225.6,239.2 226.0,239.2 226.4,239.2 226.8,239.2 227.2,239.2 227.6,239.3 227.9,239.3 228.3,239.3 228.7,239.3 229.1,239.3 229.5,239.3 229.9,239.3 230.3,239.3 230.7,239.4 231.1,239.4 231.5,239.4 231.9,239.4 232.3,239.4 232.7,239.4 233.0,239.4 233.4,239.4 233.8,239.5 234.2,239.5 234.6,239.5 235.0,239.5 235.4,239.5 235.8,239.5 236.2,239.5 236.6,239.5 237.0,239.5 237.4,239.5 237.8,239.5 238.2,239.6" fill="none" stroke="#000" stroke-width="1.8" stroke-linejoin="round" stroke-linecap="butt" />
<polyline points="79.2,244.3 79.6,244.3 80.0,244.2 80.4,244.2 80.8,244.1 81.2,244.1 81.5,244.0 81.9,243.9 82.3,243.9 82.7,243.8 83.1,243.7 83.5,243.6 83.9,243.5 84.3,243.4 84.7,243.2 85.1,243.1 85.5,243.0 85.9,242.9 86.3,242.7 86.6,242.6 87.0,242.5 87.4,242.3 87.8,242.2 88.2,242.1 88.6,241.9 89.0,241.8 89.4,241.7 89.8,241.5 90.2,241.4 90.6,241.3 91.0,241.1 91.4,241.0 91.7,240.9 92.1,240.8 92.5,240.7 92.9,240.6 93.3,240.5 93.7,240.4 94.1,240.3 94.5,240.2 94.9,240.1 95.3,240.0 95.7,239.9 96.1,239.9 96.5,239.8 96.8,239.7 97.2,239.6 97.6,239.5 98.0,239.5 98.4,239.4 98.8,239.3 99.2,239.2 99.6,239.1 100.0,239.1 100.4,239.0 100.8,238.9 101.2,238.8 101.6,238.8 102.0,238.7 102.3,238.6 102.7,238.5 103.1,238.5 103.5,238.4 103.9,238.3 104.3,238.3 104.7,238.2 105.1,238.1 105.5,238.1 105.9,238.0 106.3,237.9 106.7,237.9 107.1,237.8 107.4,237.7 107.8,237.7 108.2,237.6 108.6,237.6 109.0,237.5 109.4,237.4 109.8,237.4 110.2,237.3 110.6,237.3 111.0,237.2 111.4,237.2 111.8,237.1 112.2,237.1 112.6,237.0 112.9,237.0 113.3,236.9 113.7,236.9 114.1,236.8 114.5,236.8 114.9,236.7 115.3,236.7 115.7,236.6 116.1,236.6 116.5,236.5 116.9,236.5 117.3,236.4 117.7,236.4 118.0,236.3 118.4,236.3 118.8,236.2 119.2,236.2 119.6,236.2 120.0,236.1 120.4,236.1 120.8,236.0 121.2,236.0 121.6,235.9 122.0,235.9 122.4,235.9 122.8,235.8 123.1,235.8 123.5,235.7 123.9,235.7 124.3,235.7 124.7,235.6 125.1,235.6 125.5,235.5 125.9,235.5 126.3,235.5 126.7,235.4 127.1,235.4 127.5,235.3 127.9,235.3 128.2,235.3 128.6,235.2 129.0,235.2 129.4,235.2 129.8,235.1 130.2,235.1 130.6,235.1 131.0,235.0 131.4,235.0 131.8,235.0 132.2,234.9 132.6,234.9 133.0,234.9 133.4,234.8 133.7,234.8 134.1,234.8 134.5,234.7 134.9,234.7 135.3,234.7 135.7,234.6 136.1,234.6 136.5,234.6 136.9,234.5 137.3,234.5 137.7,234.5 138.1,234.4 138.5,234.4 138.8,234.4 139.2,234.3 139.6,234.3 140.0,234.3 140.4,234.3 140.8,234.2 141.2,234.2 141.6,234.2 142.0,234.1 142.4,234.1 142.8,234.1 143.2,234.0 143.6,234.0 143.9,233.9 144.3,233.9 144.7,233.9 145.1,233.8 145.5,233.8 145.9,233.8 146.3,233.7 146.7,233.7 147.1,233.6 147.5,233.6 147.9,233.6 148.3,233.5 148.7,233.5 149.1,233.5 149.4,233.4 149.8,233.4 150.2,233.4 150.6,233.3 151.0,233.3 151.4,233.3 151.8,233.3 152.2,233.2 152.6,233.2 153.0,233.2 153.4,233.2 153.8,233.1 154.2,233.1 154.5,233.1 154.9,233.1 155.3,233.1 155.7,233.1 156.1,233.0 156.5,233.0 156.9,233.0 157.3,233.0 157.7,233.0 158.1,233.0 158.5,233.1 158.9,233.3 159.3,233.5 159.7,233.7 160.0,234.0 160.4,234.2 160.8,234.5 161.2,234.7 161.6,234.9 162.0,235.2 162.4,235.4 162.8,235.7 163.2,236.0 163.6,236.3 164.0,236.5 164.4,236.8 164.8,237.1 165.1,237.4 165.5,237.6 165.9,237.9 166.3,238.1 166.7,238.4 167.1,238.7 167.5,239.0 167.9,239.2 168.3,239.3 168.7,239.3 169.1,239.2 169.5,239.0 169.9,238.7 170.2,238.4 170.6,237.9 171.0,237.5 171.4,237.1 171.8,236.7 172.2,236.3 172.6,236.1 173.0,235.9 173.4,235.9 173.8,235.9 174.2,235.9 174.6,235.9 175.0,235.9 175.4,236.0 175.7,236.0 176.1,236.0 176.5,236.0 176.9,236.0 177.3,236.0 177.7,236.1 178.1,236.1 178.5,236.1 178.9,236.2 179.3,236.2 179.7,236.2 180.1,236.2 180.5,236.3 180.8,236.3 181.2,236.3 181.6,236.4 182.0,236.4 182.4,236.4 182.8,236.5 183.2,236.5 183.6,236.5 184.0,236.6 184.4,236.6 184.8,236.6 185.2,236.7 185.6,236.7 185.9,236.7 186.3,236.7 186.7,236.8 187.1,236.8 187.5,236.8 187.9,236.8 188.3,236.9 188.7,236.9 189.1,236.9 189.5,236.9 189.9,236.9 190.3,236.9 190.7,237.0 191.1,237.0 191.4,237.0 191.8,237.0 192.2,237.0 192.6,237.1 193.0,237.1 193.4,237.1 193.8,237.1 194.2,237.1 194.6,237.1 195.0,237.2 195.4,237.2 195.8,237.2 196.2,237.2 196.5,237.2 196.9,237.2 197.3,237.3 197.7,237.3 198.1,237.3 198.5,237.3 198.9,237.3 199.3,237.3 199.7,237.4 200.1,237.4 200.5,237.4 200.9,237.4 201.3,237.4 201.6,237.4 202.0,237.5 202.4,237.5 202.8,237.5 203.2,237.5 203.6,237.5 204.0,237.5 204.4,237.6 204.8,237.6 205.2,237.6 205.6,237.6 206.0,237.6 206.4,237.6 206.8,237.7 207.1,237.7 207.5,237.7 207.9,237.7 208.3,237.7 208.7,237.7 209.1,237.7 209.5,237.8 209.9,237.8 210.3,237.8 210.7,237.8 211.1,237.8 211.5,237.8 211.9,237.8 212.2,237.9 212.6,237.9 213.0,237.9 213.4,237.9 213.8,237.9 214.2,237.9 214.6,237.9 215.0,238.0 215.4,238.0 215.8,238.0 216.2,238.0 216.6,238.0 217.0,238.0 217.3,238.0 217.7,238.0 218.1,238.1 218.5,238.1 218.9,238.1 219.3,238.1 219.7,238.1 220.1,238.1 220.5,238.1 220.9,238.1 221.3,238.2 221.7,238.2 222.1,238.2 222.5,238.2 222.8,238.2 223.2,238.2 223.6,238.2 224.0,238.2 224.4,238.2 224.8,238.3 225.2,238.3 225.6,238.3 226.0,238.3 226.4,238.3 226.8,238.3 227.2,238.3 227.6,238.3 227.9,238.3 228.3,238.3 228.7,238.3 229.1,238.4 229.5,238.4 229.9,238.4 230.3,238.4 230.7,238.4 231.1,238.4 231.5,238.4 231.9,238.4 232.3,238.4 232.7,238.4 233.0,238.4 233.4,238.4 233.8,238.4 234.2,238.5 234.6,238.5 235.0,238.5 235.4,238.5 235.8,238.5 236.2,238.5 236.6,238.5 237.0,238.5 237.4,238.5 237.8,238.5 238.2,238.5" fill="none" stroke="#92b060" stroke-width="2.1" stroke-linejoin="round" stroke-linecap="butt" />
<polyline points="64.3,252.1 64.7,251.9 65.1,251.6 65.5,250.8 65.8,249.4 66.2,247.5 66.6,245.3 67.0,243.0 67.4,240.8 67.8,238.9 68.2,237.2 68.6,235.6 69.0,234.0 69.4,232.4 69.8,230.8 70.2,229.1 70.6,227.5 70.9,225.8 71.3,223.9 71.7,221.9 72.1,219.9 72.5,217.8 72.9,215.9 73.3,214.1 73.7,212.6 74.1,211.0 74.5,209.9 74.9,209.9 75.3,210.7 75.7,211.6 76.0,212.0 76.4,212.0 76.8,211.9 77.2,211.7 77.6,211.6 78.0,211.3 78.4,211.1 78.8,210.7 79.2,210.3 79.6,209.8 80.0,209.3 80.4,208.7 80.8,208.2 81.2,207.6 81.5,207.1 81.9,206.6 82.3,206.1 82.7,205.7 83.1,205.3 83.5,204.9 83.9,204.6 84.3,204.2 84.7,203.8 85.1,203.4 85.5,203.0 85.9,202.7 86.3,202.3 86.6,202.0 87.0,201.7 87.4,201.4 87.8,201.1 88.2,200.9 88.6,200.6 89.0,200.5 89.4,200.3 89.8,200.1 90.2,200.0 90.6,199.8 91.0,199.7 91.4,199.5 91.7,199.4 92.1,199.2 92.5,199.1 92.9,199.0 93.3,198.9 93.7,198.8 94.1,198.7 94.5,198.6 94.9,198.5 95.3,198.4 95.7,198.3 96.1,198.2 96.5,198.1 96.8,198.0 97.2,198.0 97.6,197.9 98.0,197.9 98.4,197.8 98.8,197.8 99.2,197.7 99.6,197.7 100.0,197.6 100.4,197.6 100.8,197.6 101.2,197.5 101.6,197.5 102.0,197.5 102.3,197.4 102.7,197.4 103.1,197.4 103.5,197.3 103.9,197.3 104.3,197.3 104.7,197.3 105.1,197.2 105.5,197.2 105.9,197.2 106.3,197.2 106.7,197.1 107.1,197.1 107.4,197.1 107.8,197.1 108.2,197.1 108.6,197.1 109.0,197.0 109.4,197.0 109.8,197.0 110.2,197.0 110.6,197.0 111.0,197.0 111.4,197.0 111.8,196.9 112.2,196.9 112.6,196.9 112.9,196.9 113.3,196.9 113.7,196.9 114.1,196.9 114.5,196.9 114.9,196.8 115.3,196.8 115.7,196.8 116.1,196.8 116.5,196.8 116.9,196.8 117.3,196.8 117.7,196.8 118.0,196.8 118.4,196.8 118.8,196.8 119.2,196.8 119.6,196.8 120.0,196.8 120.4,196.8 120.8,196.8 121.2,196.8 121.6,196.8 122.0,196.8 122.4,196.8 122.8,196.8 123.1,196.8 123.5,196.8 123.9,196.8 124.3,196.8 124.7,196.8 125.1,196.8 125.5,196.8 125.9,196.8 126.3,196.8 126.7,196.8 127.1,196.8 127.5,196.8 127.9,196.8 128.2,196.8 128.6,196.8 129.0,196.8 129.4,196.8 129.8,196.8 130.2,196.8 130.6,196.8 131.0,196.8 131.4,196.8 131.8,196.8 132.2,196.8 132.6,196.8 133.0,196.8 133.4,196.8 133.7,196.8 134.1,196.8 134.5,196.8 134.9,196.8 135.3,196.8 135.7,196.8 136.1,196.8 136.5,196.8 136.9,196.8 137.3,196.8 137.7,196.8 138.1,196.8 138.5,196.8 138.8,196.8 139.2,196.8 139.6,196.8 140.0,196.8 140.4,196.8 140.8,196.8 141.2,196.8 141.6,196.8 142.0,196.8 142.4,196.8 142.8,196.8 143.2,196.8 143.6,196.8 143.9,196.8 144.3,196.8 144.7,196.8 145.1,196.8 145.5,196.9 145.9,196.9 146.3,196.9 146.7,196.9 147.1,196.9 147.5,196.9 147.9,196.9 148.3,196.9 148.7,196.9 149.1,196.9 149.4,196.9 149.8,196.9 150.2,196.9 150.6,196.9 151.0,196.9 151.4,196.9 151.8,196.9 152.2,196.9 152.6,196.9 153.0,196.9 153.4,196.9 153.8,197.0 154.2,197.0 154.5,197.0 154.9,197.0 155.3,197.0 155.7,197.0 156.1,197.0 156.5,197.0 156.9,197.0 157.3,197.0 157.7,197.0 158.1,197.0 158.5,197.1 158.9,197.4 159.3,197.8 159.7,198.3 160.0,198.8 160.4,199.4 160.8,200.2 161.2,201.2 161.6,202.5 162.0,204.0 162.4,205.5 162.8,207.1 163.2,208.6 163.6,209.9 164.0,211.3 164.4,212.8 164.8,214.3 165.1,215.8 165.5,217.2 165.9,218.5 166.3,219.6 166.7,220.4 167.1,220.9 167.5,221.4 167.9,221.8 168.3,222.1 168.7,222.5 169.1,222.8 169.5,223.0 169.9,223.3 170.2,223.5 170.6,223.8 171.0,224.0 171.4,224.2 171.8,224.4 172.2,224.7 172.6,224.9 173.0,225.2 173.4,225.4 173.8,225.7 174.2,225.9 174.6,226.1 175.0,226.3 175.4,226.6 175.7,226.8 176.1,227.0 176.5,227.2 176.9,227.4 177.3,227.6 177.7,227.9 178.1,228.1 178.5,228.3 178.9,228.5 179.3,228.7 179.7,229.0 180.1,229.2 180.5,229.4 180.8,229.7 181.2,229.9 181.6,230.1 182.0,230.4 182.4,230.6 182.8,230.8 183.2,231.0 183.6,231.3 184.0,231.5 184.4,231.7 184.8,231.9 185.2,232.2 185.6,232.4 185.9,232.6 186.3,232.8 186.7,233.0 187.1,233.2 187.5,233.5 187.9,233.7 188.3,233.9 188.7,234.1 189.1,234.3 189.5,234.5 189.9,234.7 190.3,234.9 190.7,235.2 191.1,235.4 191.4,235.6 191.8,235.8 192.2,236.0 192.6,236.2 193.0,236.4 193.4,236.5 193.8,236.7 194.2,236.9 194.6,237.1 195.0,237.2 195.4,237.4 195.8,237.6 196.2,237.7 196.5,237.9 196.9,238.0 197.3,238.2 197.7,238.3 198.1,238.5 198.5,238.6 198.9,238.7 199.3,238.9 199.7,239.0 200.1,239.1 200.5,239.3 200.9,239.4 201.3,239.5 201.6,239.6 202.0,239.8 202.4,239.9 202.8,240.0 203.2,240.1 203.6,240.2 204.0,240.3 204.4,240.5 204.8,240.6 205.2,240.7 205.6,240.8 206.0,240.9 206.4,241.0 206.8,241.1 207.1,241.2 207.5,241.3 207.9,241.4 208.3,241.6 208.7,241.7 209.1,241.8 209.5,241.9 209.9,242.0 210.3,242.1 210.7,242.2 211.1,242.3 211.5,242.4 211.9,242.5 212.2,242.6 212.6,242.7 213.0,242.8 213.4,242.9 213.8,243.0 214.2,243.1 214.6,243.2 215.0,243.3 215.4,243.4 215.8,243.4 216.2,243.5 216.6,243.6 217.0,243.6 217.3,243.7 217.7,243.7 218.1,243.8 218.5,243.8 218.9,243.9 219.3,243.9 219.7,243.9 220.1,243.9 220.5,244.0 220.9,244.0 221.3,244.0 221.7,244.0 222.1,244.0 222.5,244.1 222.8,244.1 223.2,244.1 223.6,244.1 224.0,244.1 224.4,244.2 224.8,244.2 225.2,244.2 225.6,244.2 226.0,244.2 226.4,244.2 226.8,244.3 227.2,244.3 227.6,244.3 227.9,244.3 228.3,244.3 228.7,244.3 229.1,244.3 229.5,244.4 229.9,244.4 230.3,244.4 230.7,244.4 231.1,244.4 231.5,244.5 231.9,244.5 232.3,244.5 232.7,244.5 233.0,244.5 233.4,244.6 233.8,244.6 234.2,244.6 234.6,244.6 235.0,244.7 235.4,244.7 235.8,244.7 236.2,244.7 236.6,244.7 237.0,244.8 237.4,244.8 237.8,244.8 238.2,244.8" fill="none" stroke="#40dce4" stroke-width="2.4" stroke-linejoin="round" stroke-linecap="butt" />
<polyline points="65.1,252.1 65.5,252.0 65.8,251.8 66.2,251.6 66.6,251.2 67.0,250.6 67.4,249.7 67.8,248.7 68.2,247.5 68.6,246.1 69.0,244.6 69.4,242.9 69.8,241.2 70.2,239.3 70.6,236.4 70.9,232.7 71.3,229.4 71.7,227.1 72.1,225.5 72.5,224.2 72.9,223.0 73.3,221.8 73.7,220.3 74.1,218.0 74.5,215.5 74.9,215.2 75.3,215.2 75.7,215.2 76.0,215.2 76.4,215.2 76.8,215.2 77.2,215.2 77.6,215.2 78.0,215.2 78.4,215.2 78.8,215.1 79.2,214.8 79.6,214.3 80.0,213.7 80.4,212.9 80.8,212.0 81.2,211.1 81.5,210.2 81.9,209.4 82.3,208.6 82.7,207.9 83.1,207.3 83.5,206.8 83.9,206.3 84.3,205.9 84.7,205.4 85.1,205.0 85.5,204.5 85.9,204.1 86.3,203.7 86.6,203.3 87.0,203.0 87.4,202.6 87.8,202.3 88.2,202.0 88.6,201.7 89.0,201.4 89.4,201.1 89.8,200.9 90.2,200.6 90.6,200.4 91.0,200.2 91.4,199.9 91.7,199.7 92.1,199.5 92.5,199.2 92.9,199.0 93.3,198.8 93.7,198.6 94.1,198.4 94.5,198.2 94.9,198.1 95.3,197.9 95.7,197.7 96.1,197.6 96.5,197.4 96.8,197.3 97.2,197.2 97.6,197.1 98.0,197.0 98.4,196.9 98.8,196.9 99.2,196.8 99.6,196.7 100.0,196.7 100.4,196.6 100.8,196.6 101.2,196.5 101.6,196.5 102.0,196.4 102.3,196.4 102.7,196.4 103.1,196.3 103.5,196.3 103.9,196.2 104.3,196.2 104.7,196.2 105.1,196.1 105.5,196.1 105.9,196.1 106.3,196.1 106.7,196.0 107.1,196.0 107.4,196.0 107.8,195.9 108.2,195.9 108.6,195.9 109.0,195.8 109.4,195.8 109.8,195.8 110.2,195.7 110.6,195.7 111.0,195.7 111.4,195.6 111.8,195.6 112.2,195.6 112.6,195.6 112.9,195.5 113.3,195.5 113.7,195.5 114.1,195.5 114.5,195.4 114.9,195.4 115.3,195.4 115.7,195.4 116.1,195.3 116.5,195.3 116.9,195.3 117.3,195.2 117.7,195.2 118.0,195.2 118.4,195.2 118.8,195.1 119.2,195.1 119.6,195.1 120.0,195.0 120.4,195.0 120.8,194.9 121.2,194.9 121.6,194.8 122.0,194.8 122.4,194.7 122.8,194.7 123.1,194.7 123.5,194.7 123.9,194.7 124.3,194.7 124.7,194.7 125.1,194.7 125.5,194.7 125.9,194.7 126.3,194.7 126.7,194.7 127.1,194.7 127.5,194.7 127.9,194.7 128.2,194.7 128.6,194.7 129.0,194.7 129.4,194.7 129.8,194.7 130.2,194.7 130.6,194.7 131.0,194.7 131.4,194.7 131.8,194.7 132.2,194.7 132.6,194.7 133.0,194.7 133.4,194.7 133.7,194.7 134.1,194.7 134.5,194.7 134.9,194.8 135.3,194.8 135.7,194.8 136.1,194.8 136.5,194.8 136.9,194.8 137.3,194.8 137.7,194.8 138.1,194.8 138.5,194.8 138.8,194.8 139.2,194.8 139.6,194.8 140.0,194.8 140.4,194.8 140.8,194.8 141.2,194.8 141.6,194.8 142.0,194.8 142.4,194.8 142.8,194.8 143.2,194.9 143.6,194.9 143.9,194.9 144.3,194.9 144.7,194.9 145.1,194.9 145.5,194.9 145.9,194.9 146.3,194.9 146.7,194.9 147.1,194.9 147.5,195.0 147.9,195.0 148.3,195.0 148.7,195.0 149.1,195.0 149.4,195.0 149.8,195.0 150.2,195.0 150.6,195.0 151.0,195.1 151.4,195.1 151.8,195.1 152.2,195.1 152.6,195.1 153.0,195.1 153.4,195.1 153.8,195.1 154.2,195.2 154.5,195.2 154.9,195.2 155.3,195.2 155.7,195.2 156.1,195.2 156.5,195.3 156.9,195.3 157.3,195.3 157.7,195.3 158.1,195.3 158.5,195.3 158.9,195.4 159.3,195.5 159.7,195.7 160.0,196.0 160.4,196.3 160.8,196.7 161.2,197.0 161.6,197.4 162.0,197.9 162.4,198.6 162.8,199.4 163.2,200.3 163.6,201.4 164.0,202.5 164.4,203.7 164.8,205.0 165.1,206.7 165.5,208.8 165.9,211.0 166.3,213.1 166.7,214.9 167.1,216.2 167.5,217.3 167.9,217.5 168.3,217.3 168.7,216.8 169.1,216.3 169.5,215.6 169.9,215.0 170.2,214.5 170.6,214.1 171.0,214.0 171.4,214.1 171.8,214.2 172.2,214.5 172.6,214.9 173.0,215.4 173.4,215.9 173.8,216.6 174.2,217.2 174.6,217.9 175.0,218.6 175.4,219.3 175.7,220.1 176.1,220.8 176.5,221.5 176.9,222.1 177.3,222.7 177.7,223.3 178.1,223.8 178.5,224.2 178.9,224.5 179.3,224.8 179.7,225.1 180.1,225.4 180.5,225.7 180.8,225.9 181.2,226.2 181.6,226.4 182.0,226.7 182.4,226.9 182.8,227.1 183.2,227.4 183.6,227.6 184.0,227.9 184.4,228.2 184.8,228.5 185.2,228.8 185.6,229.1 185.9,229.3 186.3,229.6 186.7,229.9 187.1,230.2 187.5,230.5 187.9,230.8 188.3,231.1 188.7,231.4 189.1,231.7 189.5,231.9 189.9,232.2 190.3,232.4 190.7,232.7 191.1,232.9 191.4,233.1 191.8,233.3 192.2,233.6 192.6,233.8 193.0,234.0 193.4,234.2 193.8,234.4 194.2,234.6 194.6,234.8 195.0,235.0 195.4,235.2 195.8,235.4 196.2,235.6 196.5,235.8 196.9,236.0 197.3,236.1 197.7,236.3 198.1,236.5 198.5,236.6 198.9,236.8 199.3,236.9 199.7,237.1 200.1,237.2 200.5,237.3 200.9,237.4 201.3,237.6 201.6,237.7 202.0,237.8 202.4,237.9 202.8,238.0 203.2,238.2 203.6,238.3 204.0,238.4 204.4,238.5 204.8,238.6 205.2,238.7 205.6,238.8 206.0,238.9 206.4,239.0 206.8,239.1 207.1,239.2 207.5,239.3 207.9,239.4 208.3,239.4 208.7,239.5 209.1,239.6 209.5,239.7 209.9,239.8 210.3,239.9 210.7,239.9 211.1,240.0 211.5,240.1 211.9,240.2 212.2,240.3 212.6,240.3 213.0,240.4 213.4,240.5 213.8,240.6 214.2,240.6 214.6,240.7 215.0,240.8 215.4,240.8 215.8,240.9 216.2,241.0 216.6,241.0 217.0,241.1 217.3,241.2 217.7,241.2 218.1,241.3 218.5,241.4 218.9,241.4 219.3,241.5 219.7,241.5 220.1,241.6 220.5,241.7 220.9,241.7 221.3,241.8 221.7,241.8 222.1,241.9 222.5,241.9 222.8,242.0 223.2,242.1 223.6,242.1 224.0,242.2 224.4,242.2 224.8,242.3 225.2,242.4 225.6,242.4 226.0,242.5 226.4,242.5 226.8,242.6 227.2,242.7 227.6,242.7 227.9,242.8 228.3,242.9 228.7,242.9 229.1,243.0 229.5,243.1 229.9,243.1 230.3,243.2 230.7,243.3 231.1,243.3 231.5,243.4 231.9,243.5 232.3,243.5 232.7,243.6 233.0,243.7 233.4,243.7 233.8,243.8 234.2,243.9 234.6,243.9 235.0,244.0 235.4,244.1 235.8,244.1 236.2,244.2 236.6,244.3 237.0,244.4 237.4,244.4 237.8,244.5 238.2,244.6" fill="none" stroke="#0a0ab8" stroke-width="2.4" stroke-linejoin="round" stroke-linecap="butt" />
</g><g clip-path="url(#clipD)">
<polyline points="303.3,252.0 303.7,252.0 304.1,252.0 304.5,252.0 304.9,252.0 305.3,252.0 305.7,252.0 306.0,252.0 306.4,252.0 306.8,252.0 307.2,252.0 307.6,252.0 308.0,252.0 308.4,252.0 308.8,252.0 309.2,252.0 309.6,251.9 310.0,251.9 310.4,251.9 310.8,251.9 311.2,251.9 311.5,251.9 311.9,251.9 312.3,251.8 312.7,251.8 313.1,251.8 313.5,251.8 313.9,251.8 314.3,251.2 314.7,250.0 315.1,248.3 315.5,246.5 315.9,244.9 316.3,243.9 316.6,243.7 317.0,243.8 317.4,244.0 317.8,244.2 318.2,244.5 318.6,244.7 319.0,245.0 319.4,245.3 319.8,245.7 320.2,246.2 320.6,246.7 321.0,247.3 321.4,247.8 321.7,248.3 322.1,248.8 322.5,249.2 322.9,249.5 323.3,249.7 323.7,249.9 324.1,250.1 324.5,250.3 324.9,250.5 325.3,250.6 325.7,250.7 326.1,250.7" fill="none" stroke="#555566" stroke-width="1.2" stroke-linejoin="round" stroke-linecap="butt" stroke-dasharray="1.5 0.8"/>
<polyline points="303.3,248.2 303.7,248.2 304.1,248.2 304.5,248.2 304.9,248.2 305.3,248.2 305.7,248.2 306.0,248.2 306.4,248.2 306.8,248.1 307.2,248.1 307.6,248.1 308.0,248.1 308.4,248.1 308.8,248.1 309.2,248.1 309.6,248.0 310.0,248.0 310.4,248.0 310.8,248.0 311.2,247.9 311.5,247.9 311.9,247.7 312.3,247.6 312.7,247.3 313.1,247.1 313.5,246.8 313.9,246.2 314.3,245.2 314.7,244.0 315.1,242.7 315.5,241.4 315.9,240.4 316.3,239.8 316.6,239.7 317.0,239.9 317.4,240.4 317.8,241.1 318.2,241.8 318.6,242.5 319.0,243.1 319.4,243.6 319.8,244.2 320.2,244.8 320.6,245.3 321.0,245.9 321.4,246.4 321.7,246.9 322.1,247.4 322.5,247.8 322.9,248.2 323.3,248.5 323.7,248.8 324.1,249.2 324.5,249.5 324.9,249.7 325.3,249.9 325.7,250.1 326.1,250.1 326.5,250.1 326.9,249.9 327.2,249.7 327.6,249.5" fill="none" stroke="#5a40c8" stroke-width="1.9" stroke-linejoin="round" stroke-linecap="butt" />
<polyline points="325.3,250.1 325.7,249.9 326.1,249.6 326.5,249.2 326.9,248.7 327.2,248.2 327.6,247.6 328.0,247.0 328.4,246.4 328.8,245.7 329.2,245.0 329.6,244.2 330.0,243.3 330.4,242.2 330.8,241.0 331.2,239.8 331.6,238.5 332.0,237.2 332.3,235.9 332.7,234.7 333.1,233.5 333.5,232.3 333.9,230.9 334.3,229.4 334.7,227.9 335.1,226.6 335.5,225.6 335.9,224.9 336.3,224.6 336.7,224.8 337.1,225.5 337.4,226.3 337.8,227.3 338.2,228.3 338.6,229.1 339.0,229.8 339.4,230.6 339.8,231.1 340.2,231.2 340.6,231.2 341.0,231.2" fill="none" stroke="#92b060" stroke-width="2.4" stroke-linejoin="round" stroke-linecap="butt" />
<polyline points="325.3,250.1 325.7,249.9 326.1,249.6 326.5,249.2 326.9,248.7 327.2,248.2 327.6,247.6 328.0,247.0 328.4,246.4 328.8,245.7 329.2,245.0 329.6,244.2 330.0,243.3 330.4,242.2 330.8,241.0 331.2,239.8 331.6,238.5 332.0,237.2 332.3,235.9 332.7,234.7 333.1,233.5 333.5,232.3 333.9,230.9 334.3,229.4 334.7,227.9 335.1,226.6 335.5,225.6 335.9,224.9 336.3,224.6 336.7,225.0 337.1,226.0 337.4,227.3 337.8,228.7 338.2,230.0 338.6,231.0 339.0,231.7 339.4,232.3 339.8,232.7 340.2,232.8 340.6,232.7 341.0,232.7" fill="none" stroke="#b4443c" stroke-width="2.5" stroke-linejoin="round" stroke-linecap="butt" />
<polyline points="325.3,250.1 325.7,250.0 326.1,249.8 326.5,249.5 326.9,249.1 327.2,248.5 327.6,247.9 328.0,247.3 328.4,246.5 328.8,245.8 329.2,245.0 329.6,244.0 330.0,242.7 330.4,241.1 330.8,239.3 331.2,237.3 331.6,235.2 332.0,233.1 332.3,231.0 332.7,229.0 333.1,227.2 333.5,225.2 333.9,222.9 334.3,220.5 334.7,218.2 335.1,216.2 335.5,214.6 335.9,213.5 336.3,213.3 336.7,214.3 337.1,216.4 337.4,219.0 337.8,221.5 338.2,223.3 338.6,224.7 339.0,226.1 339.4,227.2 339.8,227.9 340.2,228.0 340.6,228.0 341.0,228.0" fill="none" stroke="#000" stroke-width="2.1" stroke-linejoin="round" stroke-linecap="butt" />
<polyline points="325.3,250.1 325.7,249.9 326.1,249.6 326.5,249.3 326.9,248.8 327.2,248.3 327.6,247.7 328.0,247.1 328.4,246.4 328.8,245.7 329.2,245.0 329.6,244.2 330.0,243.1 330.4,242.0 330.8,240.7 331.2,239.3 331.6,237.9 332.0,236.4 332.3,235.0 332.7,233.6 333.1,232.2 333.5,230.8 333.9,229.2 334.3,227.5 334.7,225.9 335.1,224.4 335.5,223.2 335.9,222.3 336.3,222.1 336.7,222.7 337.1,224.5 337.4,227.0 337.8,229.6 338.2,231.9 338.6,233.5 339.0,234.7 339.4,235.7 339.8,236.3 340.2,236.5 340.6,236.4 341.0,236.4" fill="none" stroke="#7a2ec4" stroke-width="2.5" stroke-linejoin="round" stroke-linecap="butt" />
<polyline points="325.3,250.1 325.7,250.0 326.1,249.8 326.5,249.6 326.9,249.3 327.2,249.1 327.6,248.8 328.0,248.5 328.4,248.2 328.8,247.9 329.2,247.5 329.6,247.2 330.0,246.8 330.4,246.4 330.8,245.9 331.2,245.5 331.6,244.9 332.0,244.4 332.3,243.8 332.7,243.1 333.1,242.4 333.5,241.6 333.9,240.4 334.3,238.9 334.7,237.4 335.1,235.7 335.5,234.1 335.9,232.5 336.3,231.1 336.7,229.9 337.1,229.0 337.4,228.5 337.8,228.6 338.2,230.6 338.6,233.8 339.0,237.2 339.4,239.9 339.8,241.9 340.2,244.0 340.6,245.8 341.0,247.2" fill="none" stroke="#bcbcbc" stroke-width="2.5" stroke-linejoin="round" stroke-linecap="butt" />
<polyline points="340.6,245.7 341.0,247.4 341.4,248.1 341.8,248.1 342.2,248.2 342.6,247.9 342.9,248.0 343.3,247.6 343.7,247.9 344.1,247.7 344.5,248.0 344.9,247.8 345.3,248.1 345.7,248.2 346.1,247.7 346.5,247.8 346.9,247.8 347.3,248.2 347.7,248.5 348.0,248.3 348.4,247.9 348.8,248.4 349.2,247.7 349.6,248.4 350.0,247.9 350.4,247.3 350.8,248.7 351.2,248.4 351.6,247.8 352.0,248.1 352.4,248.0 352.8,248.0 353.1,247.6 353.5,247.8 353.9,248.1 354.3,248.0 354.7,248.3 355.1,248.0 355.5,248.6 355.9,247.8 356.3,248.0 356.7,247.5 357.1,247.7 357.5,248.3 357.9,247.7 358.2,248.1 358.6,247.9 359.0,247.7 359.4,247.9 359.8,247.8 360.2,247.8 360.6,248.1 361.0,248.1 361.4,247.8 361.8,247.7 362.2,248.0 362.6,247.9 363.0,248.2 363.4,248.6 363.7,248.1 364.1,247.9 364.5,247.9 364.9,247.7 365.3,247.7 365.7,247.7 366.1,247.8 366.5,247.8 366.9,248.1 367.3,247.8 367.7,247.9 368.1,247.6 368.5,248.3 368.8,248.1 369.2,248.4 369.6,248.1 370.0,248.3 370.4,247.9 370.8,248.1 371.2,248.6 371.6,247.6 372.0,248.2 372.4,248.4 372.8,248.0 373.2,248.1 373.6,248.3 374.0,247.8 374.3,248.0 374.7,247.7 375.1,247.8 375.5,247.8 375.9,247.9 376.3,248.0 376.7,248.0 377.1,247.6 377.5,248.4 377.9,248.2 378.3,248.1 378.7,247.8 379.1,247.9 379.4,248.1 379.8,248.0 380.2,247.5 380.6,248.1 381.0,248.7 381.4,247.5 381.8,248.2 382.2,248.0 382.6,247.9 383.0,248.3 383.4,247.6 383.8,248.0 384.2,248.3 384.5,247.9 384.9,247.8 385.3,248.0 385.7,247.8 386.1,248.3 386.5,247.7 386.9,248.2 387.3,247.6 387.7,248.1 388.1,247.9 388.5,247.3 388.9,247.9 389.3,247.7 389.7,247.8 390.0,248.3 390.4,247.6 390.8,247.7 391.2,248.3 391.6,248.0 392.0,248.3 392.4,248.0 392.8,247.7 393.2,247.9 393.6,248.2 394.0,248.2 394.4,247.9 394.8,247.9 395.1,247.9 395.5,247.8 395.9,248.4 396.3,247.9 396.7,247.6 397.1,247.8 397.5,248.1 397.9,248.1 398.3,247.9 398.7,247.8 399.1,247.9 399.5,247.5 399.9,247.6 400.2,248.1 400.6,247.8 401.0,248.0 401.4,248.2 401.8,248.1 402.2,247.9 402.6,248.5 403.0,248.1 403.4,247.8 403.8,248.1 404.2,248.0 404.6,247.7 405.0,248.0 405.4,247.9 405.7,247.4 406.1,247.9 406.5,247.9 406.9,247.8 407.3,247.5 407.7,247.9 408.1,247.9 408.5,248.0 408.9,247.7 409.3,248.1 409.7,247.6 410.1,247.9 410.5,248.3 410.8,247.8 411.2,247.8 411.6,248.2 412.0,247.9 412.4,247.9 412.8,248.0 413.2,248.2 413.6,247.4 414.0,247.8 414.4,247.7 414.8,247.7 415.2,247.8 415.6,247.8 415.9,248.1 416.3,247.8 416.7,248.0 417.1,248.1 417.5,247.8 417.9,248.0 418.3,248.4 418.7,248.1 419.1,247.8 419.5,248.0 419.9,247.8 420.3,248.1 420.7,248.2 421.1,247.8 421.4,248.0 421.8,248.3 422.2,247.9 422.6,248.1 423.0,247.8 423.4,247.9 423.8,248.0 424.2,248.9 424.6,248.5 425.0,248.9 425.4,249.4 425.8,250.0 426.2,250.9 426.5,251.4 426.9,253.2 427.3,255.1 427.7,258.5 428.1,261.5 428.5,264.8 428.9,267.1 429.3,269.4 429.7,270.1 430.1,269.3 430.5,266.8 430.9,264.8 431.3,261.2 431.6,257.8 432.0,254.8 432.4,252.5 432.8,251.5 433.2,250.6 433.6,250.2 434.0,250.1 434.4,249.8 434.8,249.4 435.2,249.1 435.6,248.9 436.0,249.1 436.4,249.4 436.8,248.8 437.1,249.5 437.5,249.3 437.9,249.0 438.3,249.3 438.7,248.7 439.1,248.7 439.5,248.8 439.9,249.0 440.3,249.0 440.7,249.0 441.1,249.1 441.5,248.6 441.9,249.2 442.2,248.8 442.6,248.9 443.0,249.0 443.4,248.8 443.8,248.8 444.2,248.9 444.6,249.1 445.0,249.3 445.4,249.3 445.8,248.9 446.2,249.0 446.6,248.9 447.0,249.3 447.3,248.7 447.7,249.5 448.1,249.1 448.5,249.0 448.9,249.3 449.3,249.5 449.7,249.3 450.1,249.5 450.5,249.2 450.9,249.5 451.3,249.5 451.7,249.2 452.1,249.6 452.5,249.3 452.8,249.3 453.2,249.0 453.6,249.2 454.0,249.5 454.4,248.9 454.8,249.4 455.2,249.4 455.6,249.3 456.0,248.7 456.4,249.3 456.8,249.5 457.2,249.1 457.6,249.3 457.9,248.7 458.3,249.5 458.7,249.2 459.1,249.5 459.5,248.9 459.9,249.5 460.3,249.3 460.7,249.5 461.1,249.1 461.5,249.2 461.9,249.9 462.3,249.1 462.7,249.2 463.0,249.3 463.4,249.1 463.8,249.7 464.2,249.8 464.6,249.2 465.0,249.0 465.4,249.7 465.8,249.7 466.2,249.6 466.6,249.7 467.0,249.2 467.4,249.4 467.8,249.1 468.1,249.1 468.5,249.7 468.9,249.3 469.3,250.0 469.7,249.4 470.1,249.3 470.5,249.6 470.9,249.9 471.3,249.6 471.7,249.1 472.1,249.5 472.5,249.8 472.9,249.3 473.3,249.3 473.6,249.7 474.0,249.5 474.4,249.2 474.8,249.4 475.2,249.3 475.6,249.6 476.0,249.5 476.4,249.8 476.8,249.7 477.2,249.1 477.6,249.6 478.0,249.7 478.4,249.6 478.7,249.8 479.1,249.4 479.5,249.3 479.9,249.8 480.3,249.3 480.7,249.0 481.1,249.8 481.5,249.4 481.9,249.5 482.3,249.2 482.7,249.2 483.1,249.3 483.5,249.5 483.9,249.7 484.2,249.0 484.6,249.8 485.0,249.3 485.4,249.3 485.8,249.8 486.2,249.6 486.6,249.2 487.0,250.1 487.4,249.4 487.8,249.7 488.2,249.7 488.6,250.0 489.0,249.5 489.3,249.9 489.7,249.4 490.1,249.9 490.5,249.4 490.9,249.5 491.3,250.1 491.7,249.7 492.1,249.7 492.5,250.2 492.9,249.7 493.3,249.5 493.7,249.8 494.1,249.4 494.4,250.0 494.8,250.0 495.2,249.5 495.6,249.5 496.0,249.7 496.4,249.7 496.8,249.4 497.2,249.8 497.6,249.2 498.0,249.6 498.4,249.6 498.8,249.6 499.2,249.8 499.6,249.4" fill="none" stroke="#bcbcbc" stroke-width="2.5" stroke-linejoin="round" stroke-linecap="butt" />
<polyline points="340.6,232.9 341.0,232.7 341.4,232.5 341.8,232.3 342.2,232.3 342.6,232.6 342.9,232.2 343.3,232.4 343.7,232.5 344.1,232.4 344.5,232.4 344.9,231.9 345.3,231.5 345.7,231.9 346.1,231.6 346.5,231.7 346.9,231.3 347.3,231.4 347.7,231.2 348.0,231.0 348.4,230.8 348.8,230.6 349.2,230.4 349.6,230.2 350.0,230.3 350.4,229.7 350.8,230.2 351.2,229.5 351.6,229.7 352.0,229.2 352.4,229.1 352.8,229.5 353.1,228.8 353.5,228.4 353.9,228.4 354.3,228.4 354.7,228.9 355.1,228.3 355.5,228.4 355.9,227.8 356.3,228.0 356.7,228.0 357.1,228.2 357.5,227.5 357.9,227.7 358.2,227.6 358.6,227.2 359.0,227.3 359.4,227.2 359.8,226.6 360.2,227.2 360.6,227.1 361.0,226.8 361.4,226.5 361.8,227.1 362.2,226.7 362.6,226.8 363.0,226.8 363.4,226.3 363.7,226.5 364.1,226.2 364.5,226.1 364.9,226.1 365.3,226.0 365.7,226.2 366.1,225.9 366.5,225.7 366.9,225.6 367.3,225.7 367.7,225.3 368.1,225.3 368.5,225.4 368.8,225.2 369.2,225.2 369.6,225.0 370.0,225.6 370.4,225.4 370.8,225.1 371.2,224.9 371.6,225.4 372.0,224.9 372.4,224.7 372.8,224.7 373.2,224.7 373.6,224.9 374.0,224.5 374.3,224.9 374.7,224.1 375.1,224.4 375.5,224.0 375.9,224.6 376.3,224.0 376.7,224.0 377.1,224.2 377.5,224.2 377.9,223.6 378.3,223.7 378.7,223.4 379.1,223.7 379.4,223.6 379.8,223.5 380.2,223.3 380.6,223.4 381.0,223.2 381.4,223.5 381.8,223.7 382.2,222.7 382.6,223.1 383.0,223.0 383.4,223.2 383.8,222.8 384.2,222.9 384.5,222.6 384.9,223.0 385.3,222.8 385.7,222.7 386.1,222.8 386.5,222.6 386.9,222.2 387.3,222.7 387.7,222.6 388.1,222.4 388.5,222.6 388.9,222.6 389.3,222.0 389.7,222.0 390.0,222.5 390.4,222.4 390.8,221.8 391.2,221.7 391.6,221.8 392.0,221.7 392.4,221.4 392.8,221.7 393.2,221.3 393.6,221.3 394.0,221.8 394.4,221.3 394.8,221.4 395.1,221.5 395.5,221.5 395.9,221.2 396.3,221.2 396.7,220.9 397.1,221.5 397.5,221.2 397.9,220.7 398.3,220.9 398.7,221.0 399.1,220.9 399.5,221.2 399.9,221.0 400.2,220.4 400.6,220.5 401.0,220.1 401.4,220.5 401.8,220.4 402.2,221.0 402.6,220.3 403.0,219.7 403.4,220.0 403.8,220.1 404.2,219.7 404.6,219.8 405.0,219.8 405.4,220.0 405.7,219.8 406.1,219.5 406.5,219.9 406.9,219.5 407.3,219.5 407.7,219.2 408.1,219.3 408.5,219.7 408.9,219.0 409.3,219.4 409.7,219.6 410.1,219.2 410.5,219.4 410.8,219.0 411.2,219.6 411.6,219.5 412.0,219.2 412.4,218.7 412.8,218.8 413.2,219.3 413.6,219.5 414.0,219.1 414.4,219.3 414.8,218.8 415.2,218.9 415.6,218.9 415.9,219.0 416.3,218.5 416.7,219.1 417.1,219.2 417.5,218.6 417.9,218.5 418.3,219.0 418.7,218.7 419.1,218.3 419.5,219.2 419.9,219.6 420.3,220.2 420.7,221.8 421.1,222.4 421.4,223.9 421.8,225.9 422.2,227.1 422.6,228.0 423.0,228.9 423.4,229.3 423.8,229.8 424.2,230.8 424.6,231.0 425.0,231.5 425.4,231.8 425.8,232.3 426.2,233.0 426.5,233.2 426.9,234.4 427.3,234.5 427.7,235.5 428.1,236.0 428.5,237.0 428.9,237.9 429.3,238.6 429.7,238.4 430.1,238.6 430.5,238.4 430.9,237.9 431.3,237.2 431.6,236.8 432.0,235.6 432.4,235.2 432.8,234.4 433.2,233.5 433.6,232.8 434.0,232.2 434.4,232.8 434.8,231.9 435.2,232.6 435.6,232.4 436.0,232.2 436.4,232.0 436.8,232.5 437.1,232.7 437.5,232.0 437.9,232.2 438.3,232.5 438.7,232.3 439.1,232.7 439.5,232.1 439.9,232.4 440.3,231.9 440.7,232.8 441.1,232.1 441.5,231.7 441.9,232.2 442.2,232.2 442.6,232.7 443.0,232.2 443.4,232.2 443.8,232.4 444.2,232.6 444.6,232.2 445.0,232.5 445.4,232.4 445.8,232.2 446.2,232.3 446.6,232.3 447.0,232.0 447.3,232.6 447.7,231.9 448.1,232.5 448.5,232.5 448.9,232.2 449.3,232.1 449.7,232.2 450.1,232.4 450.5,232.4 450.9,232.3 451.3,232.5 451.7,232.1 452.1,232.3 452.5,231.9 452.8,232.5 453.2,232.3 453.6,232.2 454.0,232.6 454.4,232.4 454.8,231.6 455.2,232.3 455.6,231.9 456.0,232.6 456.4,232.9 456.8,232.2 457.2,232.3 457.6,232.3 457.9,232.4 458.3,232.5 458.7,232.7 459.1,232.1 459.5,232.8 459.9,232.2 460.3,232.5 460.7,232.7 461.1,232.6 461.5,232.2 461.9,232.3 462.3,232.3 462.7,232.5 463.0,232.8 463.4,232.2 463.8,232.6 464.2,232.7 464.6,232.7 465.0,232.7 465.4,232.9 465.8,232.7 466.2,232.8 466.6,232.8 467.0,233.1 467.4,232.2 467.8,233.0 468.1,232.6 468.5,232.6 468.9,232.5 469.3,232.3 469.7,232.7 470.1,232.6 470.5,232.9 470.9,232.4 471.3,233.2 471.7,232.9 472.1,232.8 472.5,232.7 472.9,232.7 473.3,232.7 473.6,232.8 474.0,233.0 474.4,233.0 474.8,232.7 475.2,233.0 475.6,232.9 476.0,233.1 476.4,233.6 476.8,233.3 477.2,233.1 477.6,232.8 478.0,232.9 478.4,232.8 478.7,233.5 479.1,233.1 479.5,233.4 479.9,233.2 480.3,233.4 480.7,233.8 481.1,233.3 481.5,233.4 481.9,233.3 482.3,233.8 482.7,233.3 483.1,233.3 483.5,233.3 483.9,233.3 484.2,233.8 484.6,234.4 485.0,233.5 485.4,234.0 485.8,233.9 486.2,233.6 486.6,233.8 487.0,233.8 487.4,233.8 487.8,234.5 488.2,233.5 488.6,234.1 489.0,234.2 489.3,234.0 489.7,234.2 490.1,234.4 490.5,234.2 490.9,234.3 491.3,234.4 491.7,233.8 492.1,234.7 492.5,235.0 492.9,234.7 493.3,234.7 493.7,234.1 494.1,234.5 494.4,234.4 494.8,234.5 495.2,234.9 495.6,234.5 496.0,234.7 496.4,234.3 496.8,234.7 497.2,234.8 497.6,234.7 498.0,234.7 498.4,235.4 498.8,234.7 499.2,234.8 499.6,234.9" fill="none" stroke="#b4443c" stroke-width="2.5" stroke-linejoin="round" stroke-linecap="butt" />
<polyline points="340.6,236.7 341.0,237.0 341.4,236.5 341.8,236.2 342.2,236.2 342.6,236.5 342.9,236.0 343.3,236.5 343.7,236.4 344.1,236.0 344.5,236.0 344.9,236.0 345.3,236.1 345.7,235.3 346.1,235.8 346.5,235.3 346.9,235.0 347.3,235.1 347.7,234.9 348.0,234.6 348.4,234.3 348.8,234.4 349.2,234.8 349.6,234.8 350.0,234.4 350.4,234.4 350.8,233.9 351.2,233.8 351.6,233.8 352.0,233.3 352.4,233.3 352.8,233.4 353.1,233.2 353.5,232.9 353.9,233.2 354.3,232.9 354.7,233.2 355.1,232.8 355.5,232.7 355.9,232.7 356.3,232.6 356.7,232.4 357.1,232.4 357.5,232.6 357.9,232.5 358.2,232.6 358.6,231.8 359.0,232.0 359.4,232.0 359.8,232.0 360.2,231.8 360.6,231.7 361.0,232.0 361.4,231.8 361.8,231.4 362.2,232.0 362.6,231.8 363.0,231.4 363.4,231.7 363.7,231.2 364.1,231.6 364.5,231.2 364.9,231.0 365.3,231.1 365.7,230.9 366.1,231.1 366.5,231.1 366.9,231.0 367.3,230.8 367.7,229.9 368.1,230.8 368.5,230.3 368.8,230.8 369.2,230.9 369.6,230.7 370.0,230.5 370.4,230.5 370.8,230.4 371.2,230.3 371.6,230.2 372.0,230.1 372.4,230.6 372.8,230.2 373.2,230.4 373.6,230.1 374.0,230.1 374.3,230.0 374.7,230.1 375.1,230.2 375.5,230.0 375.9,229.7 376.3,229.7 376.7,230.2 377.1,229.7 377.5,229.7 377.9,230.1 378.3,229.9 378.7,229.7 379.1,229.5 379.4,230.1 379.8,229.6 380.2,229.6 380.6,229.4 381.0,229.0 381.4,229.0 381.8,229.4 382.2,229.4 382.6,229.2 383.0,228.9 383.4,228.8 383.8,229.1 384.2,228.7 384.5,229.3 384.9,229.3 385.3,229.7 385.7,229.2 386.1,228.8 386.5,228.7 386.9,228.0 387.3,228.7 387.7,228.8 388.1,229.0 388.5,228.9 388.9,228.9 389.3,228.7 389.7,228.8 390.0,229.0 390.4,228.3 390.8,228.4 391.2,228.2 391.6,228.9 392.0,228.8 392.4,228.6 392.8,228.1 393.2,228.4 393.6,228.2 394.0,228.3 394.4,228.2 394.8,228.3 395.1,228.1 395.5,228.3 395.9,228.1 396.3,228.0 396.7,228.0 397.1,227.9 397.5,228.1 397.9,227.8 398.3,227.9 398.7,227.7 399.1,227.4 399.5,228.0 399.9,227.5 400.2,227.9 400.6,227.8 401.0,227.2 401.4,227.4 401.8,227.4 402.2,227.3 402.6,227.2 403.0,227.7 403.4,227.4 403.8,227.5 404.2,227.3 404.6,227.4 405.0,227.1 405.4,227.3 405.7,227.4 406.1,227.2 406.5,227.1 406.9,226.9 407.3,227.2 407.7,227.2 408.1,227.0 408.5,226.9 408.9,227.2 409.3,227.6 409.7,226.9 410.1,227.1 410.5,227.1 410.8,226.3 411.2,226.9 411.6,226.7 412.0,227.2 412.4,226.8 412.8,226.6 413.2,226.8 413.6,226.8 414.0,226.6 414.4,226.8 414.8,226.4 415.2,226.7 415.6,226.9 415.9,227.2 416.3,226.9 416.7,226.8 417.1,227.0 417.5,226.9 417.9,227.1 418.3,226.9 418.7,226.6 419.1,226.7 419.5,226.7 419.9,226.7 420.3,226.7 420.7,226.4 421.1,226.4 421.4,228.2 421.8,230.0 422.2,232.8 422.6,234.6 423.0,234.9 423.4,235.3 423.8,235.0 424.2,234.2 424.6,233.9 425.0,233.2 425.4,231.9 425.8,232.0 426.2,231.6 426.5,231.7 426.9,232.4 427.3,232.9 427.7,234.0 428.1,235.1 428.5,236.3 428.9,237.5 429.3,238.1 429.7,238.7 430.1,239.3 430.5,238.9 430.9,238.4 431.3,237.0 431.6,236.3 432.0,235.3 432.4,234.3 432.8,233.0 433.2,232.3 433.6,231.2 434.0,230.5 434.4,230.2 434.8,230.3 435.2,230.0 435.6,230.4 436.0,230.2 436.4,230.1 436.8,230.1 437.1,230.2 437.5,230.3 437.9,230.3 438.3,230.2 438.7,230.3 439.1,230.1 439.5,230.4 439.9,230.1 440.3,229.6 440.7,230.4 441.1,230.1 441.5,229.8 441.9,230.0 442.2,229.9 442.6,230.6 443.0,230.2 443.4,229.7 443.8,230.2 444.2,230.0 444.6,230.6 445.0,229.8 445.4,229.5 445.8,230.1 446.2,230.0 446.6,230.0 447.0,229.5 447.3,230.2 447.7,230.5 448.1,229.6 448.5,230.4 448.9,229.9 449.3,230.7 449.7,230.2 450.1,230.0 450.5,230.4 450.9,230.2 451.3,229.9 451.7,230.3 452.1,230.0 452.5,229.6 452.8,230.6 453.2,230.0 453.6,229.9 454.0,230.2 454.4,229.7 454.8,229.8 455.2,230.0 455.6,230.0 456.0,230.2 456.4,230.4 456.8,230.0 457.2,230.3 457.6,230.3 457.9,229.9 458.3,230.2 458.7,230.0 459.1,230.5 459.5,230.3 459.9,230.2 460.3,229.9 460.7,230.3 461.1,230.1 461.5,230.4 461.9,230.3 462.3,230.1 462.7,230.5 463.0,230.5 463.4,230.2 463.8,230.6 464.2,230.3 464.6,230.3 465.0,230.4 465.4,230.2 465.8,230.3 466.2,230.4 466.6,230.8 467.0,230.9 467.4,230.4 467.8,230.9 468.1,230.5 468.5,230.6 468.9,230.8 469.3,230.7 469.7,231.2 470.1,230.7 470.5,230.4 470.9,231.0 471.3,230.6 471.7,230.6 472.1,230.0 472.5,231.0 472.9,231.0 473.3,231.0 473.6,231.1 474.0,231.3 474.4,230.9 474.8,231.1 475.2,230.7 475.6,230.9 476.0,231.2 476.4,231.1 476.8,230.7 477.2,231.1 477.6,231.0 478.0,230.9 478.4,231.2 478.7,231.1 479.1,230.8 479.5,230.9 479.9,231.7 480.3,230.9 480.7,231.4 481.1,231.5 481.5,231.5 481.9,231.1 482.3,231.3 482.7,231.5 483.1,231.7 483.5,231.4 483.9,231.3 484.2,231.8 484.6,231.9 485.0,231.7 485.4,231.5 485.8,231.8 486.2,231.8 486.6,232.0 487.0,231.5 487.4,231.9 487.8,231.8 488.2,231.6 488.6,232.0 489.0,232.0 489.3,231.9 489.7,232.2 490.1,231.7 490.5,232.1 490.9,232.3 491.3,232.3 491.7,232.5 492.1,232.0 492.5,231.9 492.9,232.4 493.3,232.5 493.7,233.0 494.1,232.6 494.4,232.3 494.8,232.7 495.2,232.4 495.6,232.2 496.0,233.3 496.4,232.8 496.8,232.9 497.2,232.9 497.6,233.3 498.0,232.9 498.4,233.2 498.8,232.7 499.2,232.6 499.6,233.4" fill="none" stroke="#7a2ec4" stroke-width="2.5" stroke-linejoin="round" stroke-linecap="butt" />
<polyline points="340.6,228.0 341.0,228.0 341.4,227.9 341.8,227.8 342.2,227.7 342.6,227.5 342.9,227.4 343.3,227.2 343.7,227.0 344.1,226.7 344.5,226.5 344.9,226.3 345.3,226.0 345.7,225.7 346.1,225.4 346.5,225.1 346.9,224.8 347.3,224.5 347.7,224.2 348.0,223.8 348.4,223.5 348.8,223.2 349.2,222.8 349.6,222.5 350.0,222.1 350.4,221.8 350.8,221.4 351.2,221.1 351.6,220.8 352.0,220.4 352.4,220.1 352.8,219.8 353.1,219.5 353.5,219.2 353.9,218.9 354.3,218.7 354.7,218.4 355.1,218.2 355.5,217.9 355.9,217.7 356.3,217.5 356.7,217.3 357.1,217.0 357.5,216.8 357.9,216.6 358.2,216.4 358.6,216.1 359.0,215.9 359.4,215.7 359.8,215.5 360.2,215.3 360.6,215.1 361.0,214.8 361.4,214.6 361.8,214.4 362.2,214.2 362.6,214.0 363.0,213.8 363.4,213.6 363.7,213.4 364.1,213.2 364.5,213.0 364.9,212.8 365.3,212.6 365.7,212.4 366.1,212.2 366.5,212.0 366.9,211.8 367.3,211.7 367.7,211.5 368.1,211.3 368.5,211.1 368.8,211.0 369.2,210.8 369.6,210.7 370.0,210.5 370.4,210.3 370.8,210.2 371.2,210.0 371.6,209.9 372.0,209.8 372.4,209.6 372.8,209.5 373.2,209.3 373.6,209.2 374.0,209.1 374.3,208.9 374.7,208.8 375.1,208.7 375.5,208.6 375.9,208.4 376.3,208.3 376.7,208.2 377.1,208.1 377.5,207.9 377.9,207.8 378.3,207.7 378.7,207.6 379.1,207.5 379.4,207.4 379.8,207.3 380.2,207.1 380.6,207.0 381.0,206.9 381.4,206.8 381.8,206.7 382.2,206.6 382.6,206.5 383.0,206.4 383.4,206.3 383.8,206.2 384.2,206.1 384.5,206.0 384.9,205.9 385.3,205.8 385.7,205.7 386.1,205.6 386.5,205.5 386.9,205.4 387.3,205.3 387.7,205.3 388.1,205.2 388.5,205.1 388.9,205.0 389.3,204.9 389.7,204.8 390.0,204.7 390.4,204.6 390.8,204.6 391.2,204.5 391.6,204.4 392.0,204.3 392.4,204.2 392.8,204.2 393.2,204.1 393.6,204.0 394.0,203.9 394.4,203.9 394.8,203.8 395.1,203.7 395.5,203.6 395.9,203.6 396.3,203.5 396.7,203.4 397.1,203.3 397.5,203.3 397.9,203.2 398.3,203.1 398.7,203.0 399.1,203.0 399.5,202.9 399.9,202.8 400.2,202.8 400.6,202.7 401.0,202.6 401.4,202.5 401.8,202.5 402.2,202.4 402.6,202.3 403.0,202.2 403.4,202.2 403.8,202.1 404.2,202.0 404.6,201.9 405.0,201.8 405.4,201.7 405.7,201.7 406.1,201.6 406.5,201.5 406.9,201.4 407.3,201.3 407.7,201.2 408.1,201.1 408.5,201.1 408.9,201.0 409.3,200.9 409.7,200.8 410.1,200.7 410.5,200.6 410.8,200.6 411.2,200.5 411.6,200.4 412.0,200.3 412.4,200.3 412.8,200.2 413.2,200.1 413.6,200.1 414.0,200.0 414.4,200.0 414.8,199.9 415.2,199.9 415.6,199.8 415.9,199.8 416.3,199.7 416.7,199.7 417.1,199.7 417.5,199.7 417.9,199.6 418.3,199.6 418.7,199.6 419.1,199.6 419.5,199.6 419.9,199.7 420.3,199.9 420.7,200.2 421.1,200.5 421.4,200.8 421.8,201.2 422.2,201.6 422.6,202.1 423.0,202.5 423.4,203.0 423.8,203.4 424.2,203.9 424.6,204.4 425.0,204.9 425.4,205.4 425.8,206.0 426.2,206.6 426.5,207.3 426.9,208.1 427.3,208.9 427.7,209.7 428.1,210.7 428.5,211.7 428.9,213.5 429.3,215.9 429.7,217.9 430.1,218.5 430.5,217.9 430.9,216.6 431.3,215.0 431.6,213.2 432.0,211.6 432.4,210.2 432.8,209.5 433.2,209.4 433.6,209.4 434.0,209.5 434.4,209.5 434.8,209.5 435.2,209.6 435.6,209.6 436.0,209.7 436.4,209.8 436.8,209.9 437.1,210.0 437.5,210.1 437.9,210.2 438.3,210.3 438.7,210.4 439.1,210.5 439.5,210.6 439.9,210.8 440.3,210.9 440.7,211.0 441.1,211.2 441.5,211.3 441.9,211.4 442.2,211.6 442.6,211.7 443.0,211.9 443.4,212.0 443.8,212.1 444.2,212.3 444.6,212.4 445.0,212.6 445.4,212.7 445.8,212.8 446.2,213.0 446.6,213.1 447.0,213.2 447.3,213.3 447.7,213.5 448.1,213.6 448.5,213.7 448.9,213.8 449.3,213.9 449.7,214.0 450.1,214.0 450.5,214.1 450.9,214.2 451.3,214.3 451.7,214.3 452.1,214.4 452.5,214.5 452.8,214.6 453.2,214.6 453.6,214.7 454.0,214.8 454.4,214.8 454.8,214.9 455.2,215.0 455.6,215.0 456.0,215.1 456.4,215.2 456.8,215.2 457.2,215.3 457.6,215.4 457.9,215.4 458.3,215.5 458.7,215.6 459.1,215.6 459.5,215.7 459.9,215.7 460.3,215.8 460.7,215.9 461.1,215.9 461.5,216.0 461.9,216.0 462.3,216.1 462.7,216.2 463.0,216.2 463.4,216.3 463.8,216.3 464.2,216.4 464.6,216.4 465.0,216.5 465.4,216.5 465.8,216.6 466.2,216.6 466.6,216.7 467.0,216.7 467.4,216.8 467.8,216.8 468.1,216.9 468.5,216.9 468.9,217.0 469.3,217.0 469.7,217.1 470.1,217.1 470.5,217.2 470.9,217.2 471.3,217.3 471.7,217.3 472.1,217.3 472.5,217.4 472.9,217.4 473.3,217.5 473.6,217.5 474.0,217.6 474.4,217.6 474.8,217.7 475.2,217.7 475.6,217.7 476.0,217.8 476.4,217.8 476.8,217.9 477.2,217.9 477.6,217.9 478.0,218.0 478.4,218.0 478.7,218.1 479.1,218.1 479.5,218.2 479.9,218.2 480.3,218.2 480.7,218.3 481.1,218.3 481.5,218.4 481.9,218.4 482.3,218.4 482.7,218.5 483.1,218.5 483.5,218.5 483.9,218.6 484.2,218.6 484.6,218.7 485.0,218.7 485.4,218.7 485.8,218.8 486.2,218.8 486.6,218.8 487.0,218.9 487.4,218.9 487.8,218.9 488.2,219.0 488.6,219.0 489.0,219.0 489.3,219.1 489.7,219.1 490.1,219.1 490.5,219.2 490.9,219.2 491.3,219.2 491.7,219.3 492.1,219.3 492.5,219.3 492.9,219.3 493.3,219.4 493.7,219.4 494.1,219.4 494.4,219.5 494.8,219.5 495.2,219.5 495.6,219.5 496.0,219.6 496.4,219.6 496.8,219.6 497.2,219.6 497.6,219.6 498.0,219.7 498.4,219.7 498.8,219.7 499.2,219.7 499.6,219.8" fill="none" stroke="#000" stroke-width="2.1" stroke-linejoin="round" stroke-linecap="butt" />
<polyline points="340.6,231.6 341.0,231.3 341.4,231.1 341.8,231.0 342.2,230.7 342.6,231.1 342.9,230.7 343.3,230.5 343.7,230.3 344.1,230.2 344.5,229.9 344.9,229.7 345.3,228.9 345.7,229.1 346.1,229.2 346.5,228.3 346.9,228.0 347.3,228.0 347.7,227.7 348.0,227.3 348.4,226.4 348.8,226.6 349.2,225.9 349.6,225.6 350.0,225.6 350.4,225.1 350.8,225.0 351.2,225.3 351.6,224.4 352.0,224.1 352.4,223.3 352.8,223.1 353.1,222.7 353.5,222.6 353.9,222.2 354.3,222.0 354.7,221.9 355.1,221.5 355.5,221.1 355.9,221.0 356.3,221.2 356.7,220.9 357.1,220.9 357.5,220.7 357.9,220.2 358.2,220.3 358.6,219.5 359.0,220.3 359.4,219.8 359.8,219.3 360.2,218.8 360.6,219.0 361.0,218.3 361.4,218.4 361.8,218.6 362.2,218.2 362.6,217.9 363.0,218.1 363.4,217.4 363.7,217.6 364.1,217.2 364.5,216.9 364.9,217.1 365.3,216.6 365.7,217.1 366.1,216.3 366.5,216.8 366.9,215.9 367.3,216.1 367.7,215.5 368.1,215.3 368.5,215.6 368.8,215.5 369.2,214.9 369.6,215.4 370.0,214.7 370.4,214.8 370.8,214.7 371.2,214.7 371.6,213.9 372.0,214.7 372.4,214.3 372.8,213.9 373.2,213.6 373.6,213.3 374.0,213.3 374.3,213.6 374.7,213.3 375.1,212.9 375.5,213.0 375.9,213.4 376.3,212.8 376.7,212.6 377.1,213.0 377.5,212.6 377.9,212.4 378.3,212.1 378.7,211.8 379.1,211.8 379.4,211.8 379.8,211.8 380.2,211.8 380.6,211.8 381.0,211.6 381.4,211.5 381.8,211.1 382.2,210.7 382.6,211.0 383.0,210.8 383.4,210.7 383.8,210.7 384.2,210.4 384.5,210.3 384.9,210.5 385.3,210.4 385.7,210.1 386.1,210.3 386.5,210.1 386.9,209.8 387.3,209.9 387.7,210.3 388.1,209.6 388.5,209.9 388.9,209.9 389.3,209.9 389.7,209.2 390.0,209.8 390.4,209.2 390.8,209.1 391.2,209.0 391.6,209.1 392.0,208.9 392.4,208.7 392.8,209.0 393.2,208.4 393.6,208.3 394.0,208.7 394.4,208.6 394.8,208.6 395.1,208.0 395.5,208.4 395.9,208.2 396.3,208.4 396.7,207.6 397.1,207.9 397.5,207.7 397.9,207.3 398.3,207.4 398.7,207.8 399.1,207.3 399.5,207.2 399.9,207.5 400.2,207.5 400.6,207.4 401.0,206.9 401.4,207.0 401.8,207.2 402.2,206.7 402.6,206.6 403.0,206.9 403.4,207.0 403.8,206.2 404.2,205.8 404.6,206.0 405.0,206.0 405.4,206.1 405.7,206.2 406.1,206.0 406.5,205.7 406.9,205.8 407.3,205.5 407.7,205.6 408.1,205.4 408.5,206.1 408.9,205.6 409.3,205.1 409.7,204.9 410.1,205.0 410.5,204.6 410.8,204.8 411.2,204.7 411.6,205.0 412.0,204.6 412.4,204.4 412.8,204.2 413.2,204.2 413.6,204.4 414.0,204.3 414.4,204.6 414.8,204.1 415.2,204.5 415.6,204.2 415.9,204.1 416.3,203.6 416.7,203.7 417.1,204.2 417.5,204.3 417.9,204.0 418.3,204.1 418.7,203.8 419.1,203.9 419.5,203.8 419.9,204.5 420.3,204.7 420.7,205.0 421.1,205.5 421.4,206.4 421.8,206.9 422.2,207.3 422.6,208.5 423.0,208.6 423.4,209.2 423.8,210.2 424.2,210.7 424.6,211.1 425.0,211.9 425.4,212.2 425.8,213.0 426.2,213.3 426.5,214.8 426.9,214.6 427.3,215.8 427.7,216.1 428.1,216.7 428.5,217.6 428.9,218.4 429.3,219.0 429.7,219.6 430.1,219.3 430.5,219.2 430.9,218.3 431.3,217.9 431.6,216.9 432.0,215.7 432.4,214.8 432.8,213.7 433.2,212.8 433.6,212.1 434.0,211.2 434.4,210.8 434.8,211.1 435.2,210.5 435.6,210.8 436.0,211.4 436.4,210.3 436.8,210.9 437.1,211.3 437.5,210.7 437.9,211.8 438.3,210.6 438.7,211.6 439.1,211.7 439.5,211.6 439.9,211.4 440.3,211.6 440.7,211.4 441.1,211.9 441.5,211.4 441.9,211.7 442.2,212.1 442.6,211.7 443.0,211.9 443.4,212.2 443.8,211.9 444.2,212.6 444.6,212.4 445.0,212.0 445.4,212.5 445.8,212.4 446.2,212.5 446.6,212.7 447.0,212.6 447.3,213.1 447.7,212.8 448.1,213.2 448.5,213.0 448.9,213.3 449.3,213.0 449.7,213.1 450.1,213.0 450.5,213.4 450.9,213.6 451.3,213.9 451.7,213.8 452.1,213.5 452.5,213.5 452.8,213.7 453.2,213.6 453.6,214.0 454.0,213.9 454.4,213.5 454.8,213.6 455.2,214.2 455.6,213.9 456.0,213.8 456.4,214.2 456.8,213.9 457.2,214.0 457.6,214.0 457.9,213.6 458.3,214.4 458.7,213.9 459.1,214.1 459.5,214.1 459.9,214.5 460.3,214.3 460.7,214.4 461.1,214.0 461.5,214.5 461.9,214.1 462.3,214.6 462.7,214.7 463.0,214.6 463.4,215.2 463.8,214.8 464.2,214.9 464.6,214.8 465.0,214.8 465.4,215.1 465.8,215.2 466.2,214.6 466.6,215.3 467.0,215.2 467.4,215.3 467.8,215.2 468.1,214.8 468.5,214.9 468.9,215.7 469.3,215.3 469.7,214.9 470.1,215.4 470.5,215.3 470.9,214.9 471.3,214.9 471.7,215.1 472.1,215.6 472.5,215.5 472.9,215.5 473.3,215.7 473.6,215.8 474.0,215.2 474.4,215.6 474.8,215.5 475.2,215.5 475.6,215.7 476.0,215.8 476.4,215.8 476.8,215.5 477.2,215.8 477.6,216.5 478.0,215.7 478.4,215.6 478.7,216.1 479.1,216.2 479.5,216.2 479.9,215.9 480.3,216.4 480.7,216.0 481.1,216.0 481.5,216.1 481.9,216.3 482.3,216.5 482.7,216.5 483.1,216.4 483.5,216.6 483.9,216.5 484.2,216.7 484.6,216.1 485.0,216.1 485.4,216.7 485.8,216.2 486.2,216.5 486.6,216.6 487.0,216.5 487.4,216.6 487.8,217.0 488.2,216.1 488.6,217.0 489.0,217.3 489.3,216.8 489.7,216.8 490.1,217.0 490.5,217.3 490.9,216.6 491.3,216.9 491.7,216.9 492.1,217.1 492.5,217.0 492.9,217.1 493.3,216.9 493.7,217.0 494.1,216.8 494.4,216.9 494.8,217.0 495.2,217.0 495.6,216.8 496.0,217.5 496.4,217.1 496.8,216.8 497.2,217.4 497.6,217.0 498.0,217.3 498.4,217.2 498.8,217.2 499.2,217.2 499.6,217.1" fill="none" stroke="#92b060" stroke-width="2.4" stroke-linejoin="round" stroke-linecap="butt" />
<polyline points="325.7,250.1 326.1,249.7 326.5,248.8 326.9,246.9 327.2,243.5 327.6,238.9 328.0,233.6 328.4,228.2 328.8,222.9 329.2,218.2 329.6,214.1 330.0,210.1 330.4,206.2 330.8,202.4 331.2,198.5 331.6,194.6 332.0,190.5 332.3,186.3 332.7,181.9 333.1,177.1 333.5,172.1 333.9,167.2 334.3,162.5 334.7,158.2 335.1,154.5 335.5,150.7 335.9,147.9 336.3,148.0 336.7,149.9 337.1,152.1 337.4,153.2 337.8,153.1 338.2,152.8 338.6,152.4 339.0,152.0 339.4,151.5 339.8,150.8 340.2,149.9 340.6,148.9 341.0,147.7 341.4,146.5 341.8,145.2 342.2,143.9 342.6,142.5 342.9,141.2 343.3,140.0 343.7,138.9 344.1,137.9 344.5,137.0 344.9,136.0 345.3,135.1 345.7,134.1 346.1,133.2 346.5,132.3 346.9,131.4 347.3,130.5 347.7,129.6 348.0,128.8 348.4,128.1 348.8,127.4 349.2,126.7 349.6,126.1 350.0,125.6 350.4,125.2 350.8,124.7 351.2,124.3 351.6,124.0 352.0,123.6 352.4,123.2 352.8,122.9 353.1,122.6 353.5,122.2 353.9,121.9 354.3,121.6 354.7,121.3 355.1,121.1 355.5,120.8 355.9,120.5 356.3,120.3 356.7,120.1 357.1,119.9 357.5,119.7 357.9,119.5 358.2,119.3 358.6,119.2 359.0,119.0 359.4,118.9 359.8,118.8 360.2,118.7 360.6,118.6 361.0,118.5 361.4,118.4 361.8,118.3 362.2,118.2 362.6,118.1 363.0,118.0 363.4,117.9 363.7,117.8 364.1,117.8 364.5,117.7 364.9,117.6 365.3,117.6 365.7,117.5 366.1,117.4 366.5,117.4 366.9,117.3 367.3,117.3 367.7,117.2 368.1,117.2 368.5,117.1 368.8,117.1 369.2,117.0 369.6,117.0 370.0,116.9 370.4,116.9 370.8,116.9 371.2,116.8 371.6,116.8 372.0,116.8 372.4,116.7 372.8,116.7 373.2,116.7 373.6,116.6 374.0,116.6 374.3,116.6 374.7,116.5 375.1,116.5 375.5,116.5 375.9,116.5 376.3,116.4 376.7,116.4 377.1,116.4 377.5,116.4 377.9,116.3 378.3,116.3 378.7,116.3 379.1,116.3 379.4,116.3 379.8,116.3 380.2,116.2 380.6,116.2 381.0,116.2 381.4,116.2 381.8,116.2 382.2,116.2 382.6,116.2 383.0,116.2 383.4,116.2 383.8,116.2 384.2,116.2 384.5,116.2 384.9,116.2 385.3,116.2 385.7,116.2 386.1,116.2 386.5,116.2 386.9,116.2 387.3,116.2 387.7,116.2 388.1,116.2 388.5,116.2 388.9,116.2 389.3,116.2 389.7,116.2 390.0,116.2 390.4,116.2 390.8,116.2 391.2,116.2 391.6,116.2 392.0,116.2 392.4,116.2 392.8,116.2 393.2,116.3 393.6,116.3 394.0,116.3 394.4,116.3 394.8,116.3 395.1,116.3 395.5,116.3 395.9,116.3 396.3,116.3 396.7,116.3 397.1,116.3 397.5,116.3 397.9,116.3 398.3,116.3 398.7,116.3 399.1,116.3 399.5,116.3 399.9,116.3 400.2,116.3 400.6,116.3 401.0,116.3 401.4,116.3 401.8,116.3 402.2,116.3 402.6,116.3 403.0,116.4 403.4,116.4 403.8,116.4 404.2,116.4 404.6,116.4 405.0,116.4 405.4,116.4 405.7,116.4 406.1,116.4 406.5,116.4 406.9,116.4 407.3,116.4 407.7,116.5 408.1,116.5 408.5,116.5 408.9,116.5 409.3,116.5 409.7,116.5 410.1,116.5 410.5,116.5 410.8,116.5 411.2,116.5 411.6,116.6 412.0,116.6 412.4,116.6 412.8,116.6 413.2,116.6 413.6,116.6 414.0,116.6 414.4,116.7 414.8,116.7 415.2,116.7 415.6,116.7 415.9,116.7 416.3,116.7 416.7,116.7 417.1,116.8 417.5,116.8 417.9,116.8 418.3,116.8 418.7,116.8 419.1,116.8 419.5,116.9 419.9,117.1 420.3,117.7 420.7,118.7 421.1,119.8 421.4,121.2 421.8,122.6 422.2,124.5 422.6,127.0 423.0,130.1 423.4,133.7 423.8,137.4 424.2,141.1 424.6,144.8 425.0,148.1 425.4,151.4 425.8,155.0 426.2,158.7 426.5,162.3 426.9,165.8 427.3,168.9 427.7,171.5 428.1,173.4 428.5,174.7 428.9,175.8 429.3,176.8 429.7,177.6 430.1,178.4 430.5,179.1 430.9,179.8 431.3,180.4 431.6,181.0 432.0,181.5 432.4,182.1 432.8,182.6 433.2,183.2 433.6,183.8 434.0,184.4 434.4,185.0 434.8,185.6 435.2,186.2 435.6,186.7 436.0,187.3 436.4,187.8 436.8,188.3 437.1,188.8 437.5,189.4 437.9,189.9 438.3,190.4 438.7,190.9 439.1,191.4 439.5,192.0 439.9,192.5 440.3,193.1 440.7,193.6 441.1,194.2 441.5,194.7 441.9,195.3 442.2,195.8 442.6,196.4 443.0,196.9 443.4,197.5 443.8,198.0 444.2,198.6 444.6,199.2 445.0,199.7 445.4,200.3 445.8,200.8 446.2,201.3 446.6,201.9 447.0,202.4 447.3,202.9 447.7,203.4 448.1,203.9 448.5,204.5 448.9,205.0 449.3,205.5 449.7,206.0 450.1,206.5 450.5,207.1 450.9,207.6 451.3,208.1 451.7,208.6 452.1,209.1 452.5,209.6 452.8,210.1 453.2,210.6 453.6,211.1 454.0,211.5 454.4,212.0 454.8,212.5 455.2,212.9 455.6,213.3 456.0,213.8 456.4,214.2 456.8,214.6 457.2,214.9 457.6,215.3 457.9,215.7 458.3,216.0 458.7,216.4 459.1,216.7 459.5,217.1 459.9,217.4 460.3,217.8 460.7,218.1 461.1,218.4 461.5,218.7 461.9,219.0 462.3,219.3 462.7,219.6 463.0,219.9 463.4,220.2 463.8,220.5 464.2,220.8 464.6,221.1 465.0,221.4 465.4,221.7 465.8,221.9 466.2,222.2 466.6,222.5 467.0,222.7 467.4,223.0 467.8,223.2 468.1,223.5 468.5,223.8 468.9,224.0 469.3,224.3 469.7,224.6 470.1,224.9 470.5,225.1 470.9,225.4 471.3,225.7 471.7,225.9 472.1,226.2 472.5,226.5 472.9,226.7 473.3,227.0 473.6,227.2 474.0,227.5 474.4,227.7 474.8,227.9 475.2,228.2 475.6,228.4 476.0,228.6 476.4,228.8 476.8,229.0 477.2,229.2 477.6,229.3 478.0,229.5 478.4,229.6 478.7,229.8 479.1,229.9 479.5,230.0 479.9,230.1 480.3,230.1 480.7,230.2 481.1,230.3 481.5,230.3 481.9,230.4 482.3,230.5 482.7,230.5 483.1,230.6 483.5,230.6 483.9,230.7 484.2,230.7 484.6,230.8 485.0,230.8 485.4,230.8 485.8,230.9 486.2,230.9 486.6,231.0 487.0,231.0 487.4,231.0 487.8,231.1 488.2,231.1 488.6,231.1 489.0,231.2 489.3,231.2 489.7,231.3 490.1,231.3 490.5,231.3 490.9,231.4 491.3,231.4 491.7,231.5 492.1,231.5 492.5,231.6 492.9,231.6 493.3,231.7 493.7,231.7 494.1,231.8 494.4,231.8 494.8,231.9 495.2,231.9 495.6,232.0 496.0,232.0 496.4,232.1 496.8,232.1 497.2,232.2 497.6,232.2 498.0,232.3 498.4,232.3 498.8,232.4 499.2,232.5 499.6,232.5" fill="none" stroke="#40dce4" stroke-width="2.6999999999999997" stroke-linejoin="round" stroke-linecap="butt" />
<polyline points="326.5,250.1 326.9,249.9 327.2,249.4 327.6,248.8 328.0,247.9 328.4,246.4 328.8,244.3 329.2,241.8 329.6,238.9 330.0,235.6 330.4,231.9 330.8,227.9 331.2,223.7 331.6,219.1 332.0,212.1 332.3,203.2 332.7,195.1 333.1,189.6 333.5,185.8 333.9,182.6 334.3,179.8 334.7,176.8 335.1,173.2 335.5,167.5 335.9,161.6 336.3,160.8 336.7,160.8 337.1,160.8 337.4,160.8 337.8,160.8 338.2,160.8 338.6,160.8 339.0,160.8 339.4,160.8 339.8,160.8 340.2,160.7 340.6,159.9 341.0,158.7 341.4,157.1 341.8,155.2 342.2,153.2 342.6,151.0 342.9,148.8 343.3,146.7 343.7,144.8 344.1,143.1 344.5,141.7 344.9,140.5 345.3,139.4 345.7,138.2 346.1,137.1 346.5,136.1 346.9,135.0 347.3,134.0 347.7,133.1 348.0,132.1 348.4,131.2 348.8,130.4 349.2,129.6 349.6,128.8 350.0,128.1 350.4,127.4 350.8,126.8 351.2,126.2 351.6,125.6 352.0,125.0 352.4,124.4 352.8,123.8 353.1,123.3 353.5,122.7 353.9,122.2 354.3,121.7 354.7,121.2 355.1,120.7 355.5,120.2 355.9,119.8 356.3,119.3 356.7,118.9 357.1,118.6 357.5,118.2 357.9,117.9 358.2,117.6 358.6,117.3 359.0,117.0 359.4,116.8 359.8,116.6 360.2,116.5 360.6,116.3 361.0,116.2 361.4,116.0 361.8,115.9 362.2,115.8 362.6,115.7 363.0,115.6 363.4,115.4 363.7,115.3 364.1,115.2 364.5,115.2 364.9,115.1 365.3,115.0 365.7,114.9 366.1,114.8 366.5,114.7 366.9,114.6 367.3,114.6 367.7,114.5 368.1,114.4 368.5,114.3 368.8,114.3 369.2,114.2 369.6,114.1 370.0,114.0 370.4,114.0 370.8,113.9 371.2,113.8 371.6,113.7 372.0,113.7 372.4,113.6 372.8,113.5 373.2,113.4 373.6,113.4 374.0,113.3 374.3,113.2 374.7,113.2 375.1,113.1 375.5,113.1 375.9,113.0 376.3,112.9 376.7,112.9 377.1,112.8 377.5,112.7 377.9,112.7 378.3,112.6 378.7,112.5 379.1,112.5 379.4,112.4 379.8,112.3 380.2,112.3 380.6,112.2 381.0,112.1 381.4,112.0 381.8,111.9 382.2,111.8 382.6,111.7 383.0,111.5 383.4,111.4 383.8,111.3 384.2,111.3 384.5,111.3 384.9,111.3 385.3,111.3 385.7,111.3 386.1,111.3 386.5,111.3 386.9,111.3 387.3,111.3 387.7,111.3 388.1,111.3 388.5,111.3 388.9,111.3 389.3,111.3 389.7,111.3 390.0,111.3 390.4,111.3 390.8,111.3 391.2,111.3 391.6,111.3 392.0,111.3 392.4,111.3 392.8,111.3 393.2,111.3 393.6,111.3 394.0,111.3 394.4,111.3 394.8,111.3 395.1,111.3 395.5,111.3 395.9,111.3 396.3,111.4 396.7,111.4 397.1,111.4 397.5,111.4 397.9,111.4 398.3,111.4 398.7,111.4 399.1,111.4 399.5,111.4 399.9,111.4 400.2,111.4 400.6,111.5 401.0,111.5 401.4,111.5 401.8,111.5 402.2,111.5 402.6,111.5 403.0,111.5 403.4,111.6 403.8,111.6 404.2,111.6 404.6,111.6 405.0,111.6 405.4,111.6 405.7,111.7 406.1,111.7 406.5,111.7 406.9,111.7 407.3,111.7 407.7,111.8 408.1,111.8 408.5,111.8 408.9,111.8 409.3,111.9 409.7,111.9 410.1,111.9 410.5,111.9 410.8,112.0 411.2,112.0 411.6,112.0 412.0,112.0 412.4,112.1 412.8,112.1 413.2,112.1 413.6,112.2 414.0,112.2 414.4,112.2 414.8,112.3 415.2,112.3 415.6,112.3 415.9,112.4 416.3,112.4 416.7,112.5 417.1,112.5 417.5,112.5 417.9,112.6 418.3,112.6 418.7,112.7 419.1,112.7 419.5,112.7 419.9,112.8 420.3,112.9 420.7,113.3 421.1,113.7 421.4,114.4 421.8,115.1 422.2,116.0 422.6,116.9 423.0,117.8 423.4,119.1 423.8,120.7 424.2,122.7 424.6,124.9 425.0,127.4 425.4,130.1 425.8,132.9 426.2,136.0 426.5,140.2 426.9,145.3 427.3,150.6 427.7,155.8 428.1,160.1 428.5,163.3 428.9,165.9 429.3,166.4 429.7,165.8 430.1,164.8 430.5,163.4 430.9,161.9 431.3,160.4 431.6,159.1 432.0,158.3 432.4,157.9 432.8,158.1 433.2,158.5 433.6,159.2 434.0,160.2 434.4,161.3 434.8,162.6 435.2,164.1 435.6,165.7 436.0,167.3 436.4,169.1 436.8,170.8 437.1,172.6 437.5,174.3 437.9,176.0 438.3,177.6 438.7,179.1 439.1,180.4 439.5,181.6 439.9,182.5 440.3,183.3 440.7,184.1 441.1,184.8 441.5,185.5 441.9,186.2 442.2,186.8 442.6,187.4 443.0,188.0 443.4,188.5 443.8,189.1 444.2,189.7 444.6,190.3 445.0,190.9 445.4,191.6 445.8,192.3 446.2,192.9 446.6,193.6 447.0,194.3 447.3,195.1 447.7,195.8 448.1,196.5 448.5,197.2 448.9,197.9 449.3,198.6 449.7,199.3 450.1,200.0 450.5,200.6 450.9,201.3 451.3,201.9 451.7,202.5 452.1,203.1 452.5,203.7 452.8,204.2 453.2,204.7 453.6,205.3 454.0,205.8 454.4,206.3 454.8,206.8 455.2,207.3 455.6,207.8 456.0,208.3 456.4,208.8 456.8,209.3 457.2,209.7 457.6,210.2 457.9,210.6 458.3,211.0 458.7,211.5 459.1,211.9 459.5,212.3 459.9,212.6 460.3,213.0 460.7,213.4 461.1,213.7 461.5,214.0 461.9,214.3 462.3,214.6 462.7,214.9 463.0,215.2 463.4,215.5 463.8,215.8 464.2,216.1 464.6,216.4 465.0,216.6 465.4,216.9 465.8,217.1 466.2,217.4 466.6,217.6 467.0,217.9 467.4,218.1 467.8,218.4 468.1,218.6 468.5,218.8 468.9,219.0 469.3,219.3 469.7,219.5 470.1,219.7 470.5,219.9 470.9,220.1 471.3,220.3 471.7,220.5 472.1,220.7 472.5,220.9 472.9,221.1 473.3,221.3 473.6,221.5 474.0,221.7 474.4,221.8 474.8,222.0 475.2,222.2 475.6,222.4 476.0,222.5 476.4,222.7 476.8,222.9 477.2,223.0 477.6,223.2 478.0,223.3 478.4,223.5 478.7,223.7 479.1,223.8 479.5,224.0 479.9,224.1 480.3,224.2 480.7,224.4 481.1,224.5 481.5,224.7 481.9,224.8 482.3,225.0 482.7,225.1 483.1,225.2 483.5,225.4 483.9,225.5 484.2,225.7 484.6,225.8 485.0,226.0 485.4,226.1 485.8,226.2 486.2,226.4 486.6,226.5 487.0,226.7 487.4,226.8 487.8,227.0 488.2,227.1 488.6,227.3 489.0,227.4 489.3,227.6 489.7,227.8 490.1,227.9 490.5,228.1 490.9,228.2 491.3,228.4 491.7,228.6 492.1,228.7 492.5,228.9 492.9,229.0 493.3,229.2 493.7,229.4 494.1,229.5 494.4,229.7 494.8,229.9 495.2,230.0 495.6,230.2 496.0,230.4 496.4,230.5 496.8,230.7 497.2,230.9 497.6,231.0 498.0,231.2 498.4,231.4 498.8,231.5 499.2,231.7 499.6,231.9" fill="none" stroke="#0a0ab8" stroke-width="2.6999999999999997" stroke-linejoin="round" stroke-linecap="butt" />
</g>
<rect x="0" y="0" width="1.4" height="286" fill="#000"/><rect x="0" y="0" width="520" height="1.1" fill="#000"/>
<rect x="0" y="284.1" width="520" height="1.9" fill="#000"/>
<rect x="518.2" y="0" width="1.8" height="286" fill="#000"/>
</svg>
</body></html>
